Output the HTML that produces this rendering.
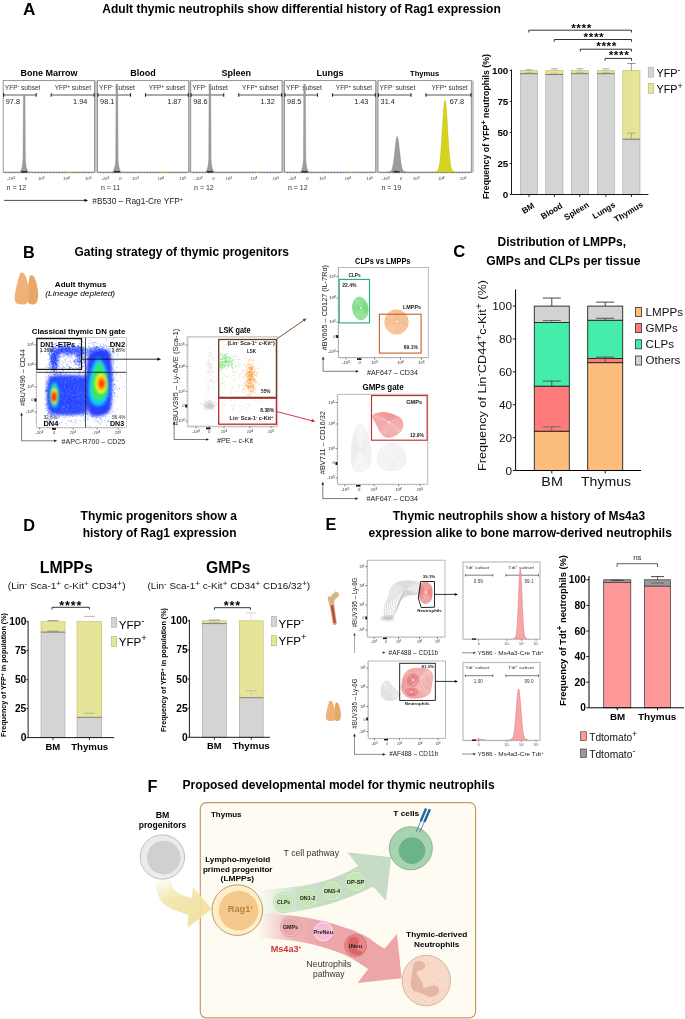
<!DOCTYPE html>
<html><head><meta charset="utf-8"><style>
html,body{margin:0;padding:0;background:#fff;}
svg{display:block;filter:blur(0.3px);font-family:"Liberation Sans",sans-serif;}
</style></head><body>
<svg width="685" height="1019" viewBox="0 0 685 1019">
<defs><clipPath id="clipDN"><rect x="36.6" y="337.6" width="89.80000000000001" height="90.0"/></clipPath><filter id="bl15" x="-50%" y="-50%" width="200%" height="200%"><feGaussianBlur stdDeviation="1.4"/></filter><filter id="bl08" x="-50%" y="-50%" width="200%" height="200%"><feGaussianBlur stdDeviation="0.8"/></filter><linearGradient id="gy" x1="0" y1="0" x2="0.35" y2="1"><stop offset="0" stop-color="#f1e3a3" stop-opacity="0.05"/><stop offset="0.45" stop-color="#f1e3a3" stop-opacity="0.85"/><stop offset="1" stop-color="#f0e2a0"/></linearGradient><linearGradient id="gg" gradientUnits="userSpaceOnUse" x1="258" y1="0" x2="330" y2="0"><stop offset="0" stop-color="#c6dcc6" stop-opacity="0"/><stop offset="0.55" stop-color="#c6dcc6" stop-opacity="0.85"/><stop offset="1" stop-color="#c6dcc6"/></linearGradient><linearGradient id="gr" gradientUnits="userSpaceOnUse" x1="258" y1="0" x2="320" y2="0"><stop offset="0" stop-color="#eca6a8" stop-opacity="0"/><stop offset="0.6" stop-color="#eca6a8" stop-opacity="0.85"/><stop offset="1" stop-color="#eca6a8"/></linearGradient></defs>
<rect width="685" height="1019" fill="#fff"/>
<text x="22.90" y="14.70" font-size="17.2" font-weight="bold" fill="#000" >A</text>
<text x="102.30" y="12.80" font-size="12" font-weight="bold" fill="#000" textLength="398.50" lengthAdjust="spacingAndGlyphs" >Adult thymic neutrophils show differential history of Rag1 expression</text>
<rect x="94.30" y="80.60" width="2.80" height="91.90" fill="#c4c4c4" stroke="none" stroke-width="1" />
<rect x="3.20" y="80.60" width="91.40" height="91.90" fill="#fff" stroke="#8a8a8a" stroke-width="0.9" />
<text x="48.90" y="75.80" font-size="9" font-weight="bold" fill="#000" text-anchor="middle" >Bone Marrow</text>
<text x="4.80" y="90.30" font-size="6.6" font-weight="normal" fill="#333" >YFP<tspan baseline-shift="super" font-size="70%">-</tspan> subset</text>
<text x="91.00" y="90.30" font-size="6.5" font-weight="normal" fill="#333" text-anchor="end" >YFP<tspan baseline-shift="super" font-size="70%">+</tspan> subset</text>
<line x1="3.20" y1="95.00" x2="36.20" y2="95.00" stroke="#444" stroke-width="0.9" />
<line x1="3.60" y1="93.30" x2="3.60" y2="96.70" stroke="#222" stroke-width="1.1" />
<line x1="36.20" y1="93.30" x2="36.20" y2="96.70" stroke="#222" stroke-width="1.1" />
<line x1="51.20" y1="95.00" x2="94.60" y2="95.00" stroke="#444" stroke-width="0.9" />
<line x1="51.20" y1="93.30" x2="51.20" y2="96.70" stroke="#222" stroke-width="1.1" />
<line x1="94.20" y1="93.30" x2="94.20" y2="96.70" stroke="#222" stroke-width="1.1" />
<text x="5.80" y="104.00" font-size="7.3" font-weight="normal" fill="#222" >97.8</text>
<text x="87.30" y="104.00" font-size="7.3" font-weight="normal" fill="#222" text-anchor="end" >1.94</text>
<line x1="3.20" y1="171.90" x2="94.60" y2="171.90" stroke="#999" stroke-width="0.6" />
<line x1="6.20" y1="172.50" x2="6.20" y2="173.70" stroke="#555" stroke-width="0.5" />
<line x1="9.14" y1="172.50" x2="9.14" y2="173.70" stroke="#555" stroke-width="0.5" />
<line x1="12.09" y1="172.50" x2="12.09" y2="173.70" stroke="#555" stroke-width="0.5" />
<line x1="15.03" y1="172.50" x2="15.03" y2="173.70" stroke="#555" stroke-width="0.5" />
<line x1="17.98" y1="172.50" x2="17.98" y2="173.70" stroke="#555" stroke-width="0.5" />
<line x1="20.92" y1="172.50" x2="20.92" y2="173.70" stroke="#555" stroke-width="0.5" />
<line x1="23.87" y1="172.50" x2="23.87" y2="173.70" stroke="#555" stroke-width="0.5" />
<line x1="26.81" y1="172.50" x2="26.81" y2="173.70" stroke="#555" stroke-width="0.5" />
<line x1="29.76" y1="172.50" x2="29.76" y2="173.70" stroke="#555" stroke-width="0.5" />
<line x1="32.70" y1="172.50" x2="32.70" y2="173.70" stroke="#555" stroke-width="0.5" />
<line x1="35.65" y1="172.50" x2="35.65" y2="173.70" stroke="#555" stroke-width="0.5" />
<line x1="38.59" y1="172.50" x2="38.59" y2="173.70" stroke="#555" stroke-width="0.5" />
<line x1="41.54" y1="172.50" x2="41.54" y2="173.70" stroke="#555" stroke-width="0.5" />
<line x1="44.48" y1="172.50" x2="44.48" y2="173.70" stroke="#555" stroke-width="0.5" />
<line x1="47.43" y1="172.50" x2="47.43" y2="173.70" stroke="#555" stroke-width="0.5" />
<line x1="50.37" y1="172.50" x2="50.37" y2="173.70" stroke="#555" stroke-width="0.5" />
<line x1="53.32" y1="172.50" x2="53.32" y2="173.70" stroke="#555" stroke-width="0.5" />
<line x1="56.26" y1="172.50" x2="56.26" y2="173.70" stroke="#555" stroke-width="0.5" />
<line x1="59.21" y1="172.50" x2="59.21" y2="173.70" stroke="#555" stroke-width="0.5" />
<line x1="62.15" y1="172.50" x2="62.15" y2="173.70" stroke="#555" stroke-width="0.5" />
<line x1="65.10" y1="172.50" x2="65.10" y2="173.70" stroke="#555" stroke-width="0.5" />
<line x1="68.04" y1="172.50" x2="68.04" y2="173.70" stroke="#555" stroke-width="0.5" />
<line x1="70.99" y1="172.50" x2="70.99" y2="173.70" stroke="#555" stroke-width="0.5" />
<line x1="73.93" y1="172.50" x2="73.93" y2="173.70" stroke="#555" stroke-width="0.5" />
<line x1="76.88" y1="172.50" x2="76.88" y2="173.70" stroke="#555" stroke-width="0.5" />
<line x1="79.82" y1="172.50" x2="79.82" y2="173.70" stroke="#555" stroke-width="0.5" />
<line x1="82.77" y1="172.50" x2="82.77" y2="173.70" stroke="#555" stroke-width="0.5" />
<line x1="85.71" y1="172.50" x2="85.71" y2="173.70" stroke="#555" stroke-width="0.5" />
<line x1="88.66" y1="172.50" x2="88.66" y2="173.70" stroke="#555" stroke-width="0.5" />
<line x1="91.60" y1="172.50" x2="91.60" y2="173.70" stroke="#555" stroke-width="0.5" />
<text x="11.00" y="180.40" font-size="4.2" font-weight="normal" fill="#444" font-style="italic" text-anchor="middle" >-10<tspan baseline-shift="48%" font-size="82%">3</tspan></text>
<text x="26.00" y="180.40" font-size="4.2" font-weight="normal" fill="#444" font-style="italic" text-anchor="middle" >0</text>
<text x="41.20" y="180.40" font-size="4.2" font-weight="normal" fill="#444" font-style="italic" text-anchor="middle" >10<tspan baseline-shift="48%" font-size="82%">3</tspan></text>
<text x="66.40" y="180.40" font-size="4.2" font-weight="normal" fill="#444" font-style="italic" text-anchor="middle" >10<tspan baseline-shift="48%" font-size="82%">4</tspan></text>
<text x="88.30" y="180.40" font-size="4.2" font-weight="normal" fill="#444" font-style="italic" text-anchor="middle" >10<tspan baseline-shift="48%" font-size="82%">5</tspan></text>
<text x="6.60" y="190.00" font-size="7" font-weight="normal" fill="#333" >n = 12</text>
<path d="M23.35,95.2 L25.05,95.2 L25.40,158.10 C25.70,166.10 26.80,170.10 28.40,172.10 L20.00,172.10 C21.60,170.10 22.70,166.10 23.00,158.10 Z" fill="#9c9c9c" stroke="#8a8a8a" stroke-width="0.35" />
<rect x="21.20" y="171.10" width="6.00" height="1.40" fill="#222" stroke="none" stroke-width="1" />
<rect x="67.20" y="171.10" width="5.00" height="1.20" fill="#e8e070" stroke="none" stroke-width="1" />
<rect x="188.40" y="80.60" width="2.80" height="91.90" fill="#c4c4c4" stroke="none" stroke-width="1" />
<rect x="97.50" y="80.60" width="91.20" height="91.90" fill="#fff" stroke="#8a8a8a" stroke-width="0.9" />
<text x="143.10" y="75.80" font-size="9" font-weight="bold" fill="#000" text-anchor="middle" >Blood</text>
<text x="99.10" y="90.30" font-size="6.6" font-weight="normal" fill="#333" >YFP<tspan baseline-shift="super" font-size="70%">-</tspan> subset</text>
<text x="185.10" y="90.30" font-size="6.5" font-weight="normal" fill="#333" text-anchor="end" >YFP<tspan baseline-shift="super" font-size="70%">+</tspan> subset</text>
<line x1="97.50" y1="95.00" x2="130.50" y2="95.00" stroke="#444" stroke-width="0.9" />
<line x1="97.90" y1="93.30" x2="97.90" y2="96.70" stroke="#222" stroke-width="1.1" />
<line x1="130.50" y1="93.30" x2="130.50" y2="96.70" stroke="#222" stroke-width="1.1" />
<line x1="145.50" y1="95.00" x2="188.70" y2="95.00" stroke="#444" stroke-width="0.9" />
<line x1="145.50" y1="93.30" x2="145.50" y2="96.70" stroke="#222" stroke-width="1.1" />
<line x1="188.30" y1="93.30" x2="188.30" y2="96.70" stroke="#222" stroke-width="1.1" />
<text x="100.10" y="104.00" font-size="7.3" font-weight="normal" fill="#222" >98.1</text>
<text x="181.40" y="104.00" font-size="7.3" font-weight="normal" fill="#222" text-anchor="end" >1.87</text>
<line x1="97.50" y1="171.90" x2="188.70" y2="171.90" stroke="#999" stroke-width="0.6" />
<line x1="100.50" y1="172.50" x2="100.50" y2="173.70" stroke="#555" stroke-width="0.5" />
<line x1="103.44" y1="172.50" x2="103.44" y2="173.70" stroke="#555" stroke-width="0.5" />
<line x1="106.38" y1="172.50" x2="106.38" y2="173.70" stroke="#555" stroke-width="0.5" />
<line x1="109.31" y1="172.50" x2="109.31" y2="173.70" stroke="#555" stroke-width="0.5" />
<line x1="112.25" y1="172.50" x2="112.25" y2="173.70" stroke="#555" stroke-width="0.5" />
<line x1="115.19" y1="172.50" x2="115.19" y2="173.70" stroke="#555" stroke-width="0.5" />
<line x1="118.13" y1="172.50" x2="118.13" y2="173.70" stroke="#555" stroke-width="0.5" />
<line x1="121.07" y1="172.50" x2="121.07" y2="173.70" stroke="#555" stroke-width="0.5" />
<line x1="124.00" y1="172.50" x2="124.00" y2="173.70" stroke="#555" stroke-width="0.5" />
<line x1="126.94" y1="172.50" x2="126.94" y2="173.70" stroke="#555" stroke-width="0.5" />
<line x1="129.88" y1="172.50" x2="129.88" y2="173.70" stroke="#555" stroke-width="0.5" />
<line x1="132.82" y1="172.50" x2="132.82" y2="173.70" stroke="#555" stroke-width="0.5" />
<line x1="135.76" y1="172.50" x2="135.76" y2="173.70" stroke="#555" stroke-width="0.5" />
<line x1="138.69" y1="172.50" x2="138.69" y2="173.70" stroke="#555" stroke-width="0.5" />
<line x1="141.63" y1="172.50" x2="141.63" y2="173.70" stroke="#555" stroke-width="0.5" />
<line x1="144.57" y1="172.50" x2="144.57" y2="173.70" stroke="#555" stroke-width="0.5" />
<line x1="147.51" y1="172.50" x2="147.51" y2="173.70" stroke="#555" stroke-width="0.5" />
<line x1="150.44" y1="172.50" x2="150.44" y2="173.70" stroke="#555" stroke-width="0.5" />
<line x1="153.38" y1="172.50" x2="153.38" y2="173.70" stroke="#555" stroke-width="0.5" />
<line x1="156.32" y1="172.50" x2="156.32" y2="173.70" stroke="#555" stroke-width="0.5" />
<line x1="159.26" y1="172.50" x2="159.26" y2="173.70" stroke="#555" stroke-width="0.5" />
<line x1="162.20" y1="172.50" x2="162.20" y2="173.70" stroke="#555" stroke-width="0.5" />
<line x1="165.13" y1="172.50" x2="165.13" y2="173.70" stroke="#555" stroke-width="0.5" />
<line x1="168.07" y1="172.50" x2="168.07" y2="173.70" stroke="#555" stroke-width="0.5" />
<line x1="171.01" y1="172.50" x2="171.01" y2="173.70" stroke="#555" stroke-width="0.5" />
<line x1="173.95" y1="172.50" x2="173.95" y2="173.70" stroke="#555" stroke-width="0.5" />
<line x1="176.89" y1="172.50" x2="176.89" y2="173.70" stroke="#555" stroke-width="0.5" />
<line x1="179.82" y1="172.50" x2="179.82" y2="173.70" stroke="#555" stroke-width="0.5" />
<line x1="182.76" y1="172.50" x2="182.76" y2="173.70" stroke="#555" stroke-width="0.5" />
<line x1="185.70" y1="172.50" x2="185.70" y2="173.70" stroke="#555" stroke-width="0.5" />
<text x="105.30" y="180.40" font-size="4.2" font-weight="normal" fill="#444" font-style="italic" text-anchor="middle" >-10<tspan baseline-shift="48%" font-size="82%">3</tspan></text>
<text x="120.30" y="180.40" font-size="4.2" font-weight="normal" fill="#444" font-style="italic" text-anchor="middle" >0</text>
<text x="135.50" y="180.40" font-size="4.2" font-weight="normal" fill="#444" font-style="italic" text-anchor="middle" >10<tspan baseline-shift="48%" font-size="82%">3</tspan></text>
<text x="160.70" y="180.40" font-size="4.2" font-weight="normal" fill="#444" font-style="italic" text-anchor="middle" >10<tspan baseline-shift="48%" font-size="82%">4</tspan></text>
<text x="182.60" y="180.40" font-size="4.2" font-weight="normal" fill="#444" font-style="italic" text-anchor="middle" >10<tspan baseline-shift="48%" font-size="82%">5</tspan></text>
<text x="100.90" y="190.00" font-size="7" font-weight="normal" fill="#333" >n = 11</text>
<path d="M116.05,84.0 L117.75,84.0 L118.10,158.10 C118.40,166.10 119.50,170.10 121.10,172.10 L112.70,172.10 C114.30,170.10 115.40,166.10 115.70,158.10 Z" fill="#9c9c9c" stroke="#8a8a8a" stroke-width="0.35" />
<rect x="113.90" y="171.10" width="6.00" height="1.40" fill="#222" stroke="none" stroke-width="1" />
<rect x="161.50" y="171.10" width="5.00" height="1.20" fill="#e8e070" stroke="none" stroke-width="1" />
<rect x="281.70" y="80.60" width="2.80" height="91.90" fill="#c4c4c4" stroke="none" stroke-width="1" />
<rect x="190.70" y="80.60" width="91.30" height="91.90" fill="#fff" stroke="#8a8a8a" stroke-width="0.9" />
<text x="236.35" y="75.80" font-size="9" font-weight="bold" fill="#000" text-anchor="middle" >Spleen</text>
<text x="192.30" y="90.30" font-size="6.6" font-weight="normal" fill="#333" >YFP<tspan baseline-shift="super" font-size="70%">-</tspan> subset</text>
<text x="278.40" y="90.30" font-size="6.5" font-weight="normal" fill="#333" text-anchor="end" >YFP<tspan baseline-shift="super" font-size="70%">+</tspan> subset</text>
<line x1="190.70" y1="95.00" x2="223.70" y2="95.00" stroke="#444" stroke-width="0.9" />
<line x1="191.10" y1="93.30" x2="191.10" y2="96.70" stroke="#222" stroke-width="1.1" />
<line x1="223.70" y1="93.30" x2="223.70" y2="96.70" stroke="#222" stroke-width="1.1" />
<line x1="238.70" y1="95.00" x2="282.00" y2="95.00" stroke="#444" stroke-width="0.9" />
<line x1="238.70" y1="93.30" x2="238.70" y2="96.70" stroke="#222" stroke-width="1.1" />
<line x1="281.60" y1="93.30" x2="281.60" y2="96.70" stroke="#222" stroke-width="1.1" />
<text x="193.30" y="104.00" font-size="7.3" font-weight="normal" fill="#222" >98.6</text>
<text x="274.70" y="104.00" font-size="7.3" font-weight="normal" fill="#222" text-anchor="end" >1.32</text>
<line x1="190.70" y1="171.90" x2="282.00" y2="171.90" stroke="#999" stroke-width="0.6" />
<line x1="193.70" y1="172.50" x2="193.70" y2="173.70" stroke="#555" stroke-width="0.5" />
<line x1="196.64" y1="172.50" x2="196.64" y2="173.70" stroke="#555" stroke-width="0.5" />
<line x1="199.58" y1="172.50" x2="199.58" y2="173.70" stroke="#555" stroke-width="0.5" />
<line x1="202.52" y1="172.50" x2="202.52" y2="173.70" stroke="#555" stroke-width="0.5" />
<line x1="205.47" y1="172.50" x2="205.47" y2="173.70" stroke="#555" stroke-width="0.5" />
<line x1="208.41" y1="172.50" x2="208.41" y2="173.70" stroke="#555" stroke-width="0.5" />
<line x1="211.35" y1="172.50" x2="211.35" y2="173.70" stroke="#555" stroke-width="0.5" />
<line x1="214.29" y1="172.50" x2="214.29" y2="173.70" stroke="#555" stroke-width="0.5" />
<line x1="217.23" y1="172.50" x2="217.23" y2="173.70" stroke="#555" stroke-width="0.5" />
<line x1="220.17" y1="172.50" x2="220.17" y2="173.70" stroke="#555" stroke-width="0.5" />
<line x1="223.11" y1="172.50" x2="223.11" y2="173.70" stroke="#555" stroke-width="0.5" />
<line x1="226.06" y1="172.50" x2="226.06" y2="173.70" stroke="#555" stroke-width="0.5" />
<line x1="229.00" y1="172.50" x2="229.00" y2="173.70" stroke="#555" stroke-width="0.5" />
<line x1="231.94" y1="172.50" x2="231.94" y2="173.70" stroke="#555" stroke-width="0.5" />
<line x1="234.88" y1="172.50" x2="234.88" y2="173.70" stroke="#555" stroke-width="0.5" />
<line x1="237.82" y1="172.50" x2="237.82" y2="173.70" stroke="#555" stroke-width="0.5" />
<line x1="240.76" y1="172.50" x2="240.76" y2="173.70" stroke="#555" stroke-width="0.5" />
<line x1="243.70" y1="172.50" x2="243.70" y2="173.70" stroke="#555" stroke-width="0.5" />
<line x1="246.64" y1="172.50" x2="246.64" y2="173.70" stroke="#555" stroke-width="0.5" />
<line x1="249.59" y1="172.50" x2="249.59" y2="173.70" stroke="#555" stroke-width="0.5" />
<line x1="252.53" y1="172.50" x2="252.53" y2="173.70" stroke="#555" stroke-width="0.5" />
<line x1="255.47" y1="172.50" x2="255.47" y2="173.70" stroke="#555" stroke-width="0.5" />
<line x1="258.41" y1="172.50" x2="258.41" y2="173.70" stroke="#555" stroke-width="0.5" />
<line x1="261.35" y1="172.50" x2="261.35" y2="173.70" stroke="#555" stroke-width="0.5" />
<line x1="264.29" y1="172.50" x2="264.29" y2="173.70" stroke="#555" stroke-width="0.5" />
<line x1="267.23" y1="172.50" x2="267.23" y2="173.70" stroke="#555" stroke-width="0.5" />
<line x1="270.18" y1="172.50" x2="270.18" y2="173.70" stroke="#555" stroke-width="0.5" />
<line x1="273.12" y1="172.50" x2="273.12" y2="173.70" stroke="#555" stroke-width="0.5" />
<line x1="276.06" y1="172.50" x2="276.06" y2="173.70" stroke="#555" stroke-width="0.5" />
<line x1="279.00" y1="172.50" x2="279.00" y2="173.70" stroke="#555" stroke-width="0.5" />
<text x="198.50" y="180.40" font-size="4.2" font-weight="normal" fill="#444" font-style="italic" text-anchor="middle" >-10<tspan baseline-shift="48%" font-size="82%">3</tspan></text>
<text x="213.50" y="180.40" font-size="4.2" font-weight="normal" fill="#444" font-style="italic" text-anchor="middle" >0</text>
<text x="228.70" y="180.40" font-size="4.2" font-weight="normal" fill="#444" font-style="italic" text-anchor="middle" >10<tspan baseline-shift="48%" font-size="82%">3</tspan></text>
<text x="253.90" y="180.40" font-size="4.2" font-weight="normal" fill="#444" font-style="italic" text-anchor="middle" >10<tspan baseline-shift="48%" font-size="82%">4</tspan></text>
<text x="275.80" y="180.40" font-size="4.2" font-weight="normal" fill="#444" font-style="italic" text-anchor="middle" >10<tspan baseline-shift="48%" font-size="82%">5</tspan></text>
<text x="194.10" y="190.00" font-size="7" font-weight="normal" fill="#333" >n = 12</text>
<path d="M209.05,84.0 L210.75,84.0 L211.10,158.10 C211.40,166.10 212.50,170.10 214.10,172.10 L205.70,172.10 C207.30,170.10 208.40,166.10 208.70,158.10 Z" fill="#9c9c9c" stroke="#8a8a8a" stroke-width="0.35" />
<rect x="206.90" y="171.10" width="6.00" height="1.40" fill="#222" stroke="none" stroke-width="1" />
<rect x="254.70" y="171.10" width="5.00" height="1.20" fill="#e8e070" stroke="none" stroke-width="1" />
<rect x="375.40" y="80.60" width="2.80" height="91.90" fill="#c4c4c4" stroke="none" stroke-width="1" />
<rect x="284.50" y="80.60" width="91.20" height="91.90" fill="#fff" stroke="#8a8a8a" stroke-width="0.9" />
<text x="330.10" y="75.80" font-size="9" font-weight="bold" fill="#000" text-anchor="middle" >Lungs</text>
<text x="286.10" y="90.30" font-size="6.6" font-weight="normal" fill="#333" >YFP<tspan baseline-shift="super" font-size="70%">-</tspan> subset</text>
<text x="372.10" y="90.30" font-size="6.5" font-weight="normal" fill="#333" text-anchor="end" >YFP<tspan baseline-shift="super" font-size="70%">+</tspan> subset</text>
<line x1="284.50" y1="95.00" x2="317.50" y2="95.00" stroke="#444" stroke-width="0.9" />
<line x1="284.90" y1="93.30" x2="284.90" y2="96.70" stroke="#222" stroke-width="1.1" />
<line x1="317.50" y1="93.30" x2="317.50" y2="96.70" stroke="#222" stroke-width="1.1" />
<line x1="332.50" y1="95.00" x2="375.70" y2="95.00" stroke="#444" stroke-width="0.9" />
<line x1="332.50" y1="93.30" x2="332.50" y2="96.70" stroke="#222" stroke-width="1.1" />
<line x1="375.30" y1="93.30" x2="375.30" y2="96.70" stroke="#222" stroke-width="1.1" />
<text x="287.10" y="104.00" font-size="7.3" font-weight="normal" fill="#222" >98.5</text>
<text x="368.40" y="104.00" font-size="7.3" font-weight="normal" fill="#222" text-anchor="end" >1.43</text>
<line x1="284.50" y1="171.90" x2="375.70" y2="171.90" stroke="#999" stroke-width="0.6" />
<line x1="287.50" y1="172.50" x2="287.50" y2="173.70" stroke="#555" stroke-width="0.5" />
<line x1="290.44" y1="172.50" x2="290.44" y2="173.70" stroke="#555" stroke-width="0.5" />
<line x1="293.38" y1="172.50" x2="293.38" y2="173.70" stroke="#555" stroke-width="0.5" />
<line x1="296.31" y1="172.50" x2="296.31" y2="173.70" stroke="#555" stroke-width="0.5" />
<line x1="299.25" y1="172.50" x2="299.25" y2="173.70" stroke="#555" stroke-width="0.5" />
<line x1="302.19" y1="172.50" x2="302.19" y2="173.70" stroke="#555" stroke-width="0.5" />
<line x1="305.13" y1="172.50" x2="305.13" y2="173.70" stroke="#555" stroke-width="0.5" />
<line x1="308.07" y1="172.50" x2="308.07" y2="173.70" stroke="#555" stroke-width="0.5" />
<line x1="311.00" y1="172.50" x2="311.00" y2="173.70" stroke="#555" stroke-width="0.5" />
<line x1="313.94" y1="172.50" x2="313.94" y2="173.70" stroke="#555" stroke-width="0.5" />
<line x1="316.88" y1="172.50" x2="316.88" y2="173.70" stroke="#555" stroke-width="0.5" />
<line x1="319.82" y1="172.50" x2="319.82" y2="173.70" stroke="#555" stroke-width="0.5" />
<line x1="322.76" y1="172.50" x2="322.76" y2="173.70" stroke="#555" stroke-width="0.5" />
<line x1="325.69" y1="172.50" x2="325.69" y2="173.70" stroke="#555" stroke-width="0.5" />
<line x1="328.63" y1="172.50" x2="328.63" y2="173.70" stroke="#555" stroke-width="0.5" />
<line x1="331.57" y1="172.50" x2="331.57" y2="173.70" stroke="#555" stroke-width="0.5" />
<line x1="334.51" y1="172.50" x2="334.51" y2="173.70" stroke="#555" stroke-width="0.5" />
<line x1="337.44" y1="172.50" x2="337.44" y2="173.70" stroke="#555" stroke-width="0.5" />
<line x1="340.38" y1="172.50" x2="340.38" y2="173.70" stroke="#555" stroke-width="0.5" />
<line x1="343.32" y1="172.50" x2="343.32" y2="173.70" stroke="#555" stroke-width="0.5" />
<line x1="346.26" y1="172.50" x2="346.26" y2="173.70" stroke="#555" stroke-width="0.5" />
<line x1="349.20" y1="172.50" x2="349.20" y2="173.70" stroke="#555" stroke-width="0.5" />
<line x1="352.13" y1="172.50" x2="352.13" y2="173.70" stroke="#555" stroke-width="0.5" />
<line x1="355.07" y1="172.50" x2="355.07" y2="173.70" stroke="#555" stroke-width="0.5" />
<line x1="358.01" y1="172.50" x2="358.01" y2="173.70" stroke="#555" stroke-width="0.5" />
<line x1="360.95" y1="172.50" x2="360.95" y2="173.70" stroke="#555" stroke-width="0.5" />
<line x1="363.89" y1="172.50" x2="363.89" y2="173.70" stroke="#555" stroke-width="0.5" />
<line x1="366.82" y1="172.50" x2="366.82" y2="173.70" stroke="#555" stroke-width="0.5" />
<line x1="369.76" y1="172.50" x2="369.76" y2="173.70" stroke="#555" stroke-width="0.5" />
<line x1="372.70" y1="172.50" x2="372.70" y2="173.70" stroke="#555" stroke-width="0.5" />
<text x="292.30" y="180.40" font-size="4.2" font-weight="normal" fill="#444" font-style="italic" text-anchor="middle" >-10<tspan baseline-shift="48%" font-size="82%">3</tspan></text>
<text x="307.30" y="180.40" font-size="4.2" font-weight="normal" fill="#444" font-style="italic" text-anchor="middle" >0</text>
<text x="322.50" y="180.40" font-size="4.2" font-weight="normal" fill="#444" font-style="italic" text-anchor="middle" >10<tspan baseline-shift="48%" font-size="82%">3</tspan></text>
<text x="347.70" y="180.40" font-size="4.2" font-weight="normal" fill="#444" font-style="italic" text-anchor="middle" >10<tspan baseline-shift="48%" font-size="82%">4</tspan></text>
<text x="369.60" y="180.40" font-size="4.2" font-weight="normal" fill="#444" font-style="italic" text-anchor="middle" >10<tspan baseline-shift="48%" font-size="82%">5</tspan></text>
<text x="287.90" y="190.00" font-size="7" font-weight="normal" fill="#333" >n = 12</text>
<path d="M303.75,84.0 L305.45,84.0 L305.80,158.10 C306.10,166.10 307.20,170.10 308.80,172.10 L300.40,172.10 C302.00,170.10 303.10,166.10 303.40,158.10 Z" fill="#9c9c9c" stroke="#8a8a8a" stroke-width="0.35" />
<rect x="301.60" y="171.10" width="6.00" height="1.40" fill="#222" stroke="none" stroke-width="1" />
<rect x="348.50" y="171.10" width="5.00" height="1.20" fill="#e8e070" stroke="none" stroke-width="1" />
<rect x="471.00" y="80.60" width="2.80" height="91.90" fill="#c4c4c4" stroke="none" stroke-width="1" />
<rect x="378.00" y="80.60" width="93.30" height="91.90" fill="#fff" stroke="#8a8a8a" stroke-width="0.9" />
<text x="424.65" y="75.80" font-size="7.6" font-weight="bold" fill="#000" text-anchor="middle" >Thymus</text>
<text x="379.60" y="90.30" font-size="6.6" font-weight="normal" fill="#333" >YFP<tspan baseline-shift="super" font-size="70%">-</tspan> subset</text>
<text x="467.70" y="90.30" font-size="6.5" font-weight="normal" fill="#333" text-anchor="end" >YFP<tspan baseline-shift="super" font-size="70%">+</tspan> subset</text>
<line x1="378.00" y1="95.00" x2="411.00" y2="95.00" stroke="#444" stroke-width="0.9" />
<line x1="378.40" y1="93.30" x2="378.40" y2="96.70" stroke="#222" stroke-width="1.1" />
<line x1="411.00" y1="93.30" x2="411.00" y2="96.70" stroke="#222" stroke-width="1.1" />
<line x1="426.00" y1="95.00" x2="471.30" y2="95.00" stroke="#444" stroke-width="0.9" />
<line x1="426.00" y1="93.30" x2="426.00" y2="96.70" stroke="#222" stroke-width="1.1" />
<line x1="470.90" y1="93.30" x2="470.90" y2="96.70" stroke="#222" stroke-width="1.1" />
<text x="380.60" y="104.00" font-size="7.3" font-weight="normal" fill="#222" >31.4</text>
<text x="464.00" y="104.00" font-size="7.3" font-weight="normal" fill="#222" text-anchor="end" >67.8</text>
<line x1="378.00" y1="171.90" x2="471.30" y2="171.90" stroke="#999" stroke-width="0.6" />
<line x1="381.00" y1="172.50" x2="381.00" y2="173.70" stroke="#555" stroke-width="0.5" />
<line x1="384.01" y1="172.50" x2="384.01" y2="173.70" stroke="#555" stroke-width="0.5" />
<line x1="387.02" y1="172.50" x2="387.02" y2="173.70" stroke="#555" stroke-width="0.5" />
<line x1="390.03" y1="172.50" x2="390.03" y2="173.70" stroke="#555" stroke-width="0.5" />
<line x1="393.04" y1="172.50" x2="393.04" y2="173.70" stroke="#555" stroke-width="0.5" />
<line x1="396.05" y1="172.50" x2="396.05" y2="173.70" stroke="#555" stroke-width="0.5" />
<line x1="399.06" y1="172.50" x2="399.06" y2="173.70" stroke="#555" stroke-width="0.5" />
<line x1="402.07" y1="172.50" x2="402.07" y2="173.70" stroke="#555" stroke-width="0.5" />
<line x1="405.08" y1="172.50" x2="405.08" y2="173.70" stroke="#555" stroke-width="0.5" />
<line x1="408.09" y1="172.50" x2="408.09" y2="173.70" stroke="#555" stroke-width="0.5" />
<line x1="411.10" y1="172.50" x2="411.10" y2="173.70" stroke="#555" stroke-width="0.5" />
<line x1="414.11" y1="172.50" x2="414.11" y2="173.70" stroke="#555" stroke-width="0.5" />
<line x1="417.12" y1="172.50" x2="417.12" y2="173.70" stroke="#555" stroke-width="0.5" />
<line x1="420.13" y1="172.50" x2="420.13" y2="173.70" stroke="#555" stroke-width="0.5" />
<line x1="423.14" y1="172.50" x2="423.14" y2="173.70" stroke="#555" stroke-width="0.5" />
<line x1="426.16" y1="172.50" x2="426.16" y2="173.70" stroke="#555" stroke-width="0.5" />
<line x1="429.17" y1="172.50" x2="429.17" y2="173.70" stroke="#555" stroke-width="0.5" />
<line x1="432.18" y1="172.50" x2="432.18" y2="173.70" stroke="#555" stroke-width="0.5" />
<line x1="435.19" y1="172.50" x2="435.19" y2="173.70" stroke="#555" stroke-width="0.5" />
<line x1="438.20" y1="172.50" x2="438.20" y2="173.70" stroke="#555" stroke-width="0.5" />
<line x1="441.21" y1="172.50" x2="441.21" y2="173.70" stroke="#555" stroke-width="0.5" />
<line x1="444.22" y1="172.50" x2="444.22" y2="173.70" stroke="#555" stroke-width="0.5" />
<line x1="447.23" y1="172.50" x2="447.23" y2="173.70" stroke="#555" stroke-width="0.5" />
<line x1="450.24" y1="172.50" x2="450.24" y2="173.70" stroke="#555" stroke-width="0.5" />
<line x1="453.25" y1="172.50" x2="453.25" y2="173.70" stroke="#555" stroke-width="0.5" />
<line x1="456.26" y1="172.50" x2="456.26" y2="173.70" stroke="#555" stroke-width="0.5" />
<line x1="459.27" y1="172.50" x2="459.27" y2="173.70" stroke="#555" stroke-width="0.5" />
<line x1="462.28" y1="172.50" x2="462.28" y2="173.70" stroke="#555" stroke-width="0.5" />
<line x1="465.29" y1="172.50" x2="465.29" y2="173.70" stroke="#555" stroke-width="0.5" />
<line x1="468.30" y1="172.50" x2="468.30" y2="173.70" stroke="#555" stroke-width="0.5" />
<text x="385.80" y="180.40" font-size="4.2" font-weight="normal" fill="#444" font-style="italic" text-anchor="middle" >-10<tspan baseline-shift="48%" font-size="82%">3</tspan></text>
<text x="400.80" y="180.40" font-size="4.2" font-weight="normal" fill="#444" font-style="italic" text-anchor="middle" >0</text>
<text x="416.00" y="180.40" font-size="4.2" font-weight="normal" fill="#444" font-style="italic" text-anchor="middle" >10<tspan baseline-shift="48%" font-size="82%">3</tspan></text>
<text x="441.20" y="180.40" font-size="4.2" font-weight="normal" fill="#444" font-style="italic" text-anchor="middle" >10<tspan baseline-shift="48%" font-size="82%">4</tspan></text>
<text x="463.10" y="180.40" font-size="4.2" font-weight="normal" fill="#444" font-style="italic" text-anchor="middle" >10<tspan baseline-shift="48%" font-size="82%">5</tspan></text>
<text x="381.40" y="190.00" font-size="7" font-weight="normal" fill="#333" >n = 19</text>
<path d="M388.00,171.99 L388.46,171.97 L388.92,171.95 L389.38,171.89 L389.84,171.79 L390.30,171.61 L390.76,171.30 L391.22,170.79 L391.68,170.01 L392.14,168.85 L392.60,167.21 L393.06,164.99 L393.52,162.16 L393.98,158.71 L394.44,154.77 L394.90,150.53 L395.36,146.29 L395.82,142.43 L396.28,139.32 L396.74,137.30 L397.20,136.60 L397.66,137.30 L398.12,139.32 L398.58,142.43 L399.04,146.29 L399.50,150.53 L399.96,154.77 L400.42,158.71 L400.88,162.16 L401.34,164.99 L401.80,167.21 L402.26,168.85 L402.72,170.01 L403.18,170.79 L403.64,171.30 L404.10,171.61 L404.56,171.79 L405.02,171.89 L405.48,171.95 L405.94,171.97 L406.40,171.99 Z" fill="#9c9c9c" stroke="#808080" stroke-width="0.4" />
<rect x="393.50" y="171.10" width="6.00" height="1.40" fill="#222" stroke="none" stroke-width="1" />
<path d="M434.60,171.98 L435.12,171.95 L435.64,171.89 L436.16,171.78 L436.68,171.57 L437.20,171.20 L437.72,170.57 L438.24,169.55 L438.76,167.96 L439.28,165.60 L439.80,162.26 L440.32,157.75 L440.84,151.98 L441.36,144.98 L441.88,136.95 L442.40,128.33 L442.92,119.72 L443.44,111.86 L443.96,105.54 L444.48,101.43 L445.00,100.00 L445.52,101.43 L446.04,105.54 L446.56,111.86 L447.08,119.72 L447.60,128.33 L448.12,136.95 L448.64,144.98 L449.16,151.98 L449.68,157.75 L450.20,162.26 L450.72,165.60 L451.24,167.96 L451.76,169.55 L452.28,170.57 L452.80,171.20 L453.32,171.57 L453.84,171.78 L454.36,171.89 L454.88,171.95 L455.40,171.98 Z" fill="#d6d21e" stroke="#b8b400" stroke-width="0.4" />
<line x1="4.00" y1="200.40" x2="85.00" y2="200.40" stroke="#000" stroke-width="0.7" />
<path d="M88.00,200.40 L84.50,201.97 L84.50,198.83 Z" fill="#000" stroke="none" stroke-width="1" />
<text x="92.30" y="203.60" font-size="8.3" font-weight="normal" fill="#222" >#B530 – Rag1-Cre YFP<tspan baseline-shift="super" font-size="70%">+</tspan></text>
<text x="489.20" y="126.50" font-size="9" font-weight="bold" fill="#000" text-anchor="middle" textLength="145.00" lengthAdjust="spacingAndGlyphs" transform="rotate(-90 489.20 126.50)" >Frequency of YFP<tspan baseline-shift="48%" font-size="82%">+</tspan> neutrophils (%)</text>
<text x="508.30" y="73.80" font-size="9.8" font-weight="bold" fill="#000" text-anchor="end" >100</text>
<line x1="509.80" y1="70.50" x2="511.50" y2="70.50" stroke="#000" stroke-width="0.8" />
<text x="508.30" y="104.80" font-size="9.8" font-weight="bold" fill="#000" text-anchor="end" >75</text>
<line x1="509.80" y1="101.50" x2="511.50" y2="101.50" stroke="#000" stroke-width="0.8" />
<text x="508.30" y="135.80" font-size="9.8" font-weight="bold" fill="#000" text-anchor="end" >50</text>
<line x1="509.80" y1="132.50" x2="511.50" y2="132.50" stroke="#000" stroke-width="0.8" />
<text x="508.30" y="166.80" font-size="9.8" font-weight="bold" fill="#000" text-anchor="end" >25</text>
<line x1="509.80" y1="163.50" x2="511.50" y2="163.50" stroke="#000" stroke-width="0.8" />
<text x="508.30" y="197.80" font-size="9.8" font-weight="bold" fill="#000" text-anchor="end" >0</text>
<line x1="509.80" y1="194.50" x2="511.50" y2="194.50" stroke="#000" stroke-width="0.8" />
<rect x="520.40" y="70.50" width="17.20" height="3.22" fill="#e6e496" stroke="#b4b060" stroke-width="0.5" />
<rect x="520.40" y="73.72" width="17.20" height="120.78" fill="#d4d4d4" stroke="#9a9a9a" stroke-width="0.5" />
<line x1="520.40" y1="73.72" x2="537.60" y2="73.72" stroke="#555" stroke-width="0.6" />
<line x1="529.00" y1="194.50" x2="529.00" y2="197.00" stroke="#000" stroke-width="0.8" />
<rect x="545.80" y="70.50" width="17.20" height="3.97" fill="#e6e496" stroke="#b4b060" stroke-width="0.5" />
<rect x="545.80" y="74.47" width="17.20" height="120.03" fill="#d4d4d4" stroke="#9a9a9a" stroke-width="0.5" />
<line x1="545.80" y1="74.47" x2="563.00" y2="74.47" stroke="#555" stroke-width="0.6" />
<line x1="554.40" y1="194.50" x2="554.40" y2="197.00" stroke="#000" stroke-width="0.8" />
<rect x="571.20" y="70.50" width="17.20" height="3.22" fill="#e6e496" stroke="#b4b060" stroke-width="0.5" />
<rect x="571.20" y="73.72" width="17.20" height="120.78" fill="#d4d4d4" stroke="#9a9a9a" stroke-width="0.5" />
<line x1="571.20" y1="73.72" x2="588.40" y2="73.72" stroke="#555" stroke-width="0.6" />
<line x1="579.80" y1="194.50" x2="579.80" y2="197.00" stroke="#000" stroke-width="0.8" />
<rect x="597.30" y="70.50" width="17.20" height="3.22" fill="#e6e496" stroke="#b4b060" stroke-width="0.5" />
<rect x="597.30" y="73.72" width="17.20" height="120.78" fill="#d4d4d4" stroke="#9a9a9a" stroke-width="0.5" />
<line x1="597.30" y1="73.72" x2="614.50" y2="73.72" stroke="#555" stroke-width="0.6" />
<line x1="605.90" y1="194.50" x2="605.90" y2="197.00" stroke="#000" stroke-width="0.8" />
<rect x="622.80" y="70.50" width="17.20" height="68.70" fill="#e6e496" stroke="#b4b060" stroke-width="0.5" />
<rect x="622.80" y="139.20" width="17.20" height="55.30" fill="#d4d4d4" stroke="#9a9a9a" stroke-width="0.5" />
<line x1="622.80" y1="139.20" x2="640.00" y2="139.20" stroke="#555" stroke-width="0.6" />
<line x1="631.40" y1="194.50" x2="631.40" y2="197.00" stroke="#000" stroke-width="0.8" />
<line x1="529.00" y1="70.50" x2="529.00" y2="69.76" stroke="#777" stroke-width="0.5" />
<line x1="525.50" y1="69.76" x2="532.50" y2="69.76" stroke="#777" stroke-width="0.6" />
<line x1="525.00" y1="72.36" x2="533.00" y2="72.36" stroke="#999" stroke-width="0.5" />
<line x1="554.40" y1="70.50" x2="554.40" y2="68.76" stroke="#777" stroke-width="0.5" />
<line x1="550.90" y1="68.76" x2="557.90" y2="68.76" stroke="#777" stroke-width="0.6" />
<line x1="550.40" y1="73.23" x2="558.40" y2="73.23" stroke="#999" stroke-width="0.5" />
<line x1="579.80" y1="70.50" x2="579.80" y2="68.76" stroke="#777" stroke-width="0.5" />
<line x1="576.30" y1="68.76" x2="583.30" y2="68.76" stroke="#777" stroke-width="0.6" />
<line x1="575.80" y1="72.36" x2="583.80" y2="72.36" stroke="#999" stroke-width="0.5" />
<line x1="605.90" y1="70.50" x2="605.90" y2="68.76" stroke="#777" stroke-width="0.5" />
<line x1="602.40" y1="68.76" x2="609.40" y2="68.76" stroke="#777" stroke-width="0.6" />
<line x1="601.90" y1="72.36" x2="609.90" y2="72.36" stroke="#999" stroke-width="0.5" />
<line x1="631.40" y1="70.50" x2="631.40" y2="63.50" stroke="#777" stroke-width="0.7" />
<line x1="627.20" y1="63.50" x2="635.60" y2="63.50" stroke="#777" stroke-width="0.8" />
<line x1="631.40" y1="139.20" x2="631.40" y2="133.12" stroke="#999" stroke-width="0.7" />
<line x1="627.20" y1="133.12" x2="635.60" y2="133.12" stroke="#999" stroke-width="0.8" />
<line x1="511.50" y1="69.50" x2="511.50" y2="194.50" stroke="#000" stroke-width="0.9" />
<line x1="511.50" y1="194.50" x2="648.40" y2="194.50" stroke="#000" stroke-width="0.9" />
<rect x="648.20" y="67.20" width="5.30" height="10.00" fill="#d4d4d4" stroke="#999" stroke-width="0.5" />
<rect x="648.20" y="83.30" width="5.30" height="10.00" fill="#e6e496" stroke="#aaa050" stroke-width="0.5" />
<text x="656.50" y="77.20" font-size="10.8" font-weight="normal" fill="#000" >YFP<tspan baseline-shift="48%" font-size="82%">-</tspan></text>
<text x="656.50" y="93.00" font-size="10.8" font-weight="normal" fill="#000" >YFP<tspan baseline-shift="48%" font-size="82%">+</tspan></text>
<path d="M528.8,32.5 L528.8,30.2 L631.5,30.2 L631.5,32.5" fill="none" stroke="#000" stroke-width="0.8" />
<text x="581.50" y="32.10" font-size="11.8" font-weight="bold" fill="#000" text-anchor="middle" letter-spacing="0.55">****</text>
<path d="M554.2,41.8 L554.2,39.5 L631.5,39.5 L631.5,41.8" fill="none" stroke="#000" stroke-width="0.8" />
<text x="593.90" y="40.60" font-size="11.8" font-weight="bold" fill="#000" text-anchor="middle" letter-spacing="0.55">****</text>
<path d="M580.3,51.5 L580.3,49.2 L631.5,49.2 L631.5,51.5" fill="none" stroke="#000" stroke-width="0.8" />
<text x="606.60" y="50.10" font-size="11.8" font-weight="bold" fill="#000" text-anchor="middle" letter-spacing="0.55">****</text>
<path d="M605.1,60.7 L605.1,58.4 L631.5,58.4 L631.5,60.7" fill="none" stroke="#000" stroke-width="0.8" />
<text x="619.00" y="59.30" font-size="11.8" font-weight="bold" fill="#000" text-anchor="middle" letter-spacing="0.55">****</text>
<text x="0" y="0" font-size="8.3" font-weight="bold" text-anchor="middle" transform="translate(529.5,210.6) rotate(-31)">BM</text>
<text x="0" y="0" font-size="8.3" font-weight="bold" text-anchor="middle" transform="translate(553.1,213.4) rotate(-31)">Blood</text>
<text x="0" y="0" font-size="8.3" font-weight="bold" text-anchor="middle" transform="translate(577.9,213.4) rotate(-31)">Spleen</text>
<text x="0" y="0" font-size="8.3" font-weight="bold" text-anchor="middle" transform="translate(605.2,212.79999999999998) rotate(-31)">Lungs</text>
<text x="0" y="0" font-size="8.3" font-weight="bold" text-anchor="middle" transform="translate(630.0,214.29999999999998) rotate(-31)">Thymus</text>
<text x="23.00" y="258.10" font-size="16.3" font-weight="bold" fill="#000" >B</text>
<text x="74.50" y="255.60" font-size="12" font-weight="bold" fill="#000" textLength="214.50" lengthAdjust="spacingAndGlyphs" >Gating strategy of thymic progenitors</text>
<path d="M32.30,275.30 C35.00,276.00 37.00,284.00 38.00,291.00 C38.60,298.50 37.40,304.20 34.00,304.40 C30.00,304.40 27.00,304.20 26.80,297.00 C27.60,289.00 28.60,282.00 29.80,275.50 Z" fill="#e9a765" stroke="none" stroke-width="1" opacity="1.0"/>
<path d="M23.00,272.80 C25.80,273.80 27.80,282.00 28.90,290.00 C30.00,297.50 28.60,304.20 24.50,304.40 C17.00,304.40 14.80,304.20 14.60,297.00 C15.80,289.00 17.30,282.00 20.20,272.80 Z" fill="#eeb276" stroke="none" stroke-width="1" opacity="1.0"/>
<text x="54.80" y="286.50" font-size="7.7" font-weight="bold" fill="#000" textLength="51.60" lengthAdjust="spacingAndGlyphs" >Adult thymus</text>
<text x="45.30" y="296.20" font-size="7.7" font-weight="normal" fill="#000" font-style="italic" textLength="69.80" lengthAdjust="spacingAndGlyphs" >(Lineage depleted)</text>
<text x="31.80" y="334.20" font-size="7.9" font-weight="bold" fill="#000" textLength="93.50" lengthAdjust="spacingAndGlyphs" >Classical thymic DN gate</text>
<rect x="36.60" y="337.60" width="89.80" height="90.00" fill="#fff" stroke="#bdbdbd" stroke-width="0.8" />
<g clip-path="url(#clipDN)">
<g filter="url(#bl15)" opacity="0.92">
<path d="M49,377 C58,373.5 75,375.5 87,376 L87,413 C75,416 60,416 50,413 C46,405 46,386 49,377 Z" fill="#1f3cff" stroke="none" stroke-width="1" />
<path d="M88,356 C92,350 106,349 110,353 C113,362 113,395 111,408 C109,415 100,417 92,416 C88,414 86.5,405 86.5,395 C86.5,380 86,365 88,356 Z" fill="#1a30ff" stroke="none" stroke-width="1" />
</g>
<g filter="url(#bl15)" opacity="0.55">
<path d="M52,368 C50,358 53,349 60,347.5 C68,346 78,347 83,349 C86,351 84,356 82,357 C76,354 66,352.5 60,354 C57,356 57,362 57,369 Z" fill="#2a44ff" stroke="none" stroke-width="1" />
<ellipse cx="97" cy="352" rx="12" ry="3.5" fill="#2a44ff"/>
</g>
<path d="M64.7 401.1h0.17M65.1 391.2h0.17M55.9 392.4h0.17M82.5 400.1h0.17M81.5 398.0h0.17M73.1 397.2h0.17M46.3 405.3h0.17M74.6 401.0h0.17M46.0 374.1h0.17M56.4 389.4h0.17M72.0 394.4h0.17M74.8 387.3h0.17M72.0 399.7h0.17M59.4 415.6h0.17M75.2 409.4h0.17M59.9 386.1h0.17M63.5 393.7h0.17M76.2 398.0h0.17M62.2 383.5h0.17M61.2 409.7h0.17M57.5 397.9h0.17M73.5 377.1h0.17M68.6 410.7h0.17M66.6 385.2h0.17M74.5 394.3h0.17M49.0 404.9h0.17M76.7 406.4h0.17M86.7 399.3h0.17M69.6 379.4h0.17M76.0 387.7h0.17M62.1 379.8h0.17M55.4 388.6h0.17M84.8 370.6h0.17M49.0 397.9h0.17M86.8 401.9h0.17M72.6 386.2h0.17M53.4 406.7h0.17M82.3 396.9h0.17M71.2 400.2h0.17M88.7 402.4h0.17M74.7 401.6h0.17M47.6 410.4h0.17M80.4 401.4h0.17M78.9 373.3h0.17M65.6 407.2h0.17M51.0 414.3h0.17M75.2 393.2h0.17M72.2 402.8h0.17M69.6 408.7h0.17M59.4 390.0h0.17M81.5 395.3h0.17M56.6 406.4h0.17M87.1 389.7h0.17M50.1 393.4h0.17M66.1 391.4h0.17M86.3 382.7h0.17M84.4 379.8h0.17M57.8 402.6h0.17M82.7 405.3h0.17M72.5 396.7h0.17M70.0 401.9h0.17M65.7 398.3h0.17M75.4 395.0h0.17M77.9 401.8h0.17M94.1 398.9h0.17M62.4 390.5h0.17M67.8 406.1h0.17M63.6 399.6h0.17M91.9 364.2h0.17M53.4 397.9h0.17M73.2 397.9h0.17M62.4 402.9h0.17M71.7 388.7h0.17M99.6 399.3h0.17M60.8 393.8h0.17M65.1 394.2h0.17M81.1 381.0h0.17M67.1 406.4h0.17M79.1 412.9h0.17M45.9 390.8h0.17M63.6 402.5h0.17M82.2 362.8h0.17M82.2 377.6h0.17M76.9 377.1h0.17M70.3 409.3h0.17M66.1 397.3h0.17M78.4 396.7h0.17M66.8 413.4h0.17M81.6 391.5h0.17M103.7 381.2h0.17M79.9 391.8h0.17M69.7 403.5h0.17M70.9 402.7h0.17M48.1 376.9h0.17M76.0 383.4h0.17M54.7 377.4h0.17M84.5 404.0h0.17M87.1 383.7h0.17M68.0 381.3h0.17M78.0 414.1h0.17M56.4 413.7h0.17M80.8 392.9h0.17M66.7 387.8h0.17M73.2 399.9h0.17M87.5 382.8h0.17M82.8 412.8h0.17M86.9 392.8h0.17M58.3 407.2h0.17M69.5 396.5h0.17M86.5 391.8h0.17M72.1 387.7h0.17M67.9 405.0h0.17M69.0 410.9h0.17M67.2 407.5h0.17M87.4 414.3h0.17M59.3 405.6h0.17M52.0 394.8h0.17M65.5 394.7h0.17M60.3 397.8h0.17M91.3 395.5h0.17M74.9 407.0h0.17M65.4 379.9h0.17M60.8 407.9h0.17M46.6 387.8h0.17M81.1 404.5h0.17M68.1 404.7h0.17M70.2 380.9h0.17M47.7 387.3h0.17M80.0 388.2h0.17M56.3 385.7h0.17M48.1 393.6h0.17M52.7 399.4h0.17M59.7 371.7h0.17M77.4 391.7h0.17M71.8 389.5h0.17M78.1 404.0h0.17M76.7 398.9h0.17M85.3 402.9h0.17M73.9 370.0h0.17M79.7 410.7h0.17M64.1 389.4h0.17M93.2 373.9h0.17M55.9 403.3h0.17M92.5 393.6h0.17M75.3 405.8h0.17M56.2 393.9h0.17M71.8 404.9h0.17M67.6 392.7h0.17M54.8 390.7h0.17M79.6 396.2h0.17M56.9 384.9h0.17M102.7 408.7h0.17M76.3 363.9h0.17M76.1 400.8h0.17M89.9 400.1h0.17M67.1 401.3h0.17M72.2 386.6h0.17M85.2 416.7h0.17M49.8 387.0h0.17M71.8 397.2h0.17M62.8 383.3h0.17M95.6 407.4h0.17M52.5 378.9h0.17M90.1 406.9h0.17M91.7 404.7h0.17M56.7 398.1h0.17M67.2 401.3h0.17M58.5 393.5h0.17M74.0 399.5h0.17M76.3 397.5h0.17M63.8 404.5h0.17M68.6 385.1h0.17M59.9 395.0h0.17M66.6 396.9h0.17M68.0 397.1h0.17M66.3 379.9h0.17M73.5 407.6h0.17M73.7 392.7h0.17M73.8 383.4h0.17M55.9 403.9h0.17M53.9 363.5h0.17M54.5 413.9h0.17M63.0 378.6h0.17M58.1 401.3h0.17M74.5 397.1h0.17M87.3 403.5h0.17M67.7 402.2h0.17M89.5 406.7h0.17M81.3 382.0h0.17M66.1 403.8h0.17M64.1 407.8h0.17M75.8 405.9h0.17M84.1 392.4h0.17M63.5 405.5h0.17M80.7 395.1h0.17M52.8 397.3h0.17M72.7 408.6h0.17M78.2 395.3h0.17M79.1 401.5h0.17M70.7 395.7h0.17M64.8 403.2h0.17M54.3 387.5h0.17M68.1 377.4h0.17M62.3 370.9h0.17M59.1 401.8h0.17M75.4 394.3h0.17M65.0 378.0h0.17M91.8 401.2h0.17M82.2 384.4h0.17M65.6 373.2h0.17M78.1 406.2h0.17M76.2 373.9h0.17M59.8 378.2h0.17M68.4 398.0h0.17M76.2 403.4h0.17M87.5 409.0h0.17M50.9 388.9h0.17M54.2 382.1h0.17M66.9 395.1h0.17M74.4 376.0h0.17M51.9 394.7h0.17M65.4 391.3h0.17M67.2 385.9h0.17M77.1 399.3h0.17M66.9 386.9h0.17M65.7 362.3h0.17M55.2 395.4h0.17M48.4 397.4h0.17M69.9 378.5h0.17M64.7 391.2h0.17M74.0 402.3h0.17M67.5 384.8h0.17M66.1 394.2h0.17M77.5 398.5h0.17M58.6 378.7h0.17M63.1 386.1h0.17M53.5 393.6h0.17M61.6 396.3h0.17M74.8 390.0h0.17M98.2 391.1h0.17M82.3 396.5h0.17M82.5 366.5h0.17M58.2 398.0h0.17M75.8 423.0h0.17M72.2 410.4h0.17M78.0 406.4h0.17M74.6 393.1h0.17M74.6 382.1h0.17M83.4 382.8h0.17M71.2 420.4h0.17M65.1 395.2h0.17M83.1 395.3h0.17M57.5 398.1h0.17M75.6 403.5h0.17M58.0 416.0h0.17M89.7 395.2h0.17M71.5 389.9h0.17M86.4 386.5h0.17M76.8 389.2h0.17M59.0 403.6h0.17M85.3 394.9h0.17M59.2 404.7h0.17M67.4 398.7h0.17M87.8 408.6h0.17M61.2 422.4h0.17M68.0 404.4h0.17M59.6 394.5h0.17M45.3 416.4h0.17M85.8 380.4h0.17M48.4 375.5h0.17M83.3 389.5h0.17M67.2 391.2h0.17M66.4 381.9h0.17M68.3 377.7h0.17M67.1 398.7h0.17M74.1 392.2h0.17M56.3 396.9h0.17M61.7 413.8h0.17M78.0 393.6h0.17M61.9 386.6h0.17M55.8 390.8h0.17M71.8 401.2h0.17M75.4 420.2h0.17M58.8 395.2h0.17M104.3 372.6h0.17M61.2 397.0h0.17M70.0 399.9h0.17M64.9 399.4h0.17M68.7 404.3h0.17M68.0 382.6h0.17M54.4 402.5h0.17M59.6 402.6h0.17M77.7 398.7h0.17M74.6 393.7h0.17M49.7 394.6h0.17M73.9 388.6h0.17M66.7 404.0h0.17M56.6 402.7h0.17M92.2 388.3h0.17M69.9 393.2h0.17M88.0 398.8h0.17M79.7 386.7h0.17M67.8 394.9h0.17M79.7 374.0h0.17M77.7 393.4h0.17M73.8 399.4h0.17M48.5 392.5h0.17M87.4 388.1h0.17M54.7 378.7h0.17M52.1 399.0h0.17M90.0 400.2h0.17M71.2 421.8h0.17M61.2 386.9h0.17M74.9 401.6h0.17M54.8 381.0h0.17M71.8 398.0h0.17M51.0 392.6h0.17M60.9 400.5h0.17M66.5 394.0h0.17M63.4 407.6h0.17M86.1 390.6h0.17M79.0 385.9h0.17M68.9 404.0h0.17M87.7 390.4h0.17M67.0 397.4h0.17M48.5 395.2h0.17M59.2 399.5h0.17M53.3 371.3h0.17M68.5 398.1h0.17M60.9 405.7h0.17M64.4 387.7h0.17M74.2 376.2h0.17M59.2 394.8h0.17M79.0 393.0h0.17M72.0 387.1h0.17M71.9 415.0h0.17M59.1 423.4h0.17M59.6 395.2h0.17M70.3 407.3h0.17M51.9 369.8h0.17M75.9 404.5h0.17M70.7 398.0h0.17M80.1 399.4h0.17M89.6 380.1h0.17M63.1 353.7h0.17M78.6 390.5h0.17M80.0 420.8h0.17M67.9 391.9h0.17M61.5 384.9h0.17M59.8 402.7h0.17M68.5 395.8h0.17M65.7 406.0h0.17M74.4 393.3h0.17M76.6 393.2h0.17M53.0 412.5h0.17M74.0 383.5h0.17M82.0 399.1h0.17M47.7 414.3h0.17M72.3 405.7h0.17M70.6 393.2h0.17M47.9 406.7h0.17M68.4 391.6h0.17M72.6 395.9h0.17M76.8 390.5h0.17M67.5 369.3h0.17M62.5 403.1h0.17M85.4 390.6h0.17M66.4 414.0h0.17M63.8 403.8h0.17M89.8 395.5h0.17M83.9 386.5h0.17M70.7 394.1h0.17M69.5 408.6h0.17M99.1 387.0h0.17M60.5 401.0h0.17M54.3 401.0h0.17M75.4 391.7h0.17M74.9 376.4h0.17M77.9 376.5h0.17M58.9 388.3h0.17M62.8 405.3h0.17M69.1 390.2h0.17M75.1 414.0h0.17M68.1 399.4h0.17M84.1 398.2h0.17M96.7 371.2h0.17M67.5 400.0h0.17M80.6 403.0h0.17M64.5 382.4h0.17M69.3 407.4h0.17M53.8 382.7h0.17M67.7 371.8h0.17M64.6 389.8h0.17M73.9 386.6h0.17M56.5 390.3h0.17M67.4 387.0h0.17M68.2 404.0h0.17M83.4 415.5h0.17M57.8 390.0h0.17M58.6 394.6h0.17M74.8 378.7h0.17M74.0 394.7h0.17M83.5 372.6h0.17M78.5 397.5h0.17M74.2 400.3h0.17M85.0 392.3h0.17M79.4 390.1h0.17M77.5 385.2h0.17M66.6 415.8h0.17M73.8 393.1h0.17M53.1 385.5h0.17M70.5 406.3h0.17M73.5 401.3h0.17M67.5 411.2h0.17M62.9 388.4h0.17M79.5 395.8h0.17M64.4 388.1h0.17M64.7 402.5h0.17M72.6 380.5h0.17M73.5 397.1h0.17M55.0 404.3h0.17M64.4 391.0h0.17M78.3 410.8h0.17M59.0 400.3h0.17M56.6 422.8h0.17M61.6 409.3h0.17M59.6 404.7h0.17M96.8 364.5h0.17M62.4 401.0h0.17M66.8 387.0h0.17M96.0 396.0h0.17M46.6 405.2h0.17M45.6 408.8h0.17M60.5 396.7h0.17M84.4 396.4h0.17M49.9 374.6h0.17M83.4 403.9h0.17M57.4 405.3h0.17M74.5 402.8h0.17M79.7 403.8h0.17M79.5 365.5h0.17M70.2 400.9h0.17M101.2 383.6h0.17M63.7 395.4h0.17M79.5 389.7h0.17M82.9 385.5h0.17M71.5 388.7h0.17M70.1 386.7h0.17M47.2 408.1h0.17M71.9 388.3h0.17M70.6 406.9h0.17M55.3 393.7h0.17M75.0 401.3h0.17M63.6 369.7h0.17M84.2 398.9h0.17M68.2 391.7h0.17M71.4 389.9h0.17M54.7 386.1h0.17M60.2 387.7h0.17M52.9 402.6h0.17M51.0 402.9h0.17M54.8 399.2h0.17M85.9 397.4h0.17M58.5 395.6h0.17M69.9 374.2h0.17M60.1 397.0h0.17M61.9 396.0h0.17M77.5 404.2h0.17M79.8 402.1h0.17M64.3 394.8h0.17M64.5 391.2h0.17M65.7 374.3h0.17M63.7 394.7h0.17M55.3 394.7h0.17M74.7 393.0h0.17M95.0 363.7h0.17M65.3 373.1h0.17M74.7 391.4h0.17M75.2 368.1h0.17M79.1 399.5h0.17M68.3 387.9h0.17M76.3 389.2h0.17M70.9 388.9h0.17M70.6 404.1h0.17M56.6 394.6h0.17M76.0 396.7h0.17M84.2 418.9h0.17M56.2 371.9h0.17M79.1 413.4h0.17M80.0 404.8h0.17M60.0 386.4h0.17M79.5 384.1h0.17M100.4 418.1h0.17M59.1 386.3h0.17M71.0 386.0h0.17M85.0 394.1h0.17M53.9 410.7h0.17M60.4 397.7h0.17M67.8 391.2h0.17M72.2 386.7h0.17M51.5 385.9h0.17M67.7 395.7h0.17M75.2 396.4h0.17M57.7 386.5h0.17M74.3 401.4h0.17M66.4 392.9h0.17M80.2 395.2h0.17M77.6 402.0h0.17M70.8 410.7h0.17M60.6 390.7h0.17M57.5 385.4h0.17M88.2 416.1h0.17M68.3 401.8h0.17M83.3 404.7h0.17M83.7 379.8h0.17M59.7 400.4h0.17M86.7 396.2h0.17M56.8 390.7h0.17M59.4 384.7h0.17M87.5 387.5h0.17M68.3 420.9h0.17M83.4 399.0h0.17M60.0 399.9h0.17M89.1 402.5h0.17M84.4 396.2h0.17M74.7 392.6h0.17M73.5 410.6h0.17M49.4 394.2h0.17M71.1 388.1h0.17M64.0 404.4h0.17M94.0 402.6h0.17M72.2 376.4h0.17M93.1 395.9h0.17M67.6 381.6h0.17M67.3 381.8h0.17M68.9 400.6h0.17M68.4 398.4h0.17M56.9 412.2h0.17M59.5 373.2h0.17M65.6 385.8h0.17M54.9 390.7h0.17M71.8 380.8h0.17M66.2 412.1h0.17M76.9 393.2h0.17M69.7 393.6h0.17M67.4 403.8h0.17M66.8 366.1h0.17M67.7 384.3h0.17M76.5 387.7h0.17M69.9 421.1h0.17M54.4 381.5h0.17M49.7 366.3h0.17M59.7 372.6h0.17M48.7 402.4h0.17M57.9 390.6h0.17M72.3 411.3h0.17M93.2 407.4h0.17M69.9 397.2h0.17M91.4 412.1h0.17M64.0 400.5h0.17M71.7 395.6h0.17M61.5 379.1h0.17M61.1 376.5h0.17M83.9 401.4h0.17M52.3 411.7h0.17M79.6 372.1h0.17M91.9 404.7h0.17M94.8 380.2h0.17M74.9 400.1h0.17M70.6 397.1h0.17M81.7 377.1h0.17M51.9 378.3h0.17M60.8 387.7h0.17M72.8 398.2h0.17M68.4 386.9h0.17M62.3 406.4h0.17M77.9 396.2h0.17M63.8 413.6h0.17M60.3 402.8h0.17M83.0 391.8h0.17M78.7 381.6h0.17M81.2 397.4h0.17M47.4 403.0h0.17M56.4 410.4h0.17M59.2 393.0h0.17M71.7 391.0h0.17M71.4 388.4h0.17M76.7 395.1h0.17M70.7 362.0h0.17M83.1 395.4h0.17M74.1 407.8h0.17M53.9 413.6h0.17M65.9 423.7h0.17M66.1 403.2h0.17M63.2 381.6h0.17M82.3 405.9h0.17M88.0 405.3h0.17M60.5 375.1h0.17M59.5 386.9h0.17M57.4 402.0h0.17M72.3 391.8h0.17M70.2 393.3h0.17M70.8 404.0h0.17M80.5 386.8h0.17M48.4 412.1h0.17M69.5 408.3h0.17M46.6 391.0h0.17M68.4 377.7h0.17M61.3 403.7h0.17M82.0 414.1h0.17M56.8 378.2h0.17M74.8 406.3h0.17M70.5 379.4h0.17M78.2 404.5h0.17M75.2 389.2h0.17M72.0 404.5h0.17M60.7 372.9h0.17M72.3 400.8h0.17M68.2 405.7h0.17M60.4 394.0h0.17M64.0 401.9h0.17M88.7 392.0h0.17M94.7 413.3h0.17M78.3 402.0h0.17M91.0 392.8h0.17M66.5 382.2h0.17M74.1 411.1h0.17M74.9 400.1h0.17M65.4 397.0h0.17M49.5 407.6h0.17M62.7 381.7h0.17M58.2 385.1h0.17M79.1 407.7h0.17M50.3 406.1h0.17M79.5 388.0h0.17M48.7 386.1h0.17M59.8 399.1h0.17M63.4 370.7h0.17M71.0 376.6h0.17M79.8 380.5h0.17M59.0 384.7h0.17M60.9 410.6h0.17M79.1 402.2h0.17M72.2 376.4h0.17M61.2 388.4h0.17M55.3 401.1h0.17M58.4 386.5h0.17M54.4 370.3h0.17M75.7 411.0h0.17M70.3 383.3h0.17M83.8 398.6h0.17M80.1 412.7h0.17M82.6 389.7h0.17M81.7 404.3h0.17M48.0 390.1h0.17M49.5 393.7h0.17M75.5 382.2h0.17M72.9 412.7h0.17M50.8 407.7h0.17M95.0 419.1h0.17M65.3 398.2h0.17M66.0 407.0h0.17M81.5 396.0h0.17M50.3 403.9h0.17M61.9 402.5h0.17M71.4 414.5h0.17M82.8 389.6h0.17M72.5 416.2h0.17M61.0 400.2h0.17M83.5 410.1h0.17M74.7 379.2h0.17M51.6 398.0h0.17M56.8 408.7h0.17M78.0 374.9h0.17M57.4 397.0h0.17M61.6 393.1h0.17M74.1 385.3h0.17M74.1 387.4h0.17M60.9 401.4h0.17M60.5 398.4h0.17M88.8 395.3h0.17M66.1 403.8h0.17M63.2 408.0h0.17M51.3 402.4h0.17M61.3 385.4h0.17M91.0 384.8h0.17M90.8 402.9h0.17M86.9 383.3h0.17M83.6 412.5h0.17M66.5 393.5h0.17M99.9 397.1h0.17M62.5 387.4h0.17M73.8 399.0h0.17M70.3 415.7h0.17M63.7 400.7h0.17M87.0 383.0h0.17M81.5 417.0h0.17M50.4 381.8h0.17M54.5 372.8h0.17M73.9 372.7h0.17M74.5 412.4h0.17M47.0 391.2h0.17M58.4 391.8h0.17M68.7 401.5h0.17M63.5 395.2h0.17M60.9 396.4h0.17M52.8 395.8h0.17M92.9 396.0h0.17M51.6 398.1h0.17M55.4 375.2h0.17M58.4 403.8h0.17M73.0 393.8h0.17M56.0 382.1h0.17M85.5 397.9h0.17M55.6 369.7h0.17M53.1 394.1h0.17M70.7 393.1h0.17M64.4 378.5h0.17M54.3 415.3h0.17M58.2 405.1h0.17M46.0 391.7h0.17M71.4 407.4h0.17M53.4 402.1h0.17M73.0 386.1h0.17M74.2 384.2h0.17M57.7 394.8h0.17M55.0 377.4h0.17M62.5 404.2h0.17M62.7 410.2h0.17M52.9 379.3h0.17M88.2 399.8h0.17M80.3 385.1h0.17M78.5 398.1h0.17M76.4 395.3h0.17M83.7 387.2h0.17M55.5 377.3h0.17M83.1 386.1h0.17M54.4 383.7h0.17M62.2 379.7h0.17M64.2 387.5h0.17M60.8 383.5h0.17M68.5 389.5h0.17M69.5 398.0h0.17M72.4 368.7h0.17M61.0 385.4h0.17M78.1 376.1h0.17M58.7 391.5h0.17M63.6 406.9h0.17M62.2 406.6h0.17M48.9 373.3h0.17M83.9 400.2h0.17M74.3 396.5h0.17M74.3 380.4h0.17M80.3 388.6h0.17M80.8 396.1h0.17M82.7 393.4h0.17M62.9 397.9h0.17M62.5 388.5h0.17M69.3 396.7h0.17M87.7 395.5h0.17M92.4 416.6h0.17M90.3 407.7h0.17M69.7 396.6h0.17M66.1 386.2h0.17M67.1 387.3h0.17M89.3 401.4h0.17M62.2 372.0h0.17M67.3 390.0h0.17M53.9 381.4h0.17M67.6 393.2h0.17M86.8 396.6h0.17M70.2 390.5h0.17M60.1 413.0h0.17M81.0 415.6h0.17M63.5 395.4h0.17M56.5 406.6h0.17M49.9 401.8h0.17M82.2 411.9h0.17M55.8 408.1h0.17M58.7 385.9h0.17M50.8 408.9h0.17M89.4 387.9h0.17M58.1 390.9h0.17M100.6 407.1h0.17M60.9 373.5h0.17M59.3 409.2h0.17M92.3 391.8h0.17M59.0 388.9h0.17M53.9 407.8h0.17M45.8 379.8h0.17M71.7 385.8h0.17M78.2 395.1h0.17M52.7 402.5h0.17M78.9 372.0h0.17M91.7 401.0h0.17M77.9 372.7h0.17M58.6 390.8h0.17M82.0 377.5h0.17M56.5 370.6h0.17M64.9 399.2h0.17M46.1 387.9h0.17M74.6 414.0h0.17M76.6 391.4h0.17M52.7 383.8h0.17M59.4 396.8h0.17M67.4 415.0h0.17M71.7 382.1h0.17M88.1 406.4h0.17M69.3 386.3h0.17M79.9 385.4h0.17M50.8 397.3h0.17M71.2 402.3h0.17M76.5 411.9h0.17M57.1 406.7h0.17M55.2 403.3h0.17M70.3 397.9h0.17M80.6 394.8h0.17M82.5 405.5h0.17M69.8 388.2h0.17M58.2 388.7h0.17M65.4 394.7h0.17M106.8 402.7h0.17M78.0 384.7h0.17M58.8 391.2h0.17M70.5 382.6h0.17M89.0 388.2h0.17M82.0 367.0h0.17M67.9 398.3h0.17M70.5 402.2h0.17M71.6 396.9h0.17M72.0 392.7h0.17M57.3 388.0h0.17M92.0 415.8h0.17M67.2 410.5h0.17M47.4 371.8h0.17M61.7 384.5h0.17M60.7 397.3h0.17M107.3 387.1h0.17M68.6 398.3h0.17M67.6 406.2h0.17M91.1 380.1h0.17M70.1 391.8h0.17M72.6 376.6h0.17M45.1 367.2h0.17M74.8 397.3h0.17M69.0 366.6h0.17M63.1 385.9h0.17M49.6 384.0h0.17M77.1 401.5h0.17M67.7 401.2h0.17M60.2 395.9h0.17M68.5 401.7h0.17M67.1 393.3h0.17M66.2 387.3h0.17M97.0 401.2h0.17M73.6 422.5h0.17M86.2 376.3h0.17M77.0 405.1h0.17M92.5 410.8h0.17M78.0 380.9h0.17M56.7 398.2h0.17M74.6 382.7h0.17M63.0 390.2h0.17M68.8 399.0h0.17M64.3 380.2h0.17M84.2 414.2h0.17M66.6 407.3h0.17M73.8 402.9h0.17M74.3 385.8h0.17M75.5 407.1h0.17M56.3 418.6h0.17M95.2 416.9h0.17M93.9 403.9h0.17M63.6 387.8h0.17M57.4 396.4h0.17M67.6 403.0h0.17M97.6 394.7h0.17M76.8 400.7h0.17M71.6 392.5h0.17M66.4 385.1h0.17M70.3 394.7h0.17M72.2 384.7h0.17M68.5 395.6h0.17M75.9 382.2h0.17M73.5 406.8h0.17M75.8 390.6h0.17M61.6 392.2h0.17M77.5 413.6h0.17M65.9 387.3h0.17M72.9 397.5h0.17M56.2 386.2h0.17M66.7 403.1h0.17M52.5 382.8h0.17M74.5 380.3h0.17M69.4 399.2h0.17M66.6 382.8h0.17M67.2 391.0h0.17M72.4 384.9h0.17M82.2 374.9h0.17M65.7 395.1h0.17M58.8 389.7h0.17M56.7 390.2h0.17M57.7 417.8h0.17M52.0 402.3h0.17M49.4 408.7h0.17M60.1 397.4h0.17M48.3 401.8h0.17M59.7 410.1h0.17M58.1 375.0h0.17M50.6 414.1h0.17M47.9 410.6h0.17M63.4 406.1h0.17M59.6 393.0h0.17M47.9 395.8h0.17M53.0 396.4h0.17M57.5 395.3h0.17M55.0 402.1h0.17M54.0 419.1h0.17M56.2 398.0h0.17M53.0 389.5h0.17M60.7 398.8h0.17M48.6 390.3h0.17M53.3 391.7h0.17M59.4 383.1h0.17M56.5 398.7h0.17M48.1 397.6h0.17M53.5 403.0h0.17M51.7 400.6h0.17M45.7 384.0h0.17M57.9 409.5h0.17M53.9 389.8h0.17M59.4 371.9h0.17M50.0 405.1h0.17M57.3 384.6h0.17M54.8 386.2h0.17M54.3 407.8h0.17M57.7 372.0h0.17M57.9 375.6h0.17M59.7 401.8h0.17M65.3 389.7h0.17M54.0 409.6h0.17M50.8 388.5h0.17M52.1 396.1h0.17M48.6 402.8h0.17M56.7 397.9h0.17M62.5 393.1h0.17M60.5 390.4h0.17M57.8 373.8h0.17M55.0 394.9h0.17M51.5 389.7h0.17M52.3 388.4h0.17M51.3 390.7h0.17M48.7 395.4h0.17M57.9 394.0h0.17M51.5 413.3h0.17M58.9 408.1h0.17M59.8 393.1h0.17M53.4 410.4h0.17M51.2 395.6h0.17M55.9 401.5h0.17M52.6 408.8h0.17M53.1 405.7h0.17M59.4 404.9h0.17M57.7 383.1h0.17M47.4 389.6h0.17M56.4 415.0h0.17M47.9 400.7h0.17M49.7 388.2h0.17M52.6 405.3h0.17M55.1 411.2h0.17M49.1 407.7h0.17M58.7 397.8h0.17M56.4 390.2h0.17M48.6 392.1h0.17M51.6 416.8h0.17M55.0 400.7h0.17M57.7 387.7h0.17M58.6 401.5h0.17M46.4 404.2h0.17M56.8 402.4h0.17M61.9 392.0h0.17M56.6 406.0h0.17M49.5 411.4h0.17M46.7 381.4h0.17M56.6 383.9h0.17M53.4 377.3h0.17M54.3 383.4h0.17M55.7 378.6h0.17M56.2 393.8h0.17M54.3 396.2h0.17M54.7 381.1h0.17M49.3 391.5h0.17M56.1 373.2h0.17M50.2 389.7h0.17M48.7 400.9h0.17M53.3 387.2h0.17M49.1 406.7h0.17M50.7 404.0h0.17M56.2 374.3h0.17M48.6 397.0h0.17M55.7 406.4h0.17M58.0 409.4h0.17M52.1 394.5h0.17M57.9 391.9h0.17M59.3 377.9h0.17M57.3 394.9h0.17M55.6 397.3h0.17M48.6 391.4h0.17M61.6 387.1h0.17M48.0 395.4h0.17M52.0 386.1h0.17M49.8 409.6h0.17M46.8 420.5h0.17M51.3 383.9h0.17M57.9 403.8h0.17M48.8 406.0h0.17M59.6 393.9h0.17M47.5 403.2h0.17M58.6 396.7h0.17M56.1 406.2h0.17M63.3 394.0h0.17M51.6 396.5h0.17M60.0 385.7h0.17M60.5 364.0h0.17M58.0 388.9h0.17M56.3 405.3h0.17M48.1 396.0h0.17M55.2 404.0h0.17M49.3 385.1h0.17M53.0 394.3h0.17M46.5 408.2h0.17M51.3 414.2h0.17M58.3 397.3h0.17M57.6 383.7h0.17M52.4 390.1h0.17M47.7 397.2h0.17M53.3 414.2h0.17M49.4 391.4h0.17M56.1 401.8h0.17M54.1 391.3h0.17M56.5 401.3h0.17M47.1 382.8h0.17M54.7 397.7h0.17M54.6 386.5h0.17M53.0 386.0h0.17M55.9 405.3h0.17M62.8 412.2h0.17M50.0 391.5h0.17M49.3 400.7h0.17M63.9 405.5h0.17M47.5 403.2h0.17M54.0 400.6h0.17M62.9 387.1h0.17M49.8 420.6h0.17M55.7 387.7h0.17M54.2 408.9h0.17M53.3 388.7h0.17M50.3 419.8h0.17M45.2 399.1h0.17M54.1 404.4h0.17M52.0 403.0h0.17M58.1 395.2h0.17M51.7 394.8h0.17M49.2 394.5h0.17M52.5 399.5h0.17M60.7 412.7h0.17M51.8 404.2h0.17M55.5 406.1h0.17M54.1 400.2h0.17M51.7 387.6h0.17M58.4 412.6h0.17M57.3 402.2h0.17M55.3 391.6h0.17M45.1 405.0h0.17M55.0 390.3h0.17M49.2 412.3h0.17M50.4 396.7h0.17M51.5 398.9h0.17M53.0 388.0h0.17M59.4 387.6h0.17M51.5 403.7h0.17M51.3 391.8h0.17M55.8 392.6h0.17M47.8 395.8h0.17M52.9 417.5h0.17M48.5 408.6h0.17M50.1 392.7h0.17M52.4 400.2h0.17M58.3 418.0h0.17M50.8 413.0h0.17M59.0 406.8h0.17M50.2 407.8h0.17M53.5 401.2h0.17M52.7 405.0h0.17M59.6 410.6h0.17M53.0 408.9h0.17M61.3 385.8h0.17M61.4 381.0h0.17M56.7 404.1h0.17M61.4 400.3h0.17M51.6 387.4h0.17M47.7 406.2h0.17M52.8 388.4h0.17M56.7 387.8h0.17M51.8 391.5h0.17M62.3 414.6h0.17M53.2 378.1h0.17M55.4 397.9h0.17M55.7 403.8h0.17M52.4 408.1h0.17M58.2 399.5h0.17M52.0 391.2h0.17M57.5 383.8h0.17M53.2 388.0h0.17M47.0 404.2h0.17M53.9 397.4h0.17M58.4 379.1h0.17M53.7 400.5h0.17M58.2 384.0h0.17M57.6 399.6h0.17M60.8 410.7h0.17M56.7 422.8h0.17M54.0 391.9h0.17M52.3 385.7h0.17M53.9 374.5h0.17M53.6 402.1h0.17M59.0 392.8h0.17M60.9 389.2h0.17M53.3 374.5h0.17M50.2 387.5h0.17M61.3 403.2h0.17M48.6 403.3h0.17M56.4 394.3h0.17M54.1 393.4h0.17M51.4 376.2h0.17M53.6 412.1h0.17M61.0 393.7h0.17M50.4 394.5h0.17M58.4 401.1h0.17M51.2 401.2h0.17M53.0 403.0h0.17M52.0 379.8h0.17M54.3 405.9h0.17M48.6 395.7h0.17M58.3 392.6h0.17M50.8 420.8h0.17M58.0 409.0h0.17M49.4 416.1h0.17M45.9 390.9h0.17M57.6 412.5h0.17M49.5 389.2h0.17M55.0 374.5h0.17M57.1 403.5h0.17M51.8 403.3h0.17M57.8 400.6h0.17M56.5 414.6h0.17M51.7 398.9h0.17M51.5 409.0h0.17M52.0 402.5h0.17M54.7 397.8h0.17M62.3 396.0h0.17M60.9 406.6h0.17M60.4 395.1h0.17M58.5 405.8h0.17M51.0 400.1h0.17M53.4 396.6h0.17M60.3 388.6h0.17M45.9 376.8h0.17M51.8 389.5h0.17M54.1 403.6h0.17M62.5 400.6h0.17M56.2 388.5h0.17M56.8 412.7h0.17M60.5 374.4h0.17M58.3 415.3h0.17M58.0 379.7h0.17M52.5 403.8h0.17M56.0 387.6h0.17M49.7 408.2h0.17M47.6 413.6h0.17M54.1 400.5h0.17M47.6 390.1h0.17M57.3 380.0h0.17M64.0 380.8h0.17M48.1 397.5h0.17M56.3 405.5h0.17M52.2 394.6h0.17M52.9 390.4h0.17M55.2 398.8h0.17M51.0 399.9h0.17M53.9 396.1h0.17M59.3 377.1h0.17M55.2 384.7h0.17M52.5 414.3h0.17M48.8 395.8h0.17M51.2 407.9h0.17M49.3 377.6h0.17M56.5 392.9h0.17M52.5 409.5h0.17M49.7 392.7h0.17M54.7 401.8h0.17M51.5 408.9h0.17M64.8 392.3h0.17M63.0 372.7h0.17M60.8 393.0h0.17M54.7 393.1h0.17M50.9 382.3h0.17M52.1 411.9h0.17M59.5 393.0h0.17M51.5 388.9h0.17M48.2 417.8h0.17M57.2 398.4h0.17M51.6 385.2h0.17M60.3 406.0h0.17M49.4 408.4h0.17M48.7 404.4h0.17M49.4 392.2h0.17M56.4 402.0h0.17M58.9 387.4h0.17M61.6 412.5h0.17M54.0 402.4h0.17M50.3 395.2h0.17M47.7 398.0h0.17M55.0 412.5h0.17M58.5 406.4h0.17M52.3 394.4h0.17M52.4 399.6h0.17M46.5 391.1h0.17M54.1 391.1h0.17M62.0 395.9h0.17M61.5 410.5h0.17M51.6 401.6h0.17M60.2 393.2h0.17M54.4 390.6h0.17M54.3 392.9h0.17M54.4 408.5h0.17M60.7 398.5h0.17M55.0 406.9h0.17M52.6 384.8h0.17M59.3 386.2h0.17M58.5 385.9h0.17M62.8 385.0h0.17M58.1 414.3h0.17M49.4 414.1h0.17M50.0 376.7h0.17M57.5 405.1h0.17M53.0 367.9h0.17M53.7 393.5h0.17M52.2 393.7h0.17M45.4 390.5h0.17M62.6 414.8h0.17M52.3 388.8h0.17M55.9 409.2h0.17M57.5 383.5h0.17M54.8 398.6h0.17M60.9 410.8h0.17M56.5 411.0h0.17M52.1 414.7h0.17M52.0 401.6h0.17M58.4 386.5h0.17M50.6 376.7h0.17M54.8 396.4h0.17M52.4 402.7h0.17M54.4 393.9h0.17M57.8 417.2h0.17M51.9 386.2h0.17M51.1 398.1h0.17M56.8 387.1h0.17M58.8 385.2h0.17M58.0 401.9h0.17M56.2 421.9h0.17M52.7 395.1h0.17M56.3 406.9h0.17M47.6 400.2h0.17M50.4 404.3h0.17M60.6 397.6h0.17M53.5 399.1h0.17M56.7 398.9h0.17M52.1 388.6h0.17M53.1 411.0h0.17M53.5 412.5h0.17M55.3 396.8h0.17M46.0 389.3h0.17M60.0 382.1h0.17M49.2 384.4h0.17M51.4 404.4h0.17M56.9 373.6h0.17M61.0 390.2h0.17M51.2 416.2h0.17M53.6 382.7h0.17M50.9 388.6h0.17M49.2 393.2h0.17M58.2 401.0h0.17M49.2 398.3h0.17M54.2 405.8h0.17M52.4 402.3h0.17M64.1 398.1h0.17M48.8 400.8h0.17M50.1 392.7h0.17M54.9 400.9h0.17M52.6 406.8h0.17M53.1 382.0h0.17M58.2 392.8h0.17M59.8 389.5h0.17M56.7 400.6h0.17M48.6 413.2h0.17M59.2 402.7h0.17M57.2 391.3h0.17M53.9 399.6h0.17M56.0 405.1h0.17M53.0 388.9h0.17M51.3 401.7h0.17M46.0 382.6h0.17M52.0 390.6h0.17M52.7 366.3h0.17M52.4 394.1h0.17M57.7 374.2h0.17M52.5 402.5h0.17M56.3 410.8h0.17M59.1 384.9h0.17M57.1 393.1h0.17M50.1 414.7h0.17M51.0 387.2h0.17M52.0 387.2h0.17M58.8 401.4h0.17M60.7 401.7h0.17M51.0 409.1h0.17M50.9 391.7h0.17M53.2 397.5h0.17M59.7 390.0h0.17M55.7 396.7h0.17M47.9 384.4h0.17M52.9 401.7h0.17M55.5 402.5h0.17M54.2 391.8h0.17M56.1 385.4h0.17M47.5 393.2h0.17M47.1 391.1h0.17M50.4 390.6h0.17M53.8 387.7h0.17M52.0 377.2h0.17M54.7 386.8h0.17M55.9 364.3h0.17M50.1 399.8h0.17M54.5 398.2h0.17M46.8 399.7h0.17M54.7 385.7h0.17M57.6 396.4h0.17M54.1 391.8h0.17M56.6 398.1h0.17M59.5 402.2h0.17M51.0 394.4h0.17M58.4 392.8h0.17M55.8 403.0h0.17M53.1 370.0h0.17M54.6 399.5h0.17M54.7 388.2h0.17M59.8 395.4h0.17M51.0 388.7h0.17M55.7 384.3h0.17M49.2 420.2h0.17M60.3 409.2h0.17M60.6 403.9h0.17M45.9 410.9h0.17M60.0 402.7h0.17M60.6 391.3h0.17M54.6 406.0h0.17M53.6 409.8h0.17M54.4 405.0h0.17M54.4 379.8h0.17M55.4 412.2h0.17M59.5 416.9h0.17M56.7 390.1h0.17M54.1 374.7h0.17M53.1 407.5h0.17M58.0 412.5h0.17M49.5 389.4h0.17M56.6 421.1h0.17M48.4 413.1h0.17M56.1 391.2h0.17M64.6 367.6h0.17M53.7 399.6h0.17M64.3 417.9h0.17M65.0 398.6h0.17M58.8 412.9h0.17M56.5 401.2h0.17M53.1 392.2h0.17M48.0 419.7h0.17M51.8 372.7h0.17M55.3 396.6h0.17M54.9 418.2h0.17M53.5 393.9h0.17M50.4 396.7h0.17M51.9 399.4h0.17M69.2 401.6h0.17M49.8 419.5h0.17M58.2 406.5h0.17M57.5 406.6h0.17M57.3 413.5h0.17M58.9 412.7h0.17M94.8 385.0h0.17M93.0 400.8h0.17M105.9 377.3h0.17M109.2 366.5h0.17M98.2 395.5h0.17M98.7 391.4h0.17M108.8 390.4h0.17M89.9 396.8h0.17M98.2 386.9h0.17M94.3 362.1h0.17M88.7 379.1h0.17M90.1 340.1h0.17M108.5 365.8h0.17M93.0 393.8h0.17M79.0 407.2h0.17M92.6 395.9h0.17M95.0 390.1h0.17M99.9 385.0h0.17M83.9 360.7h0.17M98.7 408.3h0.17M94.5 393.8h0.17M100.3 393.0h0.17M107.2 360.2h0.17M101.3 382.1h0.17M96.4 370.9h0.17M92.5 367.9h0.17M89.9 426.6h0.17M113.1 385.2h0.17M105.1 368.8h0.17M76.0 354.8h0.17M100.2 408.8h0.17M98.7 368.4h0.17M97.0 368.5h0.17M87.4 381.2h0.17M95.7 371.5h0.17M91.7 369.6h0.17M101.0 408.1h0.17M97.3 422.0h0.17M85.6 389.5h0.17M89.4 382.3h0.17M99.8 394.3h0.17M108.4 375.8h0.17M88.7 381.9h0.17M101.4 373.4h0.17M106.4 412.9h0.17M87.2 391.0h0.17M107.4 353.2h0.17M100.7 381.3h0.17M87.2 406.8h0.17M100.8 377.1h0.17M102.7 395.6h0.17M105.4 394.6h0.17M102.4 365.5h0.17M95.5 387.1h0.17M76.1 420.3h0.17M95.9 367.5h0.17M83.9 389.1h0.17M99.3 375.3h0.17M95.5 370.3h0.17M92.8 383.4h0.17M93.7 396.2h0.17M97.8 387.2h0.17M102.4 406.1h0.17M104.0 388.8h0.17M97.6 371.6h0.17M96.2 396.3h0.17M100.9 378.6h0.17M88.0 359.6h0.17M101.7 402.0h0.17M102.1 362.2h0.17M97.2 388.7h0.17M91.4 390.7h0.17M97.3 371.2h0.17M88.7 398.4h0.17M102.0 370.3h0.17M90.6 399.7h0.17M103.9 380.0h0.17M112.2 380.2h0.17M90.3 403.1h0.17M97.4 390.7h0.17M99.3 368.4h0.17M89.2 381.8h0.17M110.6 368.4h0.17M110.2 388.6h0.17M89.8 389.4h0.17M103.7 370.1h0.17M81.4 390.9h0.17M89.8 392.3h0.17M83.2 382.7h0.17M92.3 360.5h0.17M97.0 387.8h0.17M94.4 365.5h0.17M100.8 356.1h0.17M103.4 393.1h0.17M112.9 399.6h0.17M101.9 389.4h0.17M99.2 363.1h0.17M111.1 393.7h0.17M96.6 366.1h0.17M111.3 393.8h0.17M89.2 396.1h0.17M114.7 384.6h0.17M102.3 378.1h0.17M93.8 402.7h0.17M124.4 386.9h0.17M98.0 398.1h0.17M96.5 397.0h0.17M105.8 368.2h0.17M90.1 383.8h0.17M105.9 389.6h0.17M109.2 362.3h0.17M103.1 374.7h0.17M99.8 390.3h0.17M91.0 381.2h0.17M89.4 389.4h0.17M92.0 376.9h0.17M100.8 374.2h0.17M108.5 374.5h0.17M106.0 389.7h0.17M90.5 381.4h0.17M92.1 379.0h0.17M96.8 415.0h0.17M95.5 410.9h0.17M102.7 363.5h0.17M79.9 396.2h0.17M82.6 396.8h0.17M107.5 391.4h0.17M97.3 380.9h0.17M101.1 380.0h0.17M94.6 378.9h0.17M108.6 374.8h0.17M102.1 366.0h0.17M93.1 362.4h0.17M97.4 396.2h0.17M101.5 376.9h0.17M104.0 379.3h0.17M102.1 389.5h0.17M103.5 344.2h0.17M88.3 397.7h0.17M98.1 421.9h0.17M97.1 375.9h0.17M111.3 394.1h0.17M114.6 393.4h0.17M97.3 396.9h0.17M92.5 377.7h0.17M94.4 381.3h0.17M105.4 377.1h0.17M101.6 376.8h0.17M106.3 339.7h0.17M97.3 387.8h0.17M90.1 401.7h0.17M100.8 406.1h0.17M106.9 395.5h0.17M97.8 367.1h0.17M97.2 377.4h0.17M101.1 377.4h0.17M124.1 358.7h0.17M108.6 377.3h0.17M97.0 400.2h0.17M99.0 365.1h0.17M102.4 381.8h0.17M82.1 388.3h0.17M90.3 372.8h0.17M103.0 389.9h0.17M96.6 420.6h0.17M102.4 374.9h0.17M100.9 383.0h0.17M80.9 359.1h0.17M87.6 418.9h0.17M97.5 380.5h0.17M94.4 401.1h0.17M99.2 413.0h0.17M105.5 412.0h0.17M98.0 391.2h0.17M95.4 382.2h0.17M84.8 375.5h0.17M91.2 374.3h0.17M109.0 389.3h0.17M109.0 399.1h0.17M106.5 401.5h0.17M94.0 398.2h0.17M96.4 376.3h0.17M108.8 420.5h0.17M91.0 413.5h0.17M105.8 371.1h0.17M101.2 391.1h0.17M102.1 379.2h0.17M88.5 385.5h0.17M106.1 397.9h0.17M104.4 403.1h0.17M90.9 384.3h0.17M101.8 401.4h0.17M100.3 393.5h0.17M100.1 419.4h0.17M81.1 384.6h0.17M119.3 388.9h0.17M84.0 387.2h0.17M87.3 373.9h0.17M100.8 413.1h0.17M102.8 395.9h0.17M107.3 388.3h0.17M92.0 383.4h0.17M101.8 380.5h0.17M93.5 379.1h0.17M86.7 368.2h0.17M98.3 379.1h0.17M99.3 408.0h0.17M101.5 384.5h0.17M89.4 367.4h0.17M102.1 370.7h0.17M102.5 367.4h0.17M100.1 383.8h0.17M107.2 378.6h0.17M96.0 389.0h0.17M99.4 412.6h0.17M96.9 376.2h0.17M96.4 392.8h0.17M100.9 396.3h0.17M87.7 425.5h0.17M114.1 384.5h0.17M89.1 387.5h0.17M102.4 348.5h0.17M99.1 360.8h0.17M102.7 407.6h0.17M107.5 360.4h0.17M110.3 399.8h0.17M96.0 393.2h0.17M111.4 379.6h0.17M98.9 375.9h0.17M108.5 349.8h0.17M110.6 369.2h0.17M106.6 358.4h0.17M91.3 375.2h0.17M105.8 358.5h0.17M103.9 374.6h0.17M109.2 379.9h0.17M103.0 382.2h0.17M113.7 379.1h0.17M98.8 417.5h0.17M99.6 396.2h0.17M93.0 388.3h0.17M80.4 386.7h0.17M93.7 360.4h0.17M87.4 403.7h0.17M102.5 360.2h0.17M113.8 373.6h0.17M96.0 389.0h0.17M89.7 358.5h0.17M92.9 404.3h0.17M106.8 359.2h0.17M108.8 385.6h0.17M103.1 385.8h0.17M102.4 368.6h0.17M91.6 373.5h0.17M96.0 395.1h0.17M89.1 411.1h0.17M93.8 375.4h0.17M104.8 392.1h0.17M96.2 367.5h0.17M90.8 358.9h0.17M108.4 402.7h0.17M114.3 393.2h0.17M101.7 397.4h0.17M106.8 380.8h0.17M101.9 420.2h0.17M85.1 362.0h0.17M91.1 397.3h0.17M108.7 379.5h0.17M104.5 384.2h0.17M101.5 376.2h0.17M98.8 384.9h0.17M108.3 421.5h0.17M84.1 393.7h0.17M99.0 400.8h0.17M107.7 397.8h0.17M105.6 369.5h0.17M85.0 412.3h0.17M108.9 369.4h0.17M109.6 395.9h0.17M78.9 399.7h0.17M90.9 404.1h0.17M93.4 372.8h0.17M86.4 381.5h0.17M107.3 374.0h0.17M83.8 420.1h0.17M114.1 396.3h0.17M94.6 365.2h0.17M85.6 394.1h0.17M109.6 367.6h0.17M99.0 380.5h0.17M96.9 393.2h0.17M116.1 374.6h0.17M106.0 402.8h0.17M96.7 382.6h0.17M88.0 402.7h0.17M94.7 374.3h0.17M99.6 370.9h0.17M90.5 380.1h0.17M111.2 381.6h0.17M103.3 361.0h0.17M83.0 414.8h0.17M95.7 359.8h0.17M98.1 395.0h0.17M84.8 370.5h0.17M101.1 369.9h0.17M105.5 400.8h0.17M102.6 378.0h0.17M98.6 374.6h0.17M97.9 390.2h0.17M96.5 401.0h0.17M120.3 376.0h0.17M101.8 398.5h0.17M104.3 381.1h0.17M95.1 401.5h0.17M104.1 393.3h0.17M92.4 395.4h0.17M105.5 382.0h0.17M104.3 420.7h0.17M83.6 395.0h0.17M89.4 362.6h0.17M97.1 394.0h0.17M99.4 365.9h0.17M87.2 375.9h0.17M99.1 371.4h0.17M86.6 413.8h0.17M92.1 382.4h0.17M94.5 375.4h0.17M99.3 380.1h0.17M104.1 365.5h0.17M86.8 417.1h0.17M98.4 397.6h0.17M108.7 394.1h0.17M99.3 359.4h0.17M85.8 401.1h0.17M104.6 394.4h0.17M85.3 349.9h0.17M90.3 365.5h0.17M100.3 368.2h0.17M112.0 374.7h0.17M94.4 399.2h0.17M101.7 370.2h0.17M105.8 416.7h0.17M88.9 380.9h0.17M90.1 353.0h0.17M104.2 396.5h0.17M107.0 392.1h0.17M82.4 384.6h0.17M93.5 365.6h0.17M89.9 397.6h0.17M96.6 417.4h0.17M102.9 353.5h0.17M106.4 405.6h0.17M99.3 365.0h0.17M113.6 363.3h0.17M98.3 353.5h0.17M88.6 356.9h0.17M108.0 404.5h0.17M95.6 362.6h0.17M98.5 391.3h0.17M86.4 365.8h0.17M98.2 396.6h0.17M99.6 392.4h0.17M88.7 343.8h0.17M101.6 369.8h0.17M98.0 378.7h0.17M103.0 372.2h0.17M111.0 385.5h0.17M103.4 395.4h0.17M107.6 391.7h0.17M84.5 374.6h0.17M114.4 392.8h0.17M103.7 392.8h0.17M93.7 373.7h0.17M93.6 404.2h0.17M102.0 414.6h0.17M103.1 416.4h0.17M102.8 365.3h0.17M113.5 390.6h0.17M108.9 388.6h0.17M96.3 387.8h0.17M89.7 365.1h0.17M91.6 376.3h0.17M87.7 383.3h0.17M101.5 418.8h0.17M114.3 384.2h0.17M106.4 381.3h0.17M102.3 384.4h0.17M94.5 386.3h0.17M86.7 392.3h0.17M96.6 366.9h0.17M96.0 394.3h0.17M93.3 392.9h0.17M103.8 411.1h0.17M89.9 383.1h0.17M103.3 410.1h0.17M101.2 397.6h0.17M86.7 375.2h0.17M112.9 380.2h0.17M117.1 372.8h0.17M96.7 358.3h0.17M104.3 389.4h0.17M115.9 387.8h0.17M96.9 361.4h0.17M98.3 400.9h0.17M105.2 405.6h0.17M106.3 384.2h0.17M104.1 387.9h0.17M87.8 413.7h0.17M102.1 367.4h0.17M102.2 389.8h0.17M107.4 409.3h0.17M73.5 394.3h0.17M111.9 369.1h0.17M83.4 389.7h0.17M101.8 390.9h0.17M89.7 377.1h0.17M100.6 397.5h0.17M117.4 389.9h0.17M93.9 345.3h0.17M108.0 382.8h0.17M98.1 368.4h0.17M105.2 354.8h0.17M99.9 387.0h0.17M101.5 407.0h0.17M98.2 386.6h0.17M106.2 358.9h0.17M96.5 386.1h0.17M107.1 371.5h0.17M105.8 391.5h0.17M86.5 360.0h0.17M86.9 387.4h0.17M100.7 397.2h0.17M105.9 375.7h0.17M108.0 398.8h0.17M103.0 393.1h0.17M88.1 391.1h0.17M90.3 364.9h0.17M96.0 387.4h0.17M98.5 379.4h0.17M90.6 388.2h0.17M92.7 361.2h0.17M99.8 409.6h0.17M95.6 367.1h0.17M110.7 413.9h0.17M96.5 381.4h0.17M100.1 401.8h0.17M102.8 354.2h0.17M89.7 364.1h0.17M102.7 386.8h0.17M114.1 380.4h0.17M101.6 386.3h0.17M100.2 424.2h0.17M101.4 409.9h0.17M110.0 374.7h0.17M104.8 378.5h0.17M99.9 387.7h0.17M99.2 377.0h0.17M112.2 380.5h0.17M105.0 413.4h0.17M104.3 402.4h0.17M110.8 403.4h0.17M113.6 360.8h0.17M115.6 385.5h0.17M84.2 374.1h0.17M87.2 384.6h0.17M86.4 367.9h0.17M101.5 387.7h0.17M92.2 381.0h0.17M98.2 386.3h0.17M98.9 381.2h0.17M106.5 357.8h0.17M94.8 387.3h0.17M95.6 375.6h0.17M95.3 388.5h0.17M109.6 381.9h0.17M96.7 391.0h0.17M96.9 352.2h0.17M101.3 378.6h0.17M94.1 395.7h0.17M99.4 375.4h0.17M80.5 355.8h0.17M99.1 383.0h0.17M102.7 388.8h0.17M94.9 363.5h0.17M89.7 382.6h0.17M89.2 397.8h0.17M87.7 354.6h0.17M97.4 354.8h0.17M112.8 368.1h0.17M98.6 380.9h0.17M92.0 355.0h0.17M83.2 399.7h0.17M107.7 421.8h0.17M86.6 394.5h0.17M98.9 399.4h0.17M94.6 397.3h0.17M106.6 395.3h0.17M111.3 382.0h0.17M112.1 373.1h0.17M113.2 338.3h0.17M99.1 371.4h0.17M99.0 402.5h0.17M105.1 386.6h0.17M113.5 359.9h0.17M92.1 410.7h0.17M101.8 349.7h0.17M101.9 364.9h0.17M111.6 404.4h0.17M94.4 407.0h0.17M91.9 400.6h0.17M103.9 382.8h0.17M86.9 380.2h0.17M79.5 375.4h0.17M83.3 405.7h0.17M90.8 343.7h0.17M104.0 391.3h0.17M94.7 421.0h0.17M105.6 386.1h0.17M103.1 401.3h0.17M94.0 361.0h0.17M98.6 356.6h0.17M99.1 398.1h0.17M111.8 389.5h0.17M100.7 397.7h0.17M110.9 379.6h0.17M88.6 371.5h0.17M88.3 369.9h0.17M98.0 390.8h0.17M100.3 386.2h0.17M96.0 392.2h0.17M106.5 397.9h0.17M111.7 380.1h0.17M96.9 413.8h0.17M100.7 392.0h0.17M96.1 401.5h0.17M95.6 367.9h0.17M98.5 377.5h0.17M106.1 378.6h0.17M100.0 381.3h0.17M101.9 374.3h0.17M108.4 360.8h0.17M95.7 373.0h0.17M104.5 385.7h0.17M103.1 379.4h0.17M92.9 366.0h0.17M96.2 375.9h0.17M101.4 391.0h0.17M107.3 383.2h0.17M92.6 367.0h0.17M99.5 391.1h0.17M115.6 388.1h0.17M113.9 416.8h0.17M90.1 405.6h0.17M108.7 407.9h0.17M98.9 401.2h0.17M94.9 383.8h0.17M99.2 415.3h0.17M97.2 401.2h0.17M99.6 372.9h0.17M101.1 396.2h0.17M92.9 395.8h0.17M92.9 370.1h0.17M100.9 381.0h0.17M90.6 357.3h0.17M99.2 389.1h0.17M95.1 388.2h0.17M86.0 391.7h0.17M102.5 389.7h0.17M93.8 386.3h0.17M100.1 403.2h0.17M101.3 389.3h0.17M92.8 399.7h0.17M109.0 376.6h0.17M104.4 390.2h0.17M98.6 363.1h0.17M113.9 353.3h0.17M101.6 378.6h0.17M108.7 377.8h0.17M99.3 395.4h0.17M102.9 376.2h0.17M104.8 391.7h0.17M107.4 376.3h0.17M98.6 378.4h0.17M91.9 389.3h0.17M102.5 409.1h0.17M96.2 391.6h0.17M108.7 383.1h0.17M99.5 387.3h0.17M93.1 368.2h0.17M108.5 387.9h0.17M98.4 363.9h0.17M100.0 404.9h0.17M89.2 369.9h0.17M108.4 409.2h0.17M112.2 375.6h0.17M104.1 372.3h0.17M103.4 378.8h0.17M100.7 407.7h0.17M101.9 380.9h0.17M99.5 389.5h0.17M94.7 388.5h0.17M104.1 411.4h0.17M81.6 364.9h0.17M88.5 399.8h0.17M119.6 388.3h0.17M100.0 404.2h0.17M78.4 382.0h0.17M72.7 387.6h0.17M94.7 376.8h0.17M101.9 375.1h0.17M108.4 385.0h0.17M95.2 400.6h0.17M92.0 406.1h0.17M107.1 387.4h0.17M107.4 412.2h0.17M110.6 385.0h0.17M98.5 403.7h0.17M86.6 374.8h0.17M103.1 394.6h0.17M114.7 414.7h0.17M101.7 392.4h0.17M87.9 381.9h0.17M101.2 381.2h0.17M99.5 395.2h0.17M91.0 375.4h0.17M84.0 404.3h0.17M90.1 356.3h0.17M105.5 381.4h0.17M107.1 378.8h0.17M116.9 397.0h0.17M100.3 386.9h0.17M97.3 398.6h0.17M115.8 377.9h0.17M89.9 395.0h0.17M108.0 359.9h0.17M93.2 368.3h0.17M103.7 393.5h0.17M92.8 366.1h0.17M104.7 350.5h0.17M104.4 382.4h0.17M115.1 401.7h0.17M94.1 380.4h0.17M96.7 372.8h0.17M99.7 401.2h0.17M86.4 381.2h0.17M111.5 397.4h0.17M92.2 371.5h0.17M91.8 358.1h0.17M108.6 386.2h0.17M93.2 361.0h0.17M95.8 376.4h0.17M113.4 377.3h0.17M100.0 402.9h0.17M104.6 382.0h0.17M80.7 408.5h0.17M104.0 377.7h0.17M98.3 369.0h0.17M91.5 360.2h0.17M103.2 393.7h0.17M100.5 398.0h0.17M103.5 387.0h0.17M91.6 394.9h0.17M108.9 395.5h0.17M109.4 377.1h0.17M90.8 405.9h0.17M94.1 389.1h0.17M97.4 385.4h0.17M96.7 376.0h0.17M84.1 416.8h0.17M100.7 352.9h0.17M91.4 366.2h0.17M92.8 342.5h0.17M103.8 412.3h0.17M96.9 397.4h0.17M104.0 364.2h0.17M109.2 356.9h0.17M94.2 379.0h0.17M109.5 387.0h0.17M98.0 371.6h0.17M99.8 385.7h0.17M105.1 408.2h0.17M105.1 385.3h0.17M97.7 411.7h0.17M100.7 384.7h0.17M114.0 411.1h0.17M103.7 383.2h0.17M93.7 402.8h0.17M95.2 401.0h0.17M92.5 386.7h0.17M102.3 387.4h0.17M100.9 391.3h0.17M89.7 366.5h0.17M97.8 415.0h0.17M98.0 369.6h0.17M93.5 385.6h0.17M108.8 375.6h0.17M103.7 388.1h0.17M96.0 369.3h0.17M97.7 373.0h0.17M103.5 355.7h0.17M108.4 397.6h0.17M103.8 409.9h0.17M104.0 356.6h0.17M99.4 392.5h0.17M93.3 366.2h0.17M102.6 393.5h0.17M95.5 381.0h0.17M94.8 375.6h0.17M98.5 402.8h0.17M85.6 379.4h0.17M112.4 390.3h0.17M100.3 398.9h0.17M90.7 364.9h0.17M85.2 360.8h0.17M101.1 399.1h0.17M95.5 373.7h0.17M102.3 395.2h0.17M101.1 353.4h0.17M94.5 343.0h0.17M101.0 370.9h0.17M93.6 409.9h0.17M109.9 393.0h0.17M101.3 387.9h0.17M94.2 384.2h0.17M114.8 370.5h0.17M93.5 387.7h0.17M106.4 398.8h0.17M91.0 382.8h0.17M96.8 364.6h0.17M99.6 377.0h0.17M106.6 392.2h0.17M92.5 386.3h0.17M96.1 374.5h0.17M95.0 402.6h0.17M95.6 356.7h0.17M92.6 398.4h0.17M116.8 367.6h0.17M96.1 379.6h0.17M87.4 391.6h0.17M98.6 389.6h0.17M117.5 380.6h0.17M105.6 398.8h0.17M93.7 375.2h0.17M111.9 396.8h0.17M100.2 366.9h0.17M106.3 393.7h0.17M117.2 409.4h0.17M105.6 389.4h0.17M99.5 375.9h0.17M101.6 389.0h0.17M104.4 403.0h0.17M101.6 376.0h0.17M105.7 410.7h0.17M92.1 391.9h0.17M103.5 393.9h0.17M103.2 383.5h0.17M98.2 412.9h0.17M113.3 361.8h0.17M78.0 392.2h0.17M93.4 376.5h0.17M85.8 390.8h0.17M98.6 376.1h0.17M106.4 425.2h0.17M111.2 404.4h0.17M95.6 395.9h0.17M98.7 404.1h0.17M103.8 384.4h0.17M103.6 373.1h0.17M105.5 409.9h0.17M96.0 394.2h0.17M85.2 400.5h0.17M106.3 368.1h0.17M113.4 386.9h0.17M84.7 362.4h0.17M106.2 380.5h0.17M108.1 359.4h0.17M98.2 401.1h0.17M93.4 396.2h0.17M96.0 390.7h0.17M101.7 421.9h0.17M88.8 397.9h0.17M109.8 366.4h0.17M99.7 423.1h0.17M97.0 356.8h0.17M101.5 373.0h0.17M94.4 371.2h0.17M101.4 377.3h0.17M91.5 381.3h0.17M102.4 370.9h0.17M108.2 357.6h0.17M102.4 378.6h0.17M112.0 374.4h0.17M93.5 362.8h0.17M115.4 395.2h0.17M90.0 379.5h0.17M91.1 410.2h0.17M102.5 351.4h0.17M100.7 400.1h0.17M99.0 392.8h0.17M98.1 388.5h0.17M100.8 373.3h0.17M101.9 387.7h0.17M98.7 373.7h0.17M90.6 389.1h0.17M105.8 345.1h0.17M94.6 407.4h0.17M106.6 373.2h0.17M110.2 368.7h0.17M92.5 417.0h0.17M95.4 381.4h0.17M85.4 368.3h0.17M89.3 382.7h0.17M83.8 402.6h0.17M96.1 375.0h0.17M93.8 397.3h0.17M111.7 378.3h0.17M112.3 411.6h0.17M110.1 389.9h0.17M86.7 396.1h0.17M95.6 388.2h0.17M83.4 380.3h0.17M100.9 369.5h0.17M101.4 412.7h0.17M100.9 373.7h0.17M118.7 349.4h0.17M91.4 391.8h0.17M94.1 347.1h0.17M101.2 398.8h0.17M92.4 409.3h0.17M103.1 404.7h0.17M86.4 385.0h0.17M112.2 418.4h0.17M109.9 385.0h0.17M100.5 374.6h0.17M108.1 373.5h0.17M100.0 350.8h0.17M86.5 414.5h0.17M99.5 388.6h0.17M80.8 384.5h0.17M116.2 360.2h0.17M79.3 382.3h0.17M94.6 381.5h0.17M88.6 362.5h0.17M88.8 395.6h0.17M98.6 398.6h0.17M90.1 394.8h0.17M95.3 386.5h0.17M106.7 385.6h0.17M96.1 357.4h0.17M99.5 398.0h0.17M93.7 383.9h0.17M84.3 362.8h0.17M102.4 406.5h0.17M96.4 357.2h0.17M95.8 359.0h0.17M96.7 417.1h0.17M101.5 382.5h0.17M107.6 378.7h0.17M101.8 388.3h0.17M102.7 360.5h0.17M104.9 399.7h0.17M80.0 339.8h0.17M91.5 409.9h0.17M99.2 396.3h0.17M103.6 399.8h0.17M93.7 375.2h0.17M102.1 395.2h0.17M103.8 390.7h0.17M95.0 403.5h0.17M102.9 402.8h0.17M77.8 401.9h0.17M78.6 388.5h0.17M93.4 387.0h0.17M95.0 379.8h0.17M100.6 390.8h0.17M92.3 342.7h0.17M92.5 394.1h0.17M91.9 392.2h0.17M95.9 369.2h0.17M108.8 412.8h0.17M98.1 384.2h0.17M107.0 362.7h0.17M91.7 404.0h0.17M106.6 376.7h0.17M92.5 390.9h0.17M87.2 376.6h0.17M97.1 343.7h0.17M104.0 397.8h0.17M108.0 360.8h0.17M88.2 371.3h0.17M88.0 419.5h0.17M90.8 379.7h0.17M100.7 392.7h0.17M111.2 366.7h0.17M106.4 387.5h0.17M89.1 387.5h0.17M87.2 412.3h0.17M92.9 402.0h0.17M110.0 374.6h0.17M91.4 387.2h0.17M57.6 352.3h0.17M68.6 348.0h0.17M60.9 351.9h0.17M54.0 354.4h0.17M60.0 349.5h0.17M58.7 354.2h0.17M74.4 353.4h0.17M72.8 350.2h0.17M82.2 351.7h0.17M70.9 351.5h0.17M73.6 350.7h0.17M65.5 345.9h0.17M85.4 346.6h0.17M47.7 348.2h0.17M84.3 353.2h0.17M61.6 350.7h0.17M66.8 344.9h0.17M64.0 350.8h0.17M77.5 346.9h0.17M46.8 345.9h0.17M70.0 350.2h0.17M68.3 350.4h0.17M63.7 346.5h0.17M71.1 351.0h0.17M72.2 353.2h0.17M55.9 343.9h0.17M51.0 355.6h0.17M58.8 351.0h0.17M66.9 351.9h0.17M95.9 348.7h0.17M65.5 348.4h0.17M69.2 351.4h0.17M58.3 353.4h0.17M77.3 351.2h0.17M66.0 349.4h0.17M52.2 351.7h0.17M58.2 348.7h0.17M76.0 347.6h0.17M62.3 352.2h0.17M83.7 348.2h0.17M76.9 348.3h0.17M70.5 351.3h0.17M56.8 352.7h0.17M83.2 350.1h0.17M69.4 347.0h0.17M83.1 350.2h0.17M55.5 352.0h0.17M53.8 348.2h0.17M47.8 353.6h0.17M86.9 348.3h0.17M61.1 348.5h0.17M61.9 351.4h0.17M80.1 347.4h0.17M71.0 345.3h0.17M80.7 349.8h0.17M60.7 354.0h0.17M66.0 353.6h0.17M76.7 354.3h0.17M59.8 350.1h0.17M70.3 349.5h0.17M80.7 348.1h0.17M76.0 353.5h0.17M49.4 347.5h0.17M58.9 348.6h0.17M70.5 349.5h0.17M67.7 348.8h0.17M66.3 351.3h0.17M73.7 348.0h0.17M66.0 348.0h0.17M65.4 346.3h0.17M75.6 351.7h0.17M65.9 348.2h0.17M62.9 348.3h0.17M53.1 354.2h0.17M96.6 346.8h0.17M56.5 351.5h0.17M72.5 345.9h0.17M49.7 351.4h0.17M49.1 353.7h0.17M62.5 350.2h0.17M67.0 348.5h0.17M65.7 349.2h0.17M78.2 349.8h0.17M66.7 348.6h0.17M61.3 348.1h0.17M67.1 354.8h0.17M77.0 350.6h0.17M82.0 352.6h0.17M68.9 349.6h0.17M57.1 350.6h0.17M64.2 345.9h0.17M55.4 355.0h0.17M68.9 351.3h0.17M68.8 348.8h0.17M71.2 352.8h0.17M64.2 351.3h0.17M76.2 348.7h0.17M68.5 348.1h0.17M72.4 349.0h0.17M77.3 348.0h0.17M82.2 349.2h0.17M59.4 347.7h0.17M73.0 347.8h0.17M83.2 353.3h0.17M71.7 346.3h0.17M66.8 348.1h0.17M50.7 351.1h0.17M86.8 348.6h0.17M74.3 353.3h0.17M58.4 349.1h0.17M69.4 351.2h0.17M56.7 350.6h0.17M66.0 352.5h0.17M52.6 348.5h0.17M62.5 349.2h0.17M73.5 348.4h0.17M91.6 348.2h0.17M74.6 352.7h0.17M75.7 349.5h0.17M59.5 349.3h0.17M73.0 350.3h0.17M72.2 351.5h0.17M59.0 347.6h0.17M80.0 348.7h0.17M52.7 354.8h0.17M59.5 347.6h0.17M75.7 347.1h0.17M59.2 352.7h0.17M59.6 356.5h0.17M67.9 357.0h0.17M68.2 350.1h0.17M61.2 349.4h0.17M62.5 349.9h0.17M73.9 346.7h0.17M58.7 344.6h0.17M80.5 349.8h0.17M66.9 349.8h0.17M76.0 350.8h0.17M74.7 349.6h0.17M65.9 349.9h0.17M50.2 352.8h0.17M52.8 347.4h0.17M73.0 350.1h0.17M74.3 354.4h0.17M83.8 353.6h0.17M65.0 355.3h0.17M59.1 349.8h0.17M76.0 349.4h0.17M65.9 349.1h0.17M79.3 343.6h0.17M78.5 352.8h0.17M66.3 351.5h0.17M58.3 352.9h0.17M94.5 347.6h0.17M79.6 349.9h0.17M64.0 348.7h0.17M65.3 346.7h0.17M54.8 354.3h0.17M66.8 351.4h0.17M69.8 351.2h0.17M53.3 347.5h0.17M72.7 352.6h0.17M56.7 348.5h0.17M57.4 351.7h0.17M70.1 350.1h0.17M61.2 350.9h0.17M67.3 348.1h0.17M70.0 348.3h0.17M75.6 351.6h0.17M60.8 351.5h0.17M67.6 348.2h0.17M58.8 345.7h0.17M56.8 350.9h0.17M77.9 348.4h0.17M68.4 350.9h0.17M74.0 351.2h0.17M78.0 352.0h0.17M60.1 351.0h0.17M45.9 349.5h0.17M67.2 351.5h0.17M64.3 352.2h0.17M78.9 347.8h0.17M62.1 350.7h0.17M71.4 350.4h0.17M74.5 346.9h0.17M74.0 353.0h0.17M77.0 351.1h0.17M64.9 351.0h0.17M66.3 345.9h0.17M61.6 349.9h0.17M62.4 347.6h0.17M64.9 349.0h0.17M67.6 349.9h0.17M68.5 352.6h0.17M68.2 351.1h0.17M56.0 342.3h0.17M63.4 351.8h0.17M63.9 348.4h0.17M55.8 352.3h0.17M62.3 350.6h0.17M77.2 351.4h0.17M87.2 349.7h0.17M75.6 351.8h0.17M61.1 350.1h0.17M61.9 347.3h0.17M69.7 348.0h0.17M82.1 348.1h0.17M62.1 350.2h0.17M62.3 350.1h0.17M61.5 346.3h0.17M45.3 346.6h0.17M80.7 351.2h0.17M68.4 348.8h0.17M65.7 350.8h0.17M54.5 347.9h0.17M59.0 353.3h0.17M57.5 353.0h0.17M62.8 357.1h0.17M66.3 350.1h0.17M79.2 352.3h0.17M75.5 347.2h0.17M77.2 354.4h0.17M66.1 348.7h0.17M57.2 352.6h0.17M69.6 350.0h0.17M55.9 354.2h0.17M74.9 349.9h0.17M80.3 347.5h0.17M74.9 347.4h0.17M79.7 349.3h0.17M78.0 348.9h0.17M70.6 353.0h0.17M58.9 350.3h0.17M59.5 352.2h0.17M61.6 349.0h0.17M65.2 353.0h0.17M57.6 349.9h0.17M64.0 348.6h0.17M59.9 349.6h0.17M68.8 346.0h0.17M69.1 346.9h0.17M67.1 355.9h0.17M58.3 349.8h0.17M64.7 352.6h0.17M62.7 345.4h0.17M52.5 350.5h0.17M69.3 352.8h0.17M62.2 351.7h0.17M57.4 353.4h0.17M66.4 348.2h0.17M68.6 354.5h0.17M59.4 346.8h0.17M57.9 347.0h0.17M66.5 350.9h0.17M65.5 350.5h0.17M77.7 349.2h0.17M55.7 344.1h0.17M69.2 348.2h0.17M64.8 351.1h0.17M71.2 345.9h0.17M58.4 350.2h0.17M65.7 353.0h0.17M62.5 344.6h0.17M77.5 345.7h0.17M58.3 351.0h0.17M57.5 356.5h0.17M69.1 351.4h0.17M63.1 355.8h0.17M71.9 348.1h0.17M78.3 345.6h0.17M61.7 350.8h0.17M68.2 347.5h0.17M81.2 353.8h0.17M58.6 351.0h0.17M61.3 348.9h0.17M75.9 350.3h0.17M66.0 350.3h0.17M56.4 353.2h0.17M60.2 353.4h0.17M62.9 348.8h0.17M80.4 350.5h0.17M61.2 348.6h0.17M72.4 354.9h0.17M72.5 349.0h0.17M56.9 348.3h0.17M65.9 350.6h0.17M61.1 353.3h0.17M58.4 348.1h0.17M71.5 351.3h0.17M63.5 352.5h0.17M54.3 354.2h0.17M86.7 355.1h0.17M68.1 355.1h0.17M67.5 353.5h0.17M65.2 350.5h0.17M71.7 345.5h0.17M65.1 354.5h0.17M40.7 351.0h0.17M75.3 350.9h0.17M68.8 353.6h0.17M70.0 345.1h0.17M58.5 349.2h0.17M68.3 348.8h0.17M66.1 354.3h0.17M40.6 353.0h0.17M75.4 351.6h0.17M67.1 350.2h0.17M70.3 350.6h0.17M60.5 352.0h0.17M59.6 349.9h0.17M63.8 347.0h0.17M72.4 349.8h0.17M56.5 349.8h0.17M54.6 353.7h0.17M71.6 355.2h0.17M61.9 351.8h0.17M58.3 347.8h0.17M66.2 351.1h0.17M75.3 349.3h0.17M76.9 352.5h0.17M59.1 349.5h0.17M58.8 354.4h0.17M62.1 352.3h0.17M75.2 349.3h0.17M62.6 350.9h0.17M60.0 346.7h0.17M58.3 350.9h0.17M68.7 354.6h0.17M50.6 351.3h0.17M56.7 353.0h0.17M73.2 350.3h0.17M80.2 349.0h0.17M62.3 347.3h0.17M61.1 350.3h0.17M73.0 353.3h0.17M64.6 348.1h0.17M64.0 348.9h0.17M62.8 349.0h0.17M59.2 349.9h0.17M62.4 349.6h0.17M54.6 350.4h0.17M72.1 351.7h0.17M62.1 347.1h0.17M55.4 347.0h0.17M61.3 349.2h0.17M51.1 351.7h0.17M53.2 348.2h0.17M60.6 352.1h0.17M83.4 349.1h0.17M64.6 349.0h0.17M65.2 349.6h0.17M89.0 347.2h0.17M66.0 348.0h0.17M70.2 348.7h0.17M72.1 347.2h0.17M85.8 350.5h0.17M51.2 351.8h0.17M62.8 347.0h0.17M70.9 348.7h0.17M73.6 348.6h0.17M75.0 350.4h0.17M70.2 350.4h0.17M63.8 349.1h0.17M71.0 351.8h0.17M63.4 355.8h0.17M82.1 347.1h0.17M76.7 349.8h0.17M69.1 348.0h0.17M81.7 347.9h0.17M66.3 348.1h0.17M84.2 353.2h0.17M55.3 348.8h0.17M70.2 348.9h0.17M63.9 347.2h0.17M69.2 347.2h0.17M74.4 356.1h0.17M64.1 354.2h0.17M70.3 348.3h0.17M63.9 347.5h0.17M68.0 351.8h0.17M75.3 349.3h0.17M56.4 349.8h0.17M81.9 350.7h0.17M66.4 344.7h0.17M63.2 351.4h0.17M58.6 353.5h0.17M62.0 347.8h0.17M61.9 349.8h0.17M75.9 348.6h0.17M51.2 349.8h0.17M71.6 353.9h0.17M57.0 353.8h0.17M73.0 351.2h0.17M60.2 347.8h0.17M58.5 352.4h0.17M68.9 352.7h0.17M83.1 350.1h0.17M66.6 354.9h0.17M55.4 348.9h0.17M63.7 349.0h0.17M68.3 347.9h0.17M77.3 346.5h0.17M59.8 345.7h0.17M54.6 351.5h0.17M72.6 349.5h0.17M74.5 351.6h0.17M61.9 349.9h0.17M70.3 355.1h0.17M63.1 351.0h0.17M71.8 353.1h0.17M70.8 352.7h0.17M57.6 349.3h0.17M49.9 349.9h0.17M87.6 350.6h0.17M67.8 350.7h0.17M68.3 346.6h0.17M60.9 349.6h0.17M68.5 347.8h0.17M66.1 348.1h0.17M55.3 348.3h0.17M59.9 352.1h0.17M78.9 351.5h0.17M65.1 348.6h0.17M53.1 348.7h0.17M80.8 352.9h0.17M69.0 349.4h0.17M67.0 351.1h0.17M66.9 351.1h0.17M60.2 350.1h0.17M63.9 352.8h0.17M56.0 353.3h0.17M66.2 348.7h0.17M67.2 350.3h0.17M64.9 351.1h0.17M61.9 345.7h0.17M73.2 350.0h0.17M81.7 351.0h0.17M49.3 353.2h0.17M60.9 351.4h0.17M86.6 352.8h0.17M57.3 349.8h0.17M52.8 351.7h0.17M72.0 347.4h0.17M71.0 352.4h0.17M74.1 348.3h0.17M60.9 347.2h0.17M55.6 350.8h0.17M67.4 353.3h0.17M69.4 349.2h0.17M54.4 353.9h0.17M53.9 358.9h0.17M51.2 352.4h0.17M54.9 352.9h0.17M54.8 363.0h0.17M52.6 348.8h0.17M54.4 367.9h0.17M51.6 351.1h0.17M56.0 360.0h0.17M52.1 366.8h0.17M52.9 361.9h0.17M52.6 354.3h0.17M54.0 353.6h0.17M49.5 355.6h0.17M56.3 366.0h0.17M58.4 365.3h0.17M57.1 360.6h0.17M52.5 362.0h0.17M51.4 363.7h0.17M52.5 360.7h0.17M51.6 358.2h0.17M55.7 357.7h0.17M52.0 360.8h0.17M55.5 357.9h0.17M50.9 349.2h0.17M50.5 365.8h0.17M53.3 362.1h0.17M55.9 360.9h0.17M54.6 355.9h0.17M49.9 363.0h0.17M53.3 362.7h0.17M51.1 358.2h0.17M58.0 353.8h0.17M53.7 367.3h0.17M53.0 359.9h0.17M48.7 364.0h0.17M52.5 367.2h0.17M53.3 356.7h0.17M54.5 357.6h0.17M52.3 368.8h0.17M55.7 359.8h0.17M55.3 364.3h0.17M54.8 359.4h0.17M53.7 361.6h0.17M54.8 361.3h0.17M52.3 358.6h0.17M54.5 352.9h0.17M53.5 363.8h0.17M53.9 357.3h0.17M53.4 356.1h0.17M55.7 356.7h0.17M49.7 351.5h0.17M54.2 360.4h0.17M52.4 350.9h0.17M53.2 353.8h0.17M52.0 359.1h0.17M51.8 361.0h0.17M51.8 356.2h0.17M53.0 368.2h0.17M57.1 365.0h0.17M51.8 359.1h0.17M55.6 364.1h0.17M49.8 358.7h0.17M51.8 363.8h0.17M54.9 355.8h0.17M58.3 357.4h0.17M59.0 358.0h0.17M53.3 370.9h0.17M52.3 356.2h0.17M56.8 358.9h0.17M54.6 351.3h0.17M57.5 365.2h0.17M54.3 363.5h0.17M52.4 356.2h0.17M50.0 361.4h0.17M56.3 364.4h0.17M55.6 363.5h0.17M51.4 351.0h0.17M54.9 360.1h0.17M55.7 357.4h0.17M51.5 361.9h0.17M52.2 348.9h0.17M52.1 353.7h0.17M51.0 355.7h0.17M55.6 373.7h0.17M57.4 356.5h0.17M56.1 358.7h0.17M54.4 354.9h0.17M53.3 348.7h0.17M57.5 354.4h0.17M54.8 355.5h0.17M54.1 351.8h0.17M52.7 364.8h0.17M54.8 347.1h0.17M55.4 351.0h0.17M54.1 362.3h0.17M52.1 357.1h0.17M52.9 361.6h0.17M55.6 367.5h0.17M54.2 371.4h0.17M51.4 370.1h0.17M52.9 363.9h0.17M53.2 359.6h0.17M51.4 361.5h0.17M58.1 360.0h0.17M53.5 359.1h0.17M55.1 357.8h0.17M53.5 360.4h0.17M56.4 365.0h0.17M51.1 355.2h0.17M53.5 364.3h0.17M55.7 357.8h0.17M58.3 358.1h0.17M56.7 367.9h0.17M57.1 360.3h0.17M54.8 349.7h0.17M49.5 355.3h0.17M55.1 365.7h0.17M53.3 365.5h0.17M54.8 368.5h0.17M49.9 354.0h0.17M51.3 352.7h0.17M57.2 353.4h0.17M51.6 356.6h0.17M55.5 356.3h0.17M55.2 362.5h0.17M52.1 344.5h0.17M51.4 351.4h0.17M57.2 354.7h0.17M51.1 361.4h0.17M53.6 353.3h0.17M56.0 364.8h0.17M54.1 354.4h0.17M51.5 346.4h0.17M54.4 361.5h0.17M51.4 359.3h0.17M60.9 352.1h0.17M49.7 362.9h0.17M52.5 356.0h0.17M54.9 358.3h0.17M55.7 362.3h0.17M56.1 359.8h0.17M48.6 367.5h0.17M49.7 365.5h0.17M54.1 350.5h0.17M53.7 364.5h0.17M51.2 359.3h0.17M51.8 352.9h0.17M52.1 367.0h0.17M55.0 358.9h0.17M53.3 359.9h0.17M54.1 360.2h0.17M49.6 364.8h0.17M51.6 343.0h0.17M55.1 351.6h0.17M53.2 358.5h0.17M52.2 362.4h0.17M52.9 357.4h0.17M51.3 357.3h0.17M51.2 359.3h0.17M56.5 365.3h0.17M54.5 350.7h0.17M55.8 364.8h0.17M58.2 345.2h0.17M53.5 357.0h0.17M56.0 352.4h0.17M52.6 373.4h0.17M55.7 346.7h0.17M53.5 367.5h0.17M52.1 362.8h0.17M53.7 350.0h0.17M52.1 366.1h0.17M56.2 355.3h0.17M56.0 354.7h0.17M54.1 358.9h0.17M50.7 361.1h0.17M52.6 342.1h0.17M51.6 353.8h0.17M51.6 353.0h0.17M51.9 343.9h0.17M55.5 359.5h0.17M54.1 357.4h0.17M53.6 357.4h0.17M51.0 349.6h0.17M53.7 365.4h0.17M54.0 369.0h0.17M50.4 357.4h0.17M52.1 366.7h0.17M57.3 355.8h0.17M55.2 357.5h0.17M51.2 358.4h0.17M51.1 368.7h0.17M54.8 366.4h0.17M54.3 344.0h0.17M55.3 359.6h0.17M48.1 359.7h0.17M55.8 369.7h0.17M51.2 363.9h0.17M54.3 358.0h0.17M52.9 362.3h0.17M54.8 363.1h0.17M52.6 350.8h0.17M56.5 367.1h0.17M52.2 358.8h0.17M55.3 348.1h0.17M54.6 374.1h0.17M54.1 354.6h0.17M58.1 359.1h0.17M54.0 356.4h0.17M53.9 347.9h0.17M50.6 349.8h0.17M55.5 358.4h0.17M56.1 346.3h0.17M52.1 368.1h0.17M51.7 347.4h0.17M51.8 356.9h0.17M53.5 367.1h0.17M56.5 368.7h0.17M54.8 355.9h0.17M52.4 349.8h0.17M56.4 366.8h0.17M53.7 353.5h0.17M55.0 362.1h0.17M53.8 351.8h0.17M54.0 355.5h0.17M55.2 362.7h0.17M54.5 356.4h0.17M56.9 363.8h0.17M56.4 364.2h0.17M55.0 361.5h0.17M51.1 347.7h0.17M51.4 362.8h0.17M55.6 360.2h0.17M53.7 370.4h0.17M52.6 347.9h0.17M50.0 357.0h0.17M55.1 363.6h0.17M53.0 364.1h0.17M53.4 354.5h0.17M52.6 363.7h0.17M55.7 352.0h0.17M51.3 359.8h0.17M58.3 351.7h0.17M50.7 361.6h0.17M54.6 355.2h0.17M53.4 362.0h0.17M49.6 358.9h0.17M54.9 364.8h0.17M56.1 358.6h0.17M50.2 367.4h0.17M55.2 355.0h0.17M55.8 365.5h0.17M53.2 344.3h0.17M52.4 354.3h0.17M51.6 358.5h0.17M51.1 361.4h0.17M57.8 351.6h0.17M55.8 355.7h0.17M54.7 358.2h0.17M56.4 354.6h0.17M55.2 354.2h0.17M54.0 358.9h0.17M56.0 349.2h0.17M50.5 367.7h0.17M54.4 369.6h0.17M51.2 360.3h0.17M54.9 370.0h0.17M53.4 356.2h0.17M55.1 358.4h0.17M51.8 363.8h0.17M49.2 352.7h0.17M56.6 355.9h0.17M52.8 361.3h0.17M56.0 362.3h0.17M51.3 355.5h0.17M55.9 358.3h0.17M52.1 364.4h0.17M56.1 372.6h0.17M51.1 354.6h0.17M51.9 361.2h0.17M52.4 366.0h0.17M47.5 365.0h0.17M52.1 357.3h0.17M54.8 360.3h0.17M51.2 368.4h0.17M54.8 355.9h0.17M54.0 352.1h0.17M50.7 357.1h0.17M54.3 359.6h0.17M51.8 350.4h0.17M49.7 369.0h0.17M54.3 354.0h0.17M56.2 362.4h0.17M52.6 355.2h0.17M56.1 361.0h0.17M57.2 361.3h0.17M52.2 355.3h0.17M51.9 360.6h0.17M54.1 362.8h0.17M54.5 352.5h0.17M53.0 353.1h0.17M54.6 350.8h0.17M52.2 353.7h0.17M52.1 357.4h0.17M56.9 357.4h0.17M50.3 357.1h0.17M55.2 362.5h0.17M54.0 371.4h0.17M56.0 359.6h0.17M56.2 350.7h0.17M53.1 353.6h0.17M53.9 369.1h0.17M52.4 368.9h0.17M51.2 367.9h0.17M49.7 353.7h0.17M55.7 358.4h0.17M53.8 358.9h0.17M53.9 357.9h0.17M51.3 357.2h0.17M53.7 353.4h0.17M54.5 370.0h0.17M49.8 355.6h0.17M52.9 359.1h0.17M53.7 354.5h0.17M53.4 359.0h0.17M53.3 368.6h0.17M53.8 349.8h0.17M50.0 362.7h0.17M52.7 355.1h0.17M50.5 357.1h0.17M53.3 354.7h0.17M52.7 364.5h0.17M55.3 362.4h0.17M53.1 350.5h0.17M55.2 368.3h0.17M56.3 366.3h0.17M54.1 361.3h0.17M53.5 366.8h0.17M52.9 372.4h0.17M55.2 357.0h0.17M53.5 349.0h0.17M51.9 357.1h0.17M59.0 353.9h0.17M55.6 359.5h0.17M52.8 362.9h0.17M49.0 364.9h0.17M57.8 360.8h0.17M53.4 360.0h0.17M55.0 355.9h0.17M53.8 362.1h0.17M52.7 361.4h0.17M54.2 363.5h0.17M51.3 355.7h0.17M52.5 366.5h0.17M54.1 348.7h0.17M50.6 371.1h0.17M54.3 350.9h0.17M51.5 359.9h0.17M56.7 369.1h0.17M52.7 357.1h0.17M57.8 352.9h0.17M57.0 361.1h0.17M53.7 367.0h0.17M54.6 353.8h0.17M50.1 359.1h0.17M54.6 367.5h0.17M47.7 367.4h0.17M54.9 368.5h0.17M55.3 360.3h0.17M54.5 361.5h0.17M52.1 358.3h0.17M53.8 356.2h0.17M50.2 350.0h0.17M54.6 362.3h0.17M53.7 351.7h0.17M55.4 356.6h0.17M48.9 368.8h0.17M50.2 373.1h0.17M54.7 356.3h0.17M48.2 354.6h0.17M56.8 367.5h0.17M80.6 347.1h0.17M79.1 355.4h0.17M81.1 356.3h0.17M80.8 347.6h0.17M78.4 365.3h0.17M76.5 362.3h0.17M85.6 360.8h0.17M76.6 364.2h0.17M75.5 358.9h0.17M79.0 364.1h0.17M82.9 358.1h0.17M84.4 362.7h0.17M78.8 351.3h0.17M86.0 354.7h0.17M81.0 356.3h0.17M78.9 347.7h0.17M79.6 356.3h0.17M82.4 354.0h0.17M76.2 350.8h0.17M79.9 358.4h0.17M81.8 354.8h0.17M81.3 357.8h0.17M84.1 356.7h0.17M80.4 360.3h0.17M83.0 351.7h0.17M78.9 355.4h0.17M74.8 364.5h0.17M82.6 357.1h0.17M88.2 364.3h0.17M84.9 366.1h0.17M82.2 348.8h0.17M83.7 359.4h0.17M77.1 357.3h0.17M81.8 362.7h0.17M80.4 354.0h0.17M81.9 352.6h0.17M79.8 361.4h0.17M76.5 359.2h0.17M75.2 351.6h0.17M77.0 356.5h0.17M81.7 356.7h0.17M82.2 357.6h0.17M79.5 359.8h0.17M79.4 357.8h0.17M82.5 353.7h0.17M82.8 350.6h0.17M79.5 347.0h0.17M78.7 366.2h0.17M80.9 364.3h0.17M76.4 351.2h0.17M81.1 361.8h0.17M82.0 347.3h0.17M81.2 356.6h0.17M80.3 359.8h0.17M79.3 347.2h0.17M77.4 348.6h0.17M76.8 356.2h0.17M83.2 352.9h0.17M78.1 350.4h0.17M75.8 357.4h0.17M78.8 355.6h0.17M77.7 359.8h0.17M77.1 360.2h0.17M78.4 361.6h0.17M77.8 359.6h0.17M81.1 356.5h0.17M84.0 358.0h0.17M77.8 361.0h0.17M78.0 353.9h0.17M80.0 358.1h0.17M84.1 346.9h0.17M79.4 363.5h0.17M79.6 358.9h0.17M83.7 349.9h0.17M80.1 361.6h0.17M78.6 346.9h0.17M77.6 358.1h0.17M80.5 367.7h0.17M83.2 348.0h0.17M82.5 362.3h0.17M83.9 356.1h0.17M78.6 357.9h0.17M83.8 360.6h0.17M84.1 361.6h0.17M78.6 351.1h0.17M84.5 348.2h0.17M79.1 355.2h0.17M77.8 353.7h0.17M80.0 370.8h0.17M79.8 354.0h0.17M80.3 362.4h0.17M78.0 354.6h0.17M75.7 361.1h0.17M81.7 365.7h0.17M77.1 369.6h0.17M82.1 355.4h0.17M79.0 355.2h0.17M77.0 361.5h0.17M78.5 352.8h0.17M81.3 357.7h0.17M78.6 355.6h0.17M78.8 364.8h0.17M82.4 352.8h0.17M79.9 365.0h0.17M79.3 367.3h0.17M81.1 360.9h0.17M74.9 361.9h0.17M80.8 360.4h0.17M81.2 360.1h0.17M78.8 362.2h0.17M80.2 350.9h0.17M77.5 357.9h0.17M80.8 344.2h0.17M75.0 363.1h0.17M80.0 373.6h0.17M76.3 355.6h0.17M78.5 360.2h0.17M83.4 366.4h0.17M77.5 364.2h0.17M77.0 358.8h0.17M80.4 360.6h0.17M78.0 364.8h0.17M79.8 356.9h0.17M79.4 350.8h0.17M81.8 359.0h0.17M81.1 367.8h0.17M77.9 355.3h0.17M80.0 362.0h0.17M79.6 362.4h0.17M81.1 346.8h0.17M78.3 345.2h0.17M79.3 354.6h0.17M81.4 358.0h0.17M79.8 364.3h0.17M81.5 349.8h0.17M78.3 358.9h0.17M84.2 355.8h0.17M79.6 358.5h0.17M81.9 356.5h0.17M80.7 354.5h0.17M78.7 352.4h0.17M81.6 353.8h0.17M81.3 359.4h0.17M82.4 341.4h0.17M77.6 349.9h0.17M79.6 361.7h0.17M86.2 366.0h0.17M83.3 359.2h0.17M79.1 360.1h0.17M74.7 362.4h0.17M80.0 360.6h0.17M77.5 350.6h0.17M78.4 356.7h0.17M80.9 354.9h0.17M80.9 361.0h0.17M77.2 356.4h0.17M76.2 353.8h0.17M82.2 352.8h0.17M84.6 359.9h0.17M82.2 357.6h0.17M82.1 363.4h0.17M80.3 353.9h0.17M78.7 368.3h0.17M79.6 354.3h0.17M78.3 347.2h0.17M78.8 358.9h0.17M78.8 352.6h0.17M81.0 359.7h0.17M78.9 358.8h0.17M77.6 362.0h0.17M77.6 355.0h0.17M80.3 354.6h0.17M77.2 369.2h0.17M83.7 346.8h0.17M80.3 349.6h0.17M80.8 349.4h0.17M81.4 360.1h0.17M84.2 364.0h0.17M78.9 362.5h0.17M78.9 356.3h0.17M78.8 346.7h0.17M81.5 345.1h0.17M79.4 360.1h0.17M80.3 347.8h0.17M78.4 361.0h0.17M82.7 366.3h0.17M75.6 359.7h0.17M78.8 361.5h0.17M75.9 356.2h0.17M81.7 353.2h0.17M79.1 351.3h0.17M82.7 349.2h0.17M77.8 355.1h0.17M79.2 369.3h0.17M80.7 352.1h0.17M81.4 359.0h0.17M80.7 356.6h0.17M81.1 350.2h0.17M77.1 354.5h0.17M77.3 361.1h0.17M113.2 356.2h0.17M101.5 353.2h0.17M92.6 347.6h0.17M102.3 347.0h0.17M100.4 351.5h0.17M103.9 352.2h0.17M98.8 350.0h0.17M84.5 350.8h0.17M103.4 355.6h0.17M108.8 348.6h0.17M90.7 354.4h0.17M94.5 360.8h0.17M100.5 346.8h0.17M93.7 357.4h0.17M83.7 352.5h0.17M87.2 357.5h0.17M94.5 348.5h0.17M84.6 349.6h0.17M78.0 350.4h0.17M115.0 352.3h0.17M95.9 348.0h0.17M100.7 350.4h0.17M91.4 356.7h0.17M101.4 349.0h0.17M109.6 351.8h0.17M101.9 352.5h0.17M107.2 354.1h0.17M95.3 354.4h0.17M94.9 352.5h0.17M110.8 348.4h0.17M89.9 350.6h0.17M94.1 356.4h0.17M85.6 359.8h0.17M110.4 350.5h0.17M99.5 350.8h0.17M103.3 354.3h0.17M103.9 354.6h0.17M113.1 351.4h0.17M103.5 351.4h0.17M98.3 352.7h0.17M97.6 353.2h0.17M91.3 351.5h0.17M93.3 348.0h0.17M92.5 350.3h0.17M96.8 346.7h0.17M96.0 348.1h0.17M91.6 352.6h0.17M106.7 353.0h0.17M94.2 350.5h0.17M108.5 346.5h0.17M106.9 346.9h0.17M93.0 352.2h0.17M96.3 357.7h0.17M101.9 351.8h0.17M105.5 352.1h0.17M91.7 355.8h0.17M109.7 356.4h0.17M88.8 358.5h0.17M94.7 354.6h0.17M107.3 360.1h0.17M85.3 348.5h0.17M107.2 353.7h0.17M95.6 342.0h0.17M101.5 351.4h0.17M77.5 361.1h0.17M78.4 350.1h0.17M98.0 352.8h0.17M103.9 351.1h0.17M91.0 350.8h0.17M81.5 348.2h0.17M113.5 349.7h0.17M97.4 358.5h0.17M106.2 352.4h0.17M103.8 351.1h0.17M90.9 355.4h0.17M99.1 357.5h0.17M95.9 350.7h0.17M100.7 351.4h0.17M95.6 348.9h0.17M100.0 353.1h0.17M112.3 351.9h0.17M84.2 353.6h0.17M115.9 350.5h0.17M91.7 351.4h0.17M75.6 350.9h0.17M96.5 346.8h0.17M102.5 349.0h0.17M83.5 349.5h0.17M103.0 358.6h0.17M107.8 352.7h0.17M94.0 351.1h0.17M105.6 350.2h0.17M101.3 355.3h0.17M90.9 350.0h0.17M101.5 352.0h0.17M97.0 350.2h0.17M97.5 358.4h0.17M108.7 346.5h0.17M98.4 352.3h0.17M98.3 347.3h0.17M97.0 352.5h0.17M92.7 353.1h0.17M78.9 346.8h0.17M98.8 353.3h0.17M96.7 350.4h0.17M99.5 355.7h0.17M105.1 351.7h0.17M94.3 355.6h0.17M102.2 355.0h0.17M95.8 349.1h0.17M99.5 349.9h0.17M107.0 354.9h0.17M80.9 354.3h0.17M108.5 355.6h0.17M94.3 349.1h0.17M105.6 355.5h0.17M98.5 348.0h0.17M86.0 352.9h0.17M91.5 349.7h0.17M101.5 355.6h0.17M81.8 349.7h0.17M108.2 351.9h0.17M95.3 354.2h0.17M89.1 347.8h0.17M98.2 357.4h0.17M106.0 352.0h0.17M105.9 350.6h0.17M88.7 346.3h0.17M100.1 355.1h0.17M100.9 351.9h0.17M94.9 355.7h0.17M97.6 347.1h0.17M108.8 349.8h0.17M101.1 352.0h0.17M106.3 352.8h0.17M107.6 352.7h0.17M94.4 350.3h0.17M103.1 349.2h0.17M105.3 351.2h0.17M90.7 349.0h0.17M96.9 358.1h0.17M104.1 352.1h0.17M90.9 358.5h0.17M95.8 352.0h0.17M94.7 356.6h0.17M99.4 350.4h0.17M99.5 348.6h0.17M89.7 351.4h0.17M75.4 356.0h0.17M113.6 348.2h0.17M96.9 346.6h0.17M99.4 352.7h0.17M103.8 347.4h0.17M93.3 349.8h0.17M96.1 359.8h0.17M96.4 351.9h0.17M94.0 354.7h0.17M118.1 356.0h0.17M110.0 348.3h0.17M106.3 352.1h0.17M107.8 355.6h0.17M103.1 346.2h0.17M99.1 350.3h0.17M101.5 352.1h0.17M106.2 346.5h0.17M92.2 351.7h0.17M100.5 350.6h0.17M97.8 352.2h0.17M106.2 351.6h0.17M99.9 345.8h0.17M77.4 347.0h0.17M100.8 344.1h0.17M101.2 351.7h0.17M98.0 349.5h0.17M94.7 354.9h0.17M100.8 351.9h0.17M94.2 352.7h0.17M107.4 351.9h0.17M95.1 348.0h0.17M98.8 348.8h0.17M86.7 355.0h0.17M93.1 345.0h0.17M92.3 358.3h0.17M97.2 347.4h0.17M89.3 354.5h0.17M101.2 352.7h0.17M96.5 353.7h0.17M110.1 353.7h0.17M96.7 347.2h0.17M101.5 357.4h0.17M103.1 347.7h0.17M99.5 356.5h0.17M93.0 353.7h0.17M107.5 357.6h0.17M85.5 346.0h0.17M100.9 354.4h0.17M95.2 351.9h0.17M94.8 356.1h0.17M80.6 352.9h0.17M87.9 349.7h0.17M85.9 348.9h0.17M97.8 352.1h0.17M112.1 351.2h0.17M100.7 353.2h0.17M100.0 357.0h0.17M99.1 352.5h0.17M97.1 352.0h0.17M97.6 355.4h0.17M98.2 352.2h0.17M97.6 354.6h0.17M94.3 355.2h0.17M93.5 354.4h0.17M113.1 352.8h0.17M97.3 347.9h0.17M103.8 352.0h0.17M105.2 349.7h0.17M102.1 358.2h0.17M101.2 350.9h0.17M87.7 352.0h0.17M103.2 354.1h0.17M89.2 348.5h0.17M90.3 348.5h0.17M95.8 352.9h0.17M113.2 352.7h0.17M109.5 346.3h0.17M110.2 354.8h0.17M101.5 354.8h0.17M102.9 358.6h0.17M104.4 346.0h0.17M84.2 357.6h0.17M97.3 356.6h0.17M95.3 349.7h0.17M95.3 353.1h0.17M99.5 349.9h0.17M102.2 354.1h0.17M90.8 348.2h0.17M82.5 350.9h0.17M98.1 349.6h0.17M93.2 351.5h0.17M98.2 354.0h0.17M104.6 353.5h0.17M106.8 348.7h0.17M102.8 353.3h0.17M89.8 349.7h0.17M101.5 352.3h0.17M88.1 350.1h0.17M110.1 354.9h0.17M98.6 356.7h0.17M90.8 351.4h0.17M105.6 350.8h0.17M89.2 354.0h0.17M110.7 343.2h0.17M99.2 347.7h0.17M95.6 347.1h0.17M118.6 349.6h0.17M98.4 349.6h0.17M90.2 350.4h0.17M99.6 358.1h0.17M100.3 357.4h0.17M89.6 352.2h0.17M94.5 346.6h0.17M99.9 349.4h0.17M93.4 348.4h0.17M106.1 350.6h0.17M96.9 352.6h0.17M88.3 352.8h0.17M96.6 353.5h0.17M95.0 352.1h0.17M102.1 355.3h0.17M92.6 355.4h0.17M90.2 351.3h0.17M99.0 352.5h0.17M78.3 348.6h0.17M96.5 355.2h0.17M92.4 357.2h0.17M83.7 352.3h0.17M102.3 352.1h0.17M100.1 355.2h0.17M91.6 354.0h0.17M106.4 351.2h0.17M79.7 347.9h0.17M91.2 348.3h0.17M101.4 349.2h0.17M117.6 354.0h0.17M87.7 351.0h0.17M110.1 354.4h0.17M89.9 355.6h0.17M94.2 359.7h0.17M93.6 354.1h0.17M102.5 350.5h0.17M96.8 356.0h0.17M101.9 351.8h0.17M101.5 358.0h0.17M105.4 353.6h0.17M100.6 346.6h0.17M99.1 350.3h0.17M103.8 349.9h0.17M101.5 348.4h0.17M105.1 349.5h0.17M97.8 354.0h0.17M67.9 352.9h0.17M59.9 367.7h0.17M69.8 367.5h0.17M59.6 360.6h0.17M67.2 353.9h0.17M62.3 368.6h0.17M73.4 361.2h0.17M70.6 367.5h0.17M78.9 362.7h0.17M57.2 367.7h0.17M60.0 356.3h0.17M59.3 361.2h0.17M70.0 360.3h0.17M67.3 354.5h0.17M73.2 361.7h0.17M63.4 367.0h0.17M78.5 368.6h0.17M79.6 353.2h0.17M65.3 360.1h0.17M62.2 365.4h0.17M77.7 354.5h0.17M68.1 369.4h0.17M77.3 360.1h0.17M58.5 360.2h0.17M68.4 366.1h0.17M60.5 357.0h0.17M79.6 352.2h0.17M70.7 353.7h0.17M74.0 359.6h0.17M78.2 356.0h0.17M77.1 356.1h0.17M57.1 353.6h0.17M57.8 359.0h0.17M79.3 358.4h0.17M73.2 352.6h0.17M68.4 361.7h0.17M58.4 362.4h0.17M66.7 357.9h0.17M75.9 364.4h0.17M58.9 353.9h0.17M57.3 356.7h0.17M71.3 369.4h0.17M79.3 367.6h0.17M59.0 366.3h0.17M74.3 360.5h0.17M79.9 362.8h0.17M58.8 355.9h0.17M59.1 363.0h0.17M71.0 367.4h0.17M56.2 352.2h0.17M79.3 356.7h0.17M62.3 367.6h0.17M58.7 366.3h0.17M77.5 362.1h0.17M70.6 352.1h0.17M70.6 363.0h0.17M74.5 361.3h0.17M58.7 356.0h0.17M71.7 353.4h0.17M58.6 356.5h0.17M75.1 361.8h0.17M64.6 369.3h0.17M69.9 356.3h0.17M69.6 367.4h0.17M64.8 359.8h0.17M69.9 369.8h0.17M71.3 355.3h0.17M70.0 357.8h0.17M67.4 364.8h0.17M56.5 361.1h0.17M63.5 362.8h0.17M75.7 360.4h0.17M71.1 357.2h0.17M62.1 361.2h0.17M68.8 356.0h0.17M74.4 361.0h0.17M64.5 356.6h0.17M76.1 368.2h0.17M78.5 356.5h0.17M57.7 363.4h0.17M56.6 367.4h0.17M72.3 358.1h0.17M66.6 364.3h0.17M59.8 358.6h0.17M74.9 364.3h0.17M70.0 353.9h0.17M61.2 356.6h0.17M56.8 363.5h0.17M69.7 368.6h0.17M69.3 368.5h0.17" fill="none" stroke="#2040ff" stroke-width="0.55" stroke-linecap="round" opacity="0.8"/>
<path d="M72.2 394.6h0.14M67.3 392.7h0.14M84.4 393.6h0.14M60.1 388.7h0.14M65.1 398.4h0.14M73.2 393.1h0.14M84.1 403.4h0.14M62.3 377.1h0.14M78.2 397.5h0.14M77.0 394.0h0.14M60.9 392.3h0.14M81.7 397.7h0.14M61.1 380.5h0.14M83.5 395.6h0.14M64.3 401.4h0.14M84.0 407.1h0.14M76.8 405.1h0.14M62.3 392.7h0.14M81.1 388.3h0.14M63.7 407.2h0.14M78.3 376.3h0.14M61.7 396.1h0.14M84.8 398.2h0.14M82.8 379.8h0.14M75.0 382.5h0.14M68.6 381.4h0.14M72.1 377.7h0.14M77.1 399.3h0.14M83.5 403.7h0.14M62.0 407.3h0.14M74.1 409.7h0.14M72.8 378.9h0.14M78.3 382.2h0.14M85.6 395.4h0.14M83.5 393.7h0.14M68.5 399.8h0.14M78.5 392.6h0.14M67.2 391.1h0.14M78.6 384.2h0.14M64.1 393.4h0.14M77.1 378.4h0.14M67.1 411.0h0.14M66.9 403.8h0.14M67.9 379.1h0.14M72.6 407.3h0.14M80.2 377.7h0.14M78.3 398.4h0.14M72.5 399.9h0.14M73.6 382.6h0.14M78.1 380.6h0.14M68.1 406.7h0.14M74.8 394.4h0.14M78.5 393.7h0.14M70.0 395.9h0.14M60.6 388.7h0.14M61.0 411.8h0.14M83.6 399.5h0.14M64.1 406.8h0.14M67.4 405.0h0.14M76.9 397.8h0.14M79.3 385.6h0.14M81.7 395.5h0.14M79.7 406.2h0.14M66.6 390.8h0.14M69.4 378.8h0.14M82.8 400.7h0.14M72.7 395.6h0.14M82.9 378.5h0.14M69.3 400.7h0.14M73.9 393.9h0.14M66.7 384.0h0.14M77.4 388.3h0.14M84.4 408.5h0.14M85.2 386.0h0.14M73.4 379.8h0.14M69.3 378.7h0.14M73.0 410.5h0.14M79.8 389.1h0.14M67.2 409.5h0.14M61.4 406.4h0.14M82.3 378.5h0.14M84.7 399.3h0.14M70.1 391.3h0.14M75.8 395.0h0.14M82.6 408.2h0.14M68.5 376.3h0.14M80.2 399.3h0.14M77.0 378.7h0.14M62.0 408.4h0.14M69.5 393.0h0.14M85.3 383.0h0.14M76.5 378.2h0.14M74.6 402.6h0.14M64.1 403.4h0.14M85.2 405.7h0.14M80.6 410.1h0.14M78.6 395.7h0.14M81.4 405.0h0.14M76.4 400.1h0.14M64.6 388.2h0.14M68.5 406.9h0.14M80.3 386.5h0.14M85.8 378.1h0.14M61.6 387.8h0.14M62.0 410.2h0.14M69.3 390.0h0.14M82.2 395.2h0.14M76.4 391.8h0.14M72.0 410.5h0.14M67.2 394.9h0.14M72.4 381.1h0.14M63.8 394.2h0.14M80.8 391.6h0.14M61.5 409.7h0.14M63.6 407.8h0.14M61.2 399.4h0.14M63.8 385.4h0.14M71.0 403.2h0.14M71.3 391.1h0.14M70.5 394.7h0.14M67.3 410.3h0.14M65.0 380.8h0.14M74.3 388.6h0.14M78.8 377.4h0.14M77.6 389.1h0.14M84.1 386.8h0.14M71.3 387.4h0.14M73.9 386.1h0.14M77.4 390.8h0.14M78.4 386.5h0.14M71.9 396.1h0.14M78.7 399.5h0.14M71.2 379.1h0.14M62.9 381.3h0.14M64.8 382.6h0.14M77.2 388.3h0.14M83.6 384.4h0.14M66.4 382.6h0.14M63.8 400.6h0.14M75.0 385.0h0.14M81.1 400.3h0.14M71.1 397.9h0.14M77.1 391.9h0.14M62.4 389.1h0.14M84.6 389.4h0.14M76.6 379.2h0.14M80.1 407.1h0.14M69.7 389.4h0.14M73.3 385.1h0.14M65.5 380.6h0.14M77.9 394.3h0.14M84.9 410.6h0.14M82.7 410.0h0.14M81.8 376.9h0.14M63.4 411.1h0.14M82.7 398.2h0.14M76.1 391.7h0.14M71.0 381.2h0.14M74.3 385.9h0.14M63.2 407.3h0.14M74.9 407.5h0.14M67.6 396.8h0.14M67.2 405.9h0.14M65.4 399.3h0.14M74.4 387.7h0.14M62.1 393.5h0.14M73.6 405.5h0.14M65.3 382.7h0.14M67.9 404.9h0.14M66.0 398.8h0.14M60.8 379.0h0.14M78.4 393.9h0.14M62.9 393.0h0.14M84.5 390.1h0.14M74.5 391.1h0.14M73.1 377.6h0.14M83.0 396.9h0.14M69.0 386.2h0.14M64.9 409.6h0.14M81.9 389.6h0.14M75.7 395.9h0.14M65.2 377.2h0.14M79.1 381.9h0.14M74.7 376.6h0.14M60.6 381.9h0.14M77.0 398.1h0.14M85.8 399.8h0.14M73.6 376.5h0.14M84.9 393.6h0.14M82.3 377.5h0.14M81.7 393.1h0.14M65.6 390.6h0.14M62.0 396.9h0.14M65.7 401.3h0.14M64.5 400.8h0.14M76.1 401.6h0.14M84.7 386.6h0.14M77.8 390.3h0.14M83.2 405.7h0.14M79.9 397.6h0.14M66.8 408.7h0.14M85.2 410.2h0.14M68.8 405.6h0.14M77.7 406.2h0.14M80.9 392.4h0.14M70.3 404.6h0.14M77.0 395.4h0.14M82.7 377.1h0.14M60.3 392.7h0.14M62.5 406.3h0.14M62.3 407.8h0.14M65.9 380.8h0.14M79.6 400.4h0.14M70.7 397.5h0.14M74.4 410.1h0.14M73.2 395.4h0.14M72.0 390.8h0.14M77.9 380.0h0.14M78.0 409.4h0.14M79.8 395.5h0.14M69.2 379.5h0.14M62.4 395.4h0.14M82.9 407.2h0.14M64.8 403.0h0.14M81.0 393.3h0.14M82.3 382.7h0.14M68.7 394.5h0.14M78.9 392.2h0.14M67.9 407.2h0.14M70.2 391.1h0.14M65.8 393.4h0.14M78.4 389.0h0.14M77.2 393.8h0.14M60.3 410.6h0.14M67.5 395.6h0.14M84.9 383.4h0.14M61.7 383.4h0.14M64.0 406.6h0.14M73.4 377.5h0.14M67.1 394.4h0.14M64.5 387.0h0.14M83.5 392.0h0.14M66.1 397.5h0.14M62.9 394.7h0.14M76.8 379.2h0.14M74.3 387.1h0.14M79.4 398.2h0.14M83.6 397.9h0.14M64.8 382.7h0.14M78.3 405.2h0.14M61.6 391.0h0.14M67.4 392.8h0.14M82.7 396.1h0.14M79.3 403.5h0.14M67.2 398.3h0.14M69.8 393.1h0.14M73.8 400.0h0.14M64.4 406.2h0.14M64.2 387.3h0.14M82.1 411.5h0.14" fill="none" stroke="#ffffff" stroke-width="0.45" stroke-linecap="round" opacity="0.35"/>
<g filter="url(#bl15)">
<ellipse cx="54.5" cy="395" rx="4.6" ry="13" fill="#10c8ff"/>
<ellipse cx="54.3" cy="395.5" rx="3.3" ry="10" fill="#30ee80"/>
</g><g filter="url(#bl08)">
<ellipse cx="54.2" cy="396" rx="3.3" ry="8" fill="#f4f020"/>
<ellipse cx="54.1" cy="396.8" rx="2.6" ry="5.2" fill="#ff2a10"/>
</g><g filter="url(#bl15)">
<path d="M99,358 C104,360 109,372 109,388 C109,400 104,406 98,406 C91,406 88,398 88.5,388 C89,374 94,357 99,358 Z" fill="#10c8ff" stroke="none" stroke-width="1" />
<path d="M100,362 C104,366 107.5,376 107.5,388 C107.5,397 103,401 98.5,401 C93,401 90.5,395 91,387 C91.5,376 96,361 100,362 Z" fill="#33e66a" stroke="none" stroke-width="1" />
</g><g filter="url(#bl08)">
<ellipse cx="101" cy="383.5" rx="6.2" ry="10.5" fill="#eef020"/>
<ellipse cx="101.5" cy="383.5" rx="4.3" ry="6.8" fill="#ff9a10"/>
<ellipse cx="101.7" cy="383.4" rx="2.7" ry="4" fill="#ff3a10"/>
</g>
</g>
<line x1="85.50" y1="337.60" x2="85.50" y2="427.60" stroke="#222" stroke-width="0.8" />
<line x1="36.60" y1="372.30" x2="126.40" y2="372.30" stroke="#222" stroke-width="0.9" />
<rect x="36.90" y="338.60" width="44.60" height="30.80" fill="none" stroke="#111" stroke-width="1.2" />
<text x="40.20" y="346.70" font-size="7.3" font-weight="bold" fill="#000" textLength="35.00" lengthAdjust="spacingAndGlyphs" >DN1 -ETPs</text>
<text x="39.70" y="352.00" font-size="4.6" font-weight="bold" fill="#333" textLength="13.70" lengthAdjust="spacingAndGlyphs" >1.16%</text>
<text x="125.30" y="346.70" font-size="7.3" font-weight="bold" fill="#000" text-anchor="end" textLength="15.60" lengthAdjust="spacingAndGlyphs" >DN2</text>
<text x="125.30" y="352.00" font-size="4.6" font-weight="normal" fill="#333" text-anchor="end" textLength="13.60" lengthAdjust="spacingAndGlyphs" >9.88%</text>
<text x="43.40" y="419.00" font-size="4.6" font-weight="normal" fill="#333" textLength="13.60" lengthAdjust="spacingAndGlyphs" >32.6%</text>
<text x="125.30" y="419.00" font-size="4.6" font-weight="normal" fill="#333" text-anchor="end" textLength="13.10" lengthAdjust="spacingAndGlyphs" >56.4%</text>
<text x="43.40" y="426.40" font-size="7.3" font-weight="bold" fill="#000" textLength="15.00" lengthAdjust="spacingAndGlyphs" >DN4</text>
<text x="124.10" y="426.40" font-size="7.3" font-weight="bold" fill="#000" text-anchor="end" textLength="14.10" lengthAdjust="spacingAndGlyphs" >DN3</text>
<line x1="81.50" y1="359.20" x2="158.50" y2="359.20" stroke="#000" stroke-width="0.8" />
<path d="M161.00,359.20 L157.40,360.82 L157.40,357.58 Z" fill="#000" stroke="none" stroke-width="1" />
<line x1="38.00" y1="427.60" x2="38.00" y2="428.80" stroke="#666" stroke-width="0.4" />
<line x1="41.00" y1="427.60" x2="41.00" y2="428.80" stroke="#666" stroke-width="0.4" />
<line x1="44.00" y1="427.60" x2="44.00" y2="428.80" stroke="#666" stroke-width="0.4" />
<line x1="47.00" y1="427.60" x2="47.00" y2="428.80" stroke="#666" stroke-width="0.4" />
<line x1="50.00" y1="427.60" x2="50.00" y2="428.80" stroke="#666" stroke-width="0.4" />
<line x1="53.00" y1="427.60" x2="53.00" y2="428.80" stroke="#666" stroke-width="0.4" />
<line x1="56.00" y1="427.60" x2="56.00" y2="428.80" stroke="#666" stroke-width="0.4" />
<line x1="59.00" y1="427.60" x2="59.00" y2="428.80" stroke="#666" stroke-width="0.4" />
<line x1="62.00" y1="427.60" x2="62.00" y2="428.80" stroke="#666" stroke-width="0.4" />
<line x1="65.00" y1="427.60" x2="65.00" y2="428.80" stroke="#666" stroke-width="0.4" />
<line x1="68.00" y1="427.60" x2="68.00" y2="428.80" stroke="#666" stroke-width="0.4" />
<line x1="71.00" y1="427.60" x2="71.00" y2="428.80" stroke="#666" stroke-width="0.4" />
<line x1="74.00" y1="427.60" x2="74.00" y2="428.80" stroke="#666" stroke-width="0.4" />
<line x1="77.00" y1="427.60" x2="77.00" y2="428.80" stroke="#666" stroke-width="0.4" />
<line x1="80.00" y1="427.60" x2="80.00" y2="428.80" stroke="#666" stroke-width="0.4" />
<line x1="83.00" y1="427.60" x2="83.00" y2="428.80" stroke="#666" stroke-width="0.4" />
<line x1="86.00" y1="427.60" x2="86.00" y2="428.80" stroke="#666" stroke-width="0.4" />
<line x1="89.00" y1="427.60" x2="89.00" y2="428.80" stroke="#666" stroke-width="0.4" />
<line x1="92.00" y1="427.60" x2="92.00" y2="428.80" stroke="#666" stroke-width="0.4" />
<line x1="95.00" y1="427.60" x2="95.00" y2="428.80" stroke="#666" stroke-width="0.4" />
<line x1="98.00" y1="427.60" x2="98.00" y2="428.80" stroke="#666" stroke-width="0.4" />
<line x1="101.00" y1="427.60" x2="101.00" y2="428.80" stroke="#666" stroke-width="0.4" />
<line x1="104.00" y1="427.60" x2="104.00" y2="428.80" stroke="#666" stroke-width="0.4" />
<line x1="107.00" y1="427.60" x2="107.00" y2="428.80" stroke="#666" stroke-width="0.4" />
<line x1="110.00" y1="427.60" x2="110.00" y2="428.80" stroke="#666" stroke-width="0.4" />
<line x1="113.00" y1="427.60" x2="113.00" y2="428.80" stroke="#666" stroke-width="0.4" />
<line x1="116.00" y1="427.60" x2="116.00" y2="428.80" stroke="#666" stroke-width="0.4" />
<line x1="119.00" y1="427.60" x2="119.00" y2="428.80" stroke="#666" stroke-width="0.4" />
<line x1="122.00" y1="427.60" x2="122.00" y2="428.80" stroke="#666" stroke-width="0.4" />
<line x1="39.50" y1="427.60" x2="39.50" y2="429.80" stroke="#333" stroke-width="0.5" />
<text x="39.50" y="433.90" font-size="4.0" font-weight="normal" fill="#333" font-style="italic" text-anchor="middle" >-10<tspan baseline-shift="48%" font-size="82%">3</tspan></text>
<line x1="54.00" y1="427.60" x2="54.00" y2="429.80" stroke="#333" stroke-width="0.5" />
<text x="54.00" y="433.90" font-size="4.0" font-weight="normal" fill="#333" font-style="italic" text-anchor="middle" >0</text>
<line x1="73.00" y1="427.60" x2="73.00" y2="429.80" stroke="#333" stroke-width="0.5" />
<text x="73.00" y="433.90" font-size="4.0" font-weight="normal" fill="#333" font-style="italic" text-anchor="middle" >10<tspan baseline-shift="48%" font-size="82%">3</tspan></text>
<line x1="97.00" y1="427.60" x2="97.00" y2="429.80" stroke="#333" stroke-width="0.5" />
<text x="97.00" y="433.90" font-size="4.0" font-weight="normal" fill="#333" font-style="italic" text-anchor="middle" >10<tspan baseline-shift="48%" font-size="82%">4</tspan></text>
<line x1="118.00" y1="427.60" x2="118.00" y2="429.80" stroke="#333" stroke-width="0.5" />
<text x="118.00" y="433.90" font-size="4.0" font-weight="normal" fill="#333" font-style="italic" text-anchor="middle" >10<tspan baseline-shift="48%" font-size="82%">5</tspan></text>
<line x1="35.40" y1="339.00" x2="36.60" y2="339.00" stroke="#666" stroke-width="0.4" />
<line x1="35.40" y1="342.00" x2="36.60" y2="342.00" stroke="#666" stroke-width="0.4" />
<line x1="35.40" y1="345.00" x2="36.60" y2="345.00" stroke="#666" stroke-width="0.4" />
<line x1="35.40" y1="348.00" x2="36.60" y2="348.00" stroke="#666" stroke-width="0.4" />
<line x1="35.40" y1="351.00" x2="36.60" y2="351.00" stroke="#666" stroke-width="0.4" />
<line x1="35.40" y1="354.00" x2="36.60" y2="354.00" stroke="#666" stroke-width="0.4" />
<line x1="35.40" y1="357.00" x2="36.60" y2="357.00" stroke="#666" stroke-width="0.4" />
<line x1="35.40" y1="360.00" x2="36.60" y2="360.00" stroke="#666" stroke-width="0.4" />
<line x1="35.40" y1="363.00" x2="36.60" y2="363.00" stroke="#666" stroke-width="0.4" />
<line x1="35.40" y1="366.00" x2="36.60" y2="366.00" stroke="#666" stroke-width="0.4" />
<line x1="35.40" y1="369.00" x2="36.60" y2="369.00" stroke="#666" stroke-width="0.4" />
<line x1="35.40" y1="372.00" x2="36.60" y2="372.00" stroke="#666" stroke-width="0.4" />
<line x1="35.40" y1="375.00" x2="36.60" y2="375.00" stroke="#666" stroke-width="0.4" />
<line x1="35.40" y1="378.00" x2="36.60" y2="378.00" stroke="#666" stroke-width="0.4" />
<line x1="35.40" y1="381.00" x2="36.60" y2="381.00" stroke="#666" stroke-width="0.4" />
<line x1="35.40" y1="384.00" x2="36.60" y2="384.00" stroke="#666" stroke-width="0.4" />
<line x1="35.40" y1="387.00" x2="36.60" y2="387.00" stroke="#666" stroke-width="0.4" />
<line x1="35.40" y1="390.00" x2="36.60" y2="390.00" stroke="#666" stroke-width="0.4" />
<line x1="35.40" y1="393.00" x2="36.60" y2="393.00" stroke="#666" stroke-width="0.4" />
<line x1="35.40" y1="396.00" x2="36.60" y2="396.00" stroke="#666" stroke-width="0.4" />
<line x1="35.40" y1="399.00" x2="36.60" y2="399.00" stroke="#666" stroke-width="0.4" />
<line x1="35.40" y1="402.00" x2="36.60" y2="402.00" stroke="#666" stroke-width="0.4" />
<line x1="35.40" y1="405.00" x2="36.60" y2="405.00" stroke="#666" stroke-width="0.4" />
<line x1="35.40" y1="408.00" x2="36.60" y2="408.00" stroke="#666" stroke-width="0.4" />
<line x1="35.40" y1="411.00" x2="36.60" y2="411.00" stroke="#666" stroke-width="0.4" />
<line x1="35.40" y1="414.00" x2="36.60" y2="414.00" stroke="#666" stroke-width="0.4" />
<line x1="35.40" y1="417.00" x2="36.60" y2="417.00" stroke="#666" stroke-width="0.4" />
<line x1="35.40" y1="420.00" x2="36.60" y2="420.00" stroke="#666" stroke-width="0.4" />
<line x1="35.40" y1="423.00" x2="36.60" y2="423.00" stroke="#666" stroke-width="0.4" />
<line x1="34.40" y1="345.00" x2="36.60" y2="345.00" stroke="#333" stroke-width="0.5" />
<text x="33.60" y="346.30" font-size="4.0" font-weight="normal" fill="#333" font-style="italic" text-anchor="end" >10<tspan baseline-shift="48%" font-size="82%">5</tspan></text>
<line x1="34.40" y1="364.50" x2="36.60" y2="364.50" stroke="#333" stroke-width="0.5" />
<text x="33.60" y="365.80" font-size="4.0" font-weight="normal" fill="#333" font-style="italic" text-anchor="end" >10<tspan baseline-shift="48%" font-size="82%">4</tspan></text>
<line x1="34.40" y1="387.00" x2="36.60" y2="387.00" stroke="#333" stroke-width="0.5" />
<text x="33.60" y="388.30" font-size="4.0" font-weight="normal" fill="#333" font-style="italic" text-anchor="end" >10<tspan baseline-shift="48%" font-size="82%">3</tspan></text>
<line x1="34.40" y1="400.00" x2="36.60" y2="400.00" stroke="#333" stroke-width="0.5" />
<text x="33.60" y="401.30" font-size="4.0" font-weight="normal" fill="#333" font-style="italic" text-anchor="end" >0</text>
<line x1="34.40" y1="412.00" x2="36.60" y2="412.00" stroke="#333" stroke-width="0.5" />
<text x="33.60" y="413.30" font-size="4.0" font-weight="normal" fill="#333" font-style="italic" text-anchor="end" >-10<tspan baseline-shift="48%" font-size="82%">3</tspan></text>
<rect x="34.50" y="398.50" width="1.80" height="3.00" fill="#111" stroke="none" stroke-width="1" />
<rect x="52.00" y="428.00" width="4.00" height="1.80" fill="#111" stroke="none" stroke-width="1" />
<line x1="21.60" y1="440.80" x2="21.60" y2="415.00" stroke="#222" stroke-width="0.6" />
<path d="M21.60,412.50 L22.95,415.50 L20.25,415.50 Z" fill="#222" stroke="none" stroke-width="1" />
<line x1="21.60" y1="440.80" x2="54.60" y2="440.80" stroke="#222" stroke-width="0.6" />
<path d="M57.10,440.80 L54.10,442.15 L54.10,439.45 Z" fill="#222" stroke="none" stroke-width="1" />
<text x="24.60" y="377.50" font-size="7.6" font-weight="normal" fill="#222" text-anchor="middle" textLength="57.00" lengthAdjust="spacingAndGlyphs" transform="rotate(-90 24.60 377.50)" >#BUV496 – CD44</text>
<text x="61.60" y="444.00" font-size="7.6" font-weight="normal" fill="#222" textLength="63.70" lengthAdjust="spacingAndGlyphs" >#APC-R700 – CD25</text>
<text x="219.00" y="332.80" font-size="8.2" font-weight="bold" fill="#000" textLength="31.50" lengthAdjust="spacingAndGlyphs" >LSK gate</text>
<rect x="187.60" y="336.80" width="89.80" height="89.60" fill="#fff" stroke="#cfcfcf" stroke-width="1.6" />
<path d="M205.7 395.8h0.15M216.3 379.6h0.15M210.2 375.3h0.15M210.1 364.3h0.15M210.0 370.5h0.15M211.7 380.6h0.15M212.5 379.4h0.15M207.6 389.5h0.15M203.3 373.5h0.15M210.9 365.4h0.15M214.8 358.3h0.15M207.1 365.7h0.15M211.1 382.0h0.15M210.3 380.4h0.15M208.3 364.4h0.15M210.4 355.1h0.15M210.5 367.1h0.15M211.8 359.3h0.15M208.7 364.9h0.15M209.1 359.5h0.15M209.4 355.1h0.15M211.4 380.5h0.15M210.0 369.7h0.15M207.8 360.0h0.15M209.5 360.7h0.15M207.1 374.1h0.15M210.0 366.9h0.15M208.0 371.4h0.15M208.3 366.6h0.15M210.5 381.1h0.15M212.0 364.4h0.15M213.1 357.5h0.15M209.6 388.4h0.15M216.0 373.7h0.15M209.1 367.3h0.15M207.0 370.2h0.15M209.0 362.6h0.15M213.1 362.3h0.15M214.3 382.6h0.15M211.7 364.7h0.15M208.8 347.0h0.15M210.7 368.6h0.15M211.0 363.6h0.15M211.3 353.2h0.15M204.5 378.0h0.15M213.3 367.6h0.15M209.6 352.7h0.15M207.5 381.0h0.15M208.2 371.6h0.15M209.7 397.0h0.15M212.3 355.5h0.15M208.8 357.6h0.15M206.5 363.5h0.15M212.8 372.6h0.15M211.7 370.3h0.15M209.0 373.1h0.15M209.8 396.2h0.15M214.6 376.8h0.15M211.6 347.0h0.15M209.7 402.1h0.15M208.0 382.3h0.15M213.1 367.0h0.15M209.5 366.3h0.15M212.0 372.3h0.15M213.8 386.9h0.15M210.0 404.7h0.15M209.3 364.4h0.15M209.4 361.0h0.15M209.0 371.1h0.15M212.3 352.2h0.15M206.5 362.3h0.15M209.3 377.7h0.15M208.1 391.0h0.15M208.7 369.3h0.15M210.2 386.7h0.15M210.8 372.4h0.15M208.7 374.2h0.15M211.0 367.6h0.15M210.0 348.9h0.15M208.7 386.9h0.15M213.6 371.1h0.15M204.6 395.1h0.15M209.6 404.4h0.15M209.0 384.6h0.15M208.5 389.3h0.15M212.9 358.6h0.15M213.3 408.0h0.15M209.5 356.8h0.15M210.7 367.0h0.15M206.3 358.8h0.15M210.6 352.8h0.15M212.7 377.7h0.15M209.6 389.7h0.15M207.7 380.7h0.15M206.6 367.9h0.15M211.6 365.3h0.15M209.7 380.2h0.15M213.8 388.4h0.15M211.2 368.7h0.15M206.4 393.7h0.15M214.7 344.8h0.15M212.2 371.5h0.15M211.8 376.0h0.15M209.5 372.0h0.15M209.9 386.7h0.15M209.4 365.1h0.15M211.7 380.1h0.15M211.1 375.6h0.15M213.7 386.1h0.15M210.6 369.4h0.15M211.7 348.4h0.15M208.7 363.1h0.15M210.5 367.2h0.15M216.2 381.3h0.15M211.0 400.4h0.15M210.0 368.0h0.15M213.1 382.5h0.15M212.3 387.3h0.15M209.1 363.7h0.15M208.2 373.3h0.15M212.5 358.7h0.15M208.7 355.1h0.15M215.0 382.1h0.15M210.6 356.6h0.15M207.4 363.8h0.15M210.1 356.0h0.15M209.5 387.4h0.15M210.1 373.3h0.15M204.8 368.6h0.15M209.7 363.3h0.15M206.6 371.1h0.15M207.5 365.1h0.15M206.0 370.8h0.15M212.3 361.4h0.15M210.8 352.8h0.15M211.5 378.9h0.15M209.1 383.2h0.15M207.8 372.6h0.15M214.2 371.7h0.15M207.2 386.6h0.15" fill="none" stroke="#d4d4d4" stroke-width="0.5" stroke-linecap="round" opacity="1.0"/>
<path d="M210.8 404.9h0.18M204.0 401.1h0.18M204.8 409.0h0.18M210.1 403.5h0.18M212.5 408.9h0.18M206.8 406.6h0.18M204.5 406.4h0.18M214.5 402.2h0.18M209.4 404.0h0.18M209.0 405.7h0.18M210.0 407.6h0.18M210.7 407.9h0.18M212.2 408.1h0.18M207.3 406.5h0.18M208.2 403.5h0.18M214.9 406.2h0.18M209.4 400.6h0.18M208.6 407.3h0.18M208.6 404.2h0.18M213.5 404.8h0.18M208.3 405.3h0.18M208.5 408.0h0.18M210.9 405.3h0.18M208.2 405.0h0.18M214.1 404.8h0.18M211.1 401.8h0.18M210.2 407.1h0.18M212.9 406.2h0.18M210.9 406.3h0.18M212.3 410.3h0.18M209.8 403.6h0.18M210.9 405.2h0.18M211.1 407.3h0.18M209.7 404.5h0.18M210.1 402.6h0.18M210.0 403.4h0.18M210.5 405.8h0.18M208.6 402.7h0.18M209.4 403.9h0.18M208.8 407.1h0.18M212.0 402.5h0.18M211.9 408.7h0.18M212.5 406.1h0.18M209.0 409.6h0.18M208.3 401.9h0.18M209.5 406.2h0.18M206.3 402.7h0.18M214.9 405.8h0.18M211.5 404.1h0.18M204.9 405.1h0.18M213.1 403.9h0.18M204.1 405.1h0.18M208.4 405.5h0.18M206.2 404.8h0.18M207.7 407.6h0.18M209.7 407.5h0.18M209.1 400.5h0.18M203.6 406.8h0.18M211.7 407.6h0.18M209.0 401.3h0.18M207.8 406.4h0.18M213.2 404.7h0.18M207.6 403.7h0.18M212.2 407.5h0.18M204.0 408.3h0.18M206.6 402.1h0.18M204.7 403.8h0.18M215.9 411.5h0.18M205.7 403.9h0.18M209.7 406.5h0.18M207.9 401.8h0.18M208.0 403.9h0.18M204.1 405.8h0.18M205.0 401.4h0.18M213.6 407.7h0.18M213.4 405.8h0.18M208.0 405.3h0.18M205.3 407.2h0.18M210.0 404.8h0.18M203.9 405.2h0.18M213.9 408.9h0.18M211.7 404.7h0.18M209.6 406.8h0.18M209.8 408.0h0.18M207.3 400.1h0.18M202.3 403.4h0.18M205.3 407.1h0.18M212.3 405.5h0.18M210.8 405.7h0.18M209.7 404.4h0.18M208.1 408.3h0.18M208.5 405.4h0.18M212.7 407.8h0.18M208.1 406.1h0.18M206.3 405.8h0.18M210.1 405.5h0.18M209.7 406.4h0.18M202.0 403.6h0.18M209.5 404.3h0.18M206.5 404.9h0.18M213.9 405.0h0.18M207.4 404.4h0.18M205.8 406.6h0.18M206.4 407.6h0.18M211.8 406.8h0.18M212.2 405.3h0.18M204.2 405.3h0.18M211.1 401.9h0.18M205.7 408.1h0.18M210.5 408.7h0.18M211.2 405.7h0.18M210.5 407.5h0.18M209.2 405.0h0.18M210.1 404.8h0.18M216.2 403.7h0.18M204.9 402.5h0.18M212.2 404.6h0.18M209.7 405.0h0.18M210.0 402.1h0.18M209.5 404.2h0.18M212.4 407.0h0.18M205.6 403.2h0.18M210.9 408.3h0.18M211.4 405.1h0.18M212.4 400.0h0.18M207.7 403.2h0.18M206.3 406.8h0.18M210.0 406.2h0.18M208.9 407.0h0.18M211.5 404.2h0.18M211.9 403.3h0.18M214.3 402.4h0.18M208.4 403.0h0.18M209.4 408.6h0.18M207.1 409.7h0.18M213.3 406.4h0.18M207.5 407.6h0.18M201.0 403.7h0.18M212.0 405.4h0.18M216.4 403.9h0.18M205.4 405.0h0.18M210.9 409.5h0.18M204.1 405.9h0.18M212.9 403.9h0.18M207.9 402.7h0.18M211.5 407.5h0.18M210.9 406.1h0.18M212.1 405.2h0.18M211.3 407.4h0.18M213.0 406.7h0.18M209.5 407.2h0.18M204.7 401.4h0.18M213.9 405.8h0.18M206.2 404.1h0.18M208.8 405.7h0.18M207.0 407.8h0.18M204.3 412.1h0.18M206.1 409.4h0.18M211.2 401.5h0.18M205.7 405.6h0.18" fill="none" stroke="#cdcdcd" stroke-width="0.6" stroke-linecap="round" opacity="1.0"/>
<ellipse cx="209" cy="405.7" rx="3" ry="2" fill="#c8c8c8" filter="url(#bl08)"/>
<path d="M226.9 360.3h0.15M225.6 362.6h0.15M220.0 362.2h0.15M236.6 359.5h0.15M220.6 364.6h0.15M232.1 366.1h0.15M222.5 361.7h0.15M226.6 361.2h0.15M227.5 366.3h0.15M228.2 362.0h0.15M224.6 369.0h0.15M219.6 369.9h0.15M229.2 362.3h0.15M221.9 369.2h0.15M231.5 365.6h0.15M235.7 354.9h0.15M226.1 360.8h0.15M222.0 362.3h0.15M228.2 364.1h0.15M224.9 356.8h0.15M228.3 364.4h0.15M235.9 365.7h0.15M225.6 357.5h0.15M238.9 359.3h0.15M226.5 365.0h0.15M228.0 367.2h0.15M220.5 359.3h0.15M226.4 357.1h0.15M222.6 367.5h0.15M227.0 361.6h0.15M222.8 362.2h0.15M225.4 357.7h0.15M229.4 357.0h0.15M231.9 360.7h0.15M227.0 358.6h0.15M234.5 367.5h0.15M235.9 365.5h0.15M232.2 359.6h0.15M232.0 360.3h0.15M225.3 356.6h0.15M225.8 363.6h0.15M225.3 357.6h0.15M230.0 365.6h0.15M225.1 365.1h0.15M230.4 358.1h0.15M225.4 354.6h0.15M220.4 363.7h0.15M221.2 363.6h0.15M227.4 353.8h0.15M223.2 368.0h0.15M225.6 362.5h0.15M222.1 355.6h0.15M224.6 358.5h0.15M226.1 354.3h0.15M232.5 368.8h0.15M221.8 363.3h0.15M221.1 365.4h0.15M221.4 361.4h0.15M232.1 364.1h0.15M223.9 356.0h0.15M228.1 362.2h0.15M231.8 362.6h0.15M221.9 361.6h0.15M225.1 361.9h0.15M238.0 364.3h0.15M226.9 361.0h0.15M222.2 358.0h0.15M220.9 353.9h0.15M232.4 367.0h0.15M220.7 370.2h0.15M228.9 351.9h0.15M225.7 358.0h0.15M231.3 363.8h0.15M221.8 366.6h0.15M225.1 358.1h0.15M221.0 354.1h0.15M221.3 365.6h0.15M225.0 365.3h0.15M219.8 365.6h0.15M233.3 371.1h0.15M224.5 362.5h0.15M220.6 365.4h0.15M237.3 368.0h0.15M220.8 359.7h0.15M229.2 362.5h0.15M221.7 366.9h0.15M228.1 366.1h0.15M224.7 367.1h0.15M223.2 357.5h0.15M225.5 356.4h0.15M231.8 364.9h0.15M229.8 360.6h0.15M227.6 359.7h0.15M225.2 361.7h0.15M228.0 358.1h0.15M219.9 363.3h0.15M223.0 364.1h0.15M223.0 356.7h0.15M229.2 363.1h0.15M229.2 360.6h0.15M223.7 367.1h0.15M228.1 361.8h0.15M226.0 364.4h0.15M221.7 363.1h0.15M220.7 354.6h0.15M226.5 362.4h0.15M228.8 364.2h0.15M229.0 365.2h0.15M220.2 366.9h0.15M239.0 359.7h0.15M230.1 366.1h0.15M233.2 356.4h0.15M227.4 363.9h0.15M231.8 358.4h0.15M225.6 360.5h0.15M224.7 361.4h0.15M224.8 354.9h0.15M225.3 362.3h0.15M223.6 347.8h0.15M222.0 359.4h0.15M221.1 368.4h0.15M230.2 361.3h0.15M228.5 375.2h0.15M220.6 363.9h0.15M222.5 368.0h0.15M231.1 361.5h0.15M228.6 358.8h0.15M233.7 360.8h0.15M222.9 354.8h0.15M236.3 357.2h0.15M220.6 361.2h0.15M231.6 362.2h0.15M225.4 362.1h0.15M229.8 361.9h0.15M226.3 361.7h0.15M219.9 367.4h0.15M222.0 356.7h0.15M223.3 362.1h0.15M229.6 356.1h0.15M227.4 357.6h0.15M219.8 362.7h0.15M224.8 355.5h0.15M221.1 368.0h0.15M220.2 366.2h0.15M233.6 359.5h0.15M222.1 364.5h0.15M231.6 363.1h0.15M227.1 361.4h0.15M230.6 358.7h0.15M233.5 361.9h0.15M223.9 355.4h0.15M223.3 363.0h0.15M231.8 355.5h0.15M224.9 359.2h0.15M221.7 365.5h0.15M228.1 360.6h0.15M226.2 358.1h0.15M220.2 359.0h0.15M225.2 358.6h0.15M223.4 358.5h0.15M226.7 357.4h0.15M225.4 362.4h0.15M230.3 359.0h0.15M219.8 356.0h0.15M229.3 359.5h0.15M230.5 361.7h0.15M224.1 354.5h0.15M222.1 365.2h0.15M222.4 364.7h0.15M239.5 366.5h0.15M227.1 357.0h0.15M222.9 359.4h0.15M226.4 353.9h0.15M221.2 365.2h0.15M226.2 365.0h0.15M229.8 357.4h0.15M225.7 362.3h0.15M221.4 366.1h0.15M228.0 366.6h0.15M223.7 364.8h0.15M225.2 358.2h0.15M225.1 355.4h0.15M224.6 362.7h0.15M229.0 357.8h0.15M238.6 362.6h0.15M221.7 359.3h0.15M234.4 357.3h0.15M224.9 361.7h0.15M221.8 359.1h0.15M232.0 367.7h0.15M224.1 364.8h0.15M227.8 362.4h0.15M224.8 366.9h0.15M228.4 361.1h0.15M224.3 365.7h0.15M222.5 359.1h0.15M224.1 360.0h0.15M231.8 363.4h0.15M225.1 359.9h0.15M232.6 363.8h0.15M235.9 365.6h0.15M224.4 359.8h0.15M224.1 362.7h0.15M229.5 364.0h0.15M233.4 355.9h0.15M225.6 356.3h0.15M220.3 359.6h0.15M222.2 358.1h0.15M223.9 365.9h0.15M220.0 352.7h0.15M222.5 365.5h0.15M222.7 363.6h0.15M220.1 367.6h0.15M227.7 366.2h0.15M224.1 367.1h0.15M225.9 360.0h0.15M222.3 362.2h0.15M220.9 357.2h0.15M226.2 364.8h0.15M224.0 365.4h0.15M243.2 389.7h0.15M240.6 373.4h0.15M231.9 366.8h0.15M232.0 392.3h0.15M222.4 373.4h0.15M225.1 388.7h0.15M227.8 376.6h0.15M221.4 383.5h0.15M233.4 387.2h0.15M238.8 385.3h0.15M226.8 368.5h0.15M235.5 361.7h0.15M244.4 384.5h0.15M232.8 372.3h0.15M222.0 378.9h0.15M240.1 364.0h0.15M222.6 383.3h0.15M232.2 386.9h0.15M230.7 393.4h0.15M242.7 370.9h0.15M233.9 380.0h0.15M231.7 387.8h0.15M238.3 387.8h0.15M226.6 377.2h0.15M234.1 379.8h0.15M220.4 387.6h0.15M231.6 365.4h0.15M242.2 378.9h0.15M239.2 385.2h0.15M236.2 391.1h0.15M221.5 371.3h0.15M224.3 381.6h0.15M225.7 361.0h0.15M223.5 365.9h0.15M234.0 375.5h0.15M232.1 360.4h0.15M233.7 368.6h0.15M222.4 361.9h0.15M223.9 373.6h0.15M224.3 375.8h0.15M224.3 385.0h0.15M242.8 371.0h0.15M221.9 392.8h0.15M222.2 382.1h0.15M239.7 376.4h0.15M243.2 365.0h0.15M238.7 390.8h0.15M243.3 388.9h0.15M231.3 377.4h0.15M242.1 372.9h0.15" fill="none" stroke="#5cd65c" stroke-width="0.5" stroke-linecap="round" opacity="0.85"/>
<path d="M250.5 380.1h0.15M250.9 382.5h0.15M252.7 374.9h0.15M245.9 396.4h0.15M249.4 369.5h0.15M252.6 383.0h0.15M243.9 388.9h0.15M250.4 380.6h0.15M251.4 376.0h0.15M251.4 366.9h0.15M249.4 393.7h0.15M243.3 388.5h0.15M244.2 370.7h0.15M253.0 374.5h0.15M248.9 365.2h0.15M250.2 376.5h0.15M248.7 364.7h0.15M250.9 381.6h0.15M253.7 382.4h0.15M254.8 388.2h0.15M242.6 392.2h0.15M250.2 369.1h0.15M251.7 386.2h0.15M246.1 367.5h0.15M252.4 373.3h0.15M254.6 379.8h0.15M249.0 366.7h0.15M252.2 363.3h0.15M246.8 366.8h0.15M255.3 392.5h0.15M249.9 374.7h0.15M252.5 388.6h0.15M249.9 387.6h0.15M243.9 377.5h0.15M248.5 394.9h0.15M249.9 367.1h0.15M256.0 372.1h0.15M250.5 367.3h0.15M252.4 379.6h0.15M249.7 374.6h0.15M248.9 371.9h0.15M246.5 388.3h0.15M253.0 366.1h0.15M247.2 381.5h0.15M256.9 376.2h0.15M249.6 375.8h0.15M251.2 376.5h0.15M253.5 386.4h0.15M252.0 391.4h0.15M249.8 373.3h0.15M258.9 361.5h0.15M246.1 357.9h0.15M251.5 368.9h0.15M253.5 360.1h0.15M250.1 374.6h0.15M247.5 387.5h0.15M249.4 381.8h0.15M249.0 379.3h0.15M249.2 378.6h0.15M250.2 372.2h0.15M251.7 376.4h0.15M247.8 369.0h0.15M251.7 389.3h0.15M246.8 374.4h0.15M251.8 386.9h0.15M252.5 367.9h0.15M250.6 385.7h0.15M251.2 376.1h0.15M247.2 379.4h0.15M250.3 378.3h0.15M254.7 388.1h0.15M248.3 380.0h0.15M249.6 378.8h0.15M255.1 385.8h0.15M250.6 372.4h0.15M250.0 381.1h0.15M249.1 387.4h0.15M250.6 367.9h0.15M256.3 353.2h0.15M249.7 377.0h0.15M253.3 387.5h0.15M254.6 391.3h0.15M251.4 379.0h0.15M253.4 377.8h0.15M247.0 374.1h0.15M252.4 383.2h0.15M247.4 388.2h0.15M251.4 365.2h0.15M251.8 386.6h0.15M252.0 375.3h0.15M248.2 387.6h0.15M251.1 377.9h0.15M249.4 369.2h0.15M245.2 375.1h0.15M253.6 384.5h0.15M248.6 391.0h0.15M249.9 369.4h0.15M253.2 389.8h0.15M249.4 367.6h0.15M250.3 357.3h0.15M250.6 391.0h0.15M251.3 371.7h0.15M252.5 373.8h0.15M254.1 374.9h0.15M256.2 375.0h0.15M251.0 370.0h0.15M246.9 380.9h0.15M251.5 369.7h0.15M252.1 374.5h0.15M248.9 377.4h0.15M251.6 384.2h0.15M254.0 381.2h0.15M248.5 372.2h0.15M251.5 367.8h0.15M250.0 374.7h0.15M250.2 379.5h0.15M253.4 392.0h0.15M253.0 386.6h0.15M247.5 386.8h0.15M254.1 366.4h0.15M257.6 373.2h0.15M243.8 393.0h0.15M250.7 371.2h0.15M248.9 387.1h0.15M251.2 374.8h0.15M253.7 370.0h0.15M248.1 373.2h0.15M248.4 383.9h0.15M249.9 369.0h0.15M249.2 361.1h0.15M251.0 378.9h0.15M252.2 376.0h0.15M251.6 370.0h0.15M250.6 379.3h0.15M247.1 383.0h0.15M250.9 378.4h0.15M249.2 395.1h0.15M250.5 371.5h0.15M248.1 383.0h0.15M249.9 371.3h0.15M248.5 385.9h0.15M250.7 387.0h0.15M250.5 367.9h0.15M252.9 380.7h0.15M248.7 375.4h0.15M247.8 385.1h0.15M249.3 382.1h0.15M251.2 375.8h0.15M251.5 375.9h0.15M247.2 374.5h0.15M247.2 384.4h0.15M252.3 373.0h0.15M252.2 380.1h0.15M253.2 370.1h0.15M250.6 369.6h0.15M248.6 389.6h0.15M244.9 370.2h0.15M251.9 384.6h0.15M248.3 360.7h0.15M245.7 381.1h0.15M253.6 385.7h0.15M248.4 389.5h0.15M250.0 383.2h0.15M250.0 391.5h0.15M249.0 359.7h0.15M249.6 379.6h0.15M251.3 371.9h0.15M249.9 368.3h0.15M249.8 378.7h0.15M251.2 392.0h0.15M244.9 382.4h0.15M251.7 368.2h0.15M250.7 377.9h0.15M247.7 384.1h0.15M255.8 383.7h0.15M252.7 387.1h0.15M250.1 386.3h0.15M248.2 379.5h0.15M252.5 389.1h0.15M249.7 375.5h0.15M251.8 377.3h0.15M250.9 384.8h0.15M248.4 385.4h0.15M251.6 375.8h0.15M247.0 372.7h0.15M250.4 386.0h0.15M245.0 384.0h0.15M251.0 368.4h0.15M252.9 381.4h0.15M251.7 369.7h0.15M247.4 385.7h0.15M254.4 381.1h0.15M250.0 374.2h0.15M245.7 386.3h0.15M250.2 388.4h0.15M248.5 386.9h0.15M248.5 382.9h0.15M254.3 372.0h0.15M253.0 377.9h0.15M247.9 379.7h0.15M252.3 372.0h0.15M249.8 373.2h0.15M248.4 376.2h0.15M252.8 373.8h0.15M254.0 374.8h0.15M248.6 387.0h0.15M254.4 372.5h0.15M252.1 368.2h0.15M249.4 374.8h0.15M252.5 367.4h0.15M249.1 372.2h0.15M250.8 367.6h0.15M251.1 365.3h0.15M252.8 366.9h0.15M245.3 392.0h0.15M254.0 370.9h0.15M247.5 382.0h0.15M256.1 383.0h0.15M252.3 368.0h0.15M245.6 381.3h0.15M253.3 379.1h0.15M250.5 389.6h0.15M248.2 387.2h0.15M252.8 372.7h0.15M250.8 378.9h0.15M252.1 369.8h0.15M249.9 378.8h0.15M250.6 378.2h0.15M251.2 376.4h0.15M249.1 386.7h0.15M248.7 375.3h0.15M248.1 368.4h0.15M251.7 377.6h0.15M250.1 381.8h0.15M250.0 383.7h0.15M255.5 380.9h0.15M249.8 391.9h0.15M252.4 364.0h0.15M254.2 379.8h0.15M252.9 368.3h0.15M248.2 372.6h0.15M252.0 368.6h0.15M248.5 386.0h0.15M248.7 379.0h0.15M248.0 363.7h0.15M250.3 377.0h0.15M246.6 386.1h0.15M252.8 385.4h0.15M249.1 368.4h0.15M250.2 379.4h0.15M250.0 373.1h0.15M247.8 371.8h0.15M250.3 373.9h0.15M255.1 375.7h0.15M251.7 374.1h0.15M250.0 369.9h0.15M249.2 365.5h0.15M244.8 389.2h0.15M247.6 381.6h0.15M250.2 373.2h0.15M252.5 373.3h0.15M251.7 374.9h0.15M253.2 386.0h0.15M250.7 387.1h0.15M251.9 391.0h0.15M250.2 365.1h0.15M251.1 380.0h0.15M249.5 376.3h0.15M249.8 367.5h0.15M255.2 371.5h0.15M247.6 364.8h0.15M248.2 377.7h0.15M254.5 383.0h0.15M248.5 367.6h0.15M247.4 377.3h0.15M252.9 374.0h0.15M254.9 394.1h0.15M250.9 360.0h0.15M253.5 377.2h0.15M252.3 386.2h0.15M247.7 378.5h0.15M251.0 371.7h0.15M252.4 376.9h0.15M249.4 393.6h0.15M251.0 391.6h0.15M250.1 386.6h0.15M248.4 379.2h0.15M253.5 359.9h0.15M252.0 375.7h0.15M253.5 379.5h0.15M250.3 367.3h0.15M258.5 371.8h0.15M249.6 372.0h0.15M249.7 379.8h0.15M246.8 386.8h0.15M249.8 383.0h0.15M244.7 373.6h0.15M249.7 374.7h0.15M248.7 380.6h0.15M251.6 369.8h0.15M245.1 384.0h0.15M249.6 386.9h0.15M252.9 377.1h0.15M246.6 375.0h0.15M248.5 388.3h0.15M245.8 385.6h0.15M246.3 373.2h0.15M246.6 372.2h0.15M249.3 381.1h0.15M248.9 383.7h0.15M255.3 379.3h0.15M247.3 376.5h0.15M250.2 375.0h0.15M253.6 387.6h0.15M256.0 382.3h0.15M243.2 376.9h0.15M252.3 371.3h0.15M248.8 385.5h0.15M250.9 368.6h0.15M248.9 352.3h0.15M250.5 367.8h0.15M250.3 368.1h0.15M247.9 373.7h0.15M258.1 368.1h0.15M247.2 373.5h0.15M253.4 384.6h0.15M252.4 375.3h0.15M250.8 371.6h0.15M250.0 371.3h0.15M246.5 369.7h0.15M255.8 381.3h0.15M248.4 377.1h0.15M249.2 388.1h0.15M250.4 372.7h0.15M252.3 380.6h0.15M248.6 371.5h0.15M250.9 364.3h0.15M248.0 386.4h0.15M252.8 387.2h0.15M249.3 373.0h0.15M249.7 374.0h0.15M254.0 376.1h0.15M254.2 372.1h0.15M251.5 391.5h0.15M248.4 372.5h0.15M248.8 364.6h0.15M249.7 372.6h0.15M256.5 374.0h0.15M244.6 385.8h0.15M253.1 377.7h0.15M251.3 383.9h0.15M248.9 378.3h0.15M250.9 391.8h0.15M254.3 379.4h0.15M246.8 385.3h0.15M250.3 387.7h0.15M250.6 379.5h0.15M252.3 371.9h0.15M248.1 385.7h0.15M252.3 384.8h0.15M254.2 366.8h0.15M253.1 360.8h0.15M250.6 380.8h0.15M253.3 387.0h0.15M247.9 375.7h0.15M250.0 372.2h0.15M248.2 372.5h0.15M253.6 389.3h0.15M252.5 392.0h0.15M250.7 368.9h0.15M248.7 379.7h0.15M253.3 388.1h0.15M248.0 385.9h0.15M249.0 382.9h0.15M253.0 390.3h0.15M249.0 380.0h0.15M251.6 374.5h0.15M250.7 382.9h0.15M246.0 372.6h0.15M256.8 381.7h0.15M248.9 362.7h0.15M247.9 382.3h0.15M252.3 381.7h0.15M252.1 373.0h0.15M254.8 368.6h0.15M251.9 375.8h0.15M245.8 385.5h0.15M249.7 383.9h0.15M253.9 379.4h0.15M248.7 376.2h0.15M250.3 390.0h0.15M252.8 391.2h0.15M252.5 371.6h0.15M253.0 386.1h0.15M250.1 381.8h0.15M249.6 367.5h0.15M250.2 384.3h0.15M249.5 359.3h0.15M248.3 387.1h0.15M251.1 387.3h0.15M248.4 374.5h0.15M247.7 371.5h0.15M251.9 379.2h0.15M249.1 380.5h0.15M246.9 374.7h0.15M246.4 365.5h0.15M246.8 368.8h0.15M254.8 389.5h0.15M253.9 373.1h0.15M252.2 368.5h0.15M249.0 380.0h0.15M246.1 379.6h0.15M252.1 360.7h0.15M243.8 375.7h0.15M250.1 379.2h0.15M247.4 382.7h0.15M250.8 371.9h0.15M254.9 380.2h0.15M252.5 393.5h0.15M249.1 376.1h0.15M245.7 376.1h0.15M252.0 379.7h0.15M247.0 370.9h0.15M245.4 366.5h0.15M250.8 380.5h0.15M248.0 376.2h0.15M248.3 383.2h0.15M252.2 373.3h0.15M249.2 367.7h0.15M249.2 396.3h0.15M250.4 385.2h0.15M252.0 390.4h0.15M249.6 370.4h0.15M253.3 385.7h0.15M248.7 387.2h0.15M250.4 377.6h0.15M255.5 382.4h0.15M251.3 375.3h0.15M251.0 386.8h0.15M251.7 371.7h0.15M251.7 377.0h0.15M251.3 376.4h0.15M244.5 364.4h0.15M249.4 359.5h0.15M246.3 395.0h0.15M252.3 374.1h0.15M251.3 359.2h0.15M251.1 386.3h0.15M251.0 367.0h0.15M253.1 373.5h0.15M248.9 379.7h0.15M249.6 395.1h0.15M250.1 396.0h0.15M251.7 367.6h0.15M250.5 378.4h0.15M254.4 388.8h0.15M257.4 372.4h0.15M248.0 381.0h0.15M254.9 369.5h0.15M249.5 371.7h0.15M251.9 381.4h0.15M250.3 383.5h0.15M248.3 374.8h0.15M251.7 395.0h0.15M250.3 378.5h0.15M254.0 378.6h0.15M254.0 380.0h0.15M253.6 379.5h0.15M247.9 370.8h0.15M251.6 393.9h0.15M255.6 375.3h0.15M257.3 368.6h0.15M248.1 385.9h0.15M246.3 385.7h0.15M251.5 383.3h0.15M247.2 381.2h0.15M253.0 377.6h0.15M253.3 378.2h0.15M251.4 375.3h0.15M246.7 376.7h0.15M254.9 378.5h0.15M247.4 394.8h0.15M259.1 384.7h0.15M238.8 386.9h0.15M251.4 387.7h0.15M249.6 380.0h0.15M250.9 379.1h0.15M235.4 372.6h0.15M245.7 374.4h0.15M237.0 377.7h0.15M239.9 380.8h0.15M259.2 383.7h0.15M245.6 380.4h0.15M245.5 391.2h0.15M244.7 383.3h0.15M239.2 374.8h0.15M234.8 372.3h0.15M237.1 371.1h0.15M241.3 384.9h0.15M231.7 389.7h0.15M242.5 386.2h0.15M241.8 390.7h0.15M249.7 373.1h0.15M245.6 376.9h0.15M251.9 379.6h0.15" fill="none" stroke="#f8a040" stroke-width="0.5" stroke-linecap="round" opacity="0.9"/>
<path d="M231.0 400.3h0.15M261.4 401.2h0.15M232.1 409.3h0.15M224.0 404.1h0.15M239.3 406.8h0.15M253.3 409.7h0.15M234.7 400.8h0.15M230.6 400.0h0.15M232.8 406.2h0.15M257.8 401.0h0.15M232.7 408.9h0.15M245.5 404.0h0.15M224.9 400.6h0.15M230.7 406.2h0.15M224.3 405.0h0.15M254.7 400.0h0.15M233.5 404.1h0.15M246.4 407.4h0.15M249.1 404.3h0.15M235.5 406.3h0.15M240.4 409.3h0.15M243.2 405.9h0.15M248.6 404.8h0.15M241.7 406.6h0.15M246.0 410.0h0.15" fill="none" stroke="#f0a0a0" stroke-width="0.5" stroke-linecap="round" opacity="1.0"/>
<rect x="218.70" y="339.50" width="57.70" height="57.90" fill="none" stroke="#6b4016" stroke-width="1.3" />
<rect x="218.70" y="398.20" width="57.70" height="26.00" fill="none" stroke="#c0282d" stroke-width="1.3" />
<text x="227.40" y="344.60" font-size="5.4" font-weight="bold" fill="#222" textLength="47.50" lengthAdjust="spacingAndGlyphs" >(Lin<tspan baseline-shift="super" font-size="70%">-</tspan> Sca-1<tspan baseline-shift="super" font-size="70%">+</tspan> c-Kit<tspan baseline-shift="super" font-size="70%">+</tspan>)</text>
<text x="246.90" y="352.60" font-size="5.6" font-weight="bold" fill="#222" textLength="9.00" lengthAdjust="spacingAndGlyphs" >LSK</text>
<text x="261.00" y="393.00" font-size="5.4" font-weight="bold" fill="#222" textLength="9.50" lengthAdjust="spacingAndGlyphs" >55%</text>
<text x="260.30" y="411.80" font-size="5.4" font-weight="bold" fill="#222" textLength="13.90" lengthAdjust="spacingAndGlyphs" >8.38%</text>
<text x="229.60" y="420.20" font-size="5.4" font-weight="bold" fill="#222" textLength="43.80" lengthAdjust="spacingAndGlyphs" >Lin<tspan baseline-shift="super" font-size="70%">-</tspan> Sca-1<tspan baseline-shift="super" font-size="70%">-</tspan> c-Kit<tspan baseline-shift="super" font-size="70%">+</tspan></text>
<line x1="189.00" y1="426.40" x2="189.00" y2="427.60" stroke="#666" stroke-width="0.4" />
<line x1="192.00" y1="426.40" x2="192.00" y2="427.60" stroke="#666" stroke-width="0.4" />
<line x1="195.00" y1="426.40" x2="195.00" y2="427.60" stroke="#666" stroke-width="0.4" />
<line x1="198.00" y1="426.40" x2="198.00" y2="427.60" stroke="#666" stroke-width="0.4" />
<line x1="201.00" y1="426.40" x2="201.00" y2="427.60" stroke="#666" stroke-width="0.4" />
<line x1="204.00" y1="426.40" x2="204.00" y2="427.60" stroke="#666" stroke-width="0.4" />
<line x1="207.00" y1="426.40" x2="207.00" y2="427.60" stroke="#666" stroke-width="0.4" />
<line x1="210.00" y1="426.40" x2="210.00" y2="427.60" stroke="#666" stroke-width="0.4" />
<line x1="213.00" y1="426.40" x2="213.00" y2="427.60" stroke="#666" stroke-width="0.4" />
<line x1="216.00" y1="426.40" x2="216.00" y2="427.60" stroke="#666" stroke-width="0.4" />
<line x1="219.00" y1="426.40" x2="219.00" y2="427.60" stroke="#666" stroke-width="0.4" />
<line x1="222.00" y1="426.40" x2="222.00" y2="427.60" stroke="#666" stroke-width="0.4" />
<line x1="225.00" y1="426.40" x2="225.00" y2="427.60" stroke="#666" stroke-width="0.4" />
<line x1="228.00" y1="426.40" x2="228.00" y2="427.60" stroke="#666" stroke-width="0.4" />
<line x1="231.00" y1="426.40" x2="231.00" y2="427.60" stroke="#666" stroke-width="0.4" />
<line x1="234.00" y1="426.40" x2="234.00" y2="427.60" stroke="#666" stroke-width="0.4" />
<line x1="237.00" y1="426.40" x2="237.00" y2="427.60" stroke="#666" stroke-width="0.4" />
<line x1="240.00" y1="426.40" x2="240.00" y2="427.60" stroke="#666" stroke-width="0.4" />
<line x1="243.00" y1="426.40" x2="243.00" y2="427.60" stroke="#666" stroke-width="0.4" />
<line x1="246.00" y1="426.40" x2="246.00" y2="427.60" stroke="#666" stroke-width="0.4" />
<line x1="249.00" y1="426.40" x2="249.00" y2="427.60" stroke="#666" stroke-width="0.4" />
<line x1="252.00" y1="426.40" x2="252.00" y2="427.60" stroke="#666" stroke-width="0.4" />
<line x1="255.00" y1="426.40" x2="255.00" y2="427.60" stroke="#666" stroke-width="0.4" />
<line x1="258.00" y1="426.40" x2="258.00" y2="427.60" stroke="#666" stroke-width="0.4" />
<line x1="261.00" y1="426.40" x2="261.00" y2="427.60" stroke="#666" stroke-width="0.4" />
<line x1="264.00" y1="426.40" x2="264.00" y2="427.60" stroke="#666" stroke-width="0.4" />
<line x1="267.00" y1="426.40" x2="267.00" y2="427.60" stroke="#666" stroke-width="0.4" />
<line x1="270.00" y1="426.40" x2="270.00" y2="427.60" stroke="#666" stroke-width="0.4" />
<line x1="273.00" y1="426.40" x2="273.00" y2="427.60" stroke="#666" stroke-width="0.4" />
<line x1="196.00" y1="426.40" x2="196.00" y2="428.60" stroke="#333" stroke-width="0.5" />
<text x="196.00" y="432.70" font-size="4.0" font-weight="normal" fill="#333" font-style="italic" text-anchor="middle" >-10<tspan baseline-shift="48%" font-size="82%">3</tspan></text>
<line x1="209.00" y1="426.40" x2="209.00" y2="428.60" stroke="#333" stroke-width="0.5" />
<text x="209.00" y="432.70" font-size="4.0" font-weight="normal" fill="#333" font-style="italic" text-anchor="middle" >0</text>
<line x1="224.00" y1="426.40" x2="224.00" y2="428.60" stroke="#333" stroke-width="0.5" />
<text x="224.00" y="432.70" font-size="4.0" font-weight="normal" fill="#333" font-style="italic" text-anchor="middle" >10<tspan baseline-shift="48%" font-size="82%">3</tspan></text>
<line x1="250.00" y1="426.40" x2="250.00" y2="428.60" stroke="#333" stroke-width="0.5" />
<text x="250.00" y="432.70" font-size="4.0" font-weight="normal" fill="#333" font-style="italic" text-anchor="middle" >10<tspan baseline-shift="48%" font-size="82%">4</tspan></text>
<line x1="271.00" y1="426.40" x2="271.00" y2="428.60" stroke="#333" stroke-width="0.5" />
<text x="271.00" y="432.70" font-size="4.0" font-weight="normal" fill="#333" font-style="italic" text-anchor="middle" >10<tspan baseline-shift="48%" font-size="82%">5</tspan></text>
<line x1="186.40" y1="338.00" x2="187.60" y2="338.00" stroke="#666" stroke-width="0.4" />
<line x1="186.40" y1="341.00" x2="187.60" y2="341.00" stroke="#666" stroke-width="0.4" />
<line x1="186.40" y1="344.00" x2="187.60" y2="344.00" stroke="#666" stroke-width="0.4" />
<line x1="186.40" y1="347.00" x2="187.60" y2="347.00" stroke="#666" stroke-width="0.4" />
<line x1="186.40" y1="350.00" x2="187.60" y2="350.00" stroke="#666" stroke-width="0.4" />
<line x1="186.40" y1="353.00" x2="187.60" y2="353.00" stroke="#666" stroke-width="0.4" />
<line x1="186.40" y1="356.00" x2="187.60" y2="356.00" stroke="#666" stroke-width="0.4" />
<line x1="186.40" y1="359.00" x2="187.60" y2="359.00" stroke="#666" stroke-width="0.4" />
<line x1="186.40" y1="362.00" x2="187.60" y2="362.00" stroke="#666" stroke-width="0.4" />
<line x1="186.40" y1="365.00" x2="187.60" y2="365.00" stroke="#666" stroke-width="0.4" />
<line x1="186.40" y1="368.00" x2="187.60" y2="368.00" stroke="#666" stroke-width="0.4" />
<line x1="186.40" y1="371.00" x2="187.60" y2="371.00" stroke="#666" stroke-width="0.4" />
<line x1="186.40" y1="374.00" x2="187.60" y2="374.00" stroke="#666" stroke-width="0.4" />
<line x1="186.40" y1="377.00" x2="187.60" y2="377.00" stroke="#666" stroke-width="0.4" />
<line x1="186.40" y1="380.00" x2="187.60" y2="380.00" stroke="#666" stroke-width="0.4" />
<line x1="186.40" y1="383.00" x2="187.60" y2="383.00" stroke="#666" stroke-width="0.4" />
<line x1="186.40" y1="386.00" x2="187.60" y2="386.00" stroke="#666" stroke-width="0.4" />
<line x1="186.40" y1="389.00" x2="187.60" y2="389.00" stroke="#666" stroke-width="0.4" />
<line x1="186.40" y1="392.00" x2="187.60" y2="392.00" stroke="#666" stroke-width="0.4" />
<line x1="186.40" y1="395.00" x2="187.60" y2="395.00" stroke="#666" stroke-width="0.4" />
<line x1="186.40" y1="398.00" x2="187.60" y2="398.00" stroke="#666" stroke-width="0.4" />
<line x1="186.40" y1="401.00" x2="187.60" y2="401.00" stroke="#666" stroke-width="0.4" />
<line x1="186.40" y1="404.00" x2="187.60" y2="404.00" stroke="#666" stroke-width="0.4" />
<line x1="186.40" y1="407.00" x2="187.60" y2="407.00" stroke="#666" stroke-width="0.4" />
<line x1="186.40" y1="410.00" x2="187.60" y2="410.00" stroke="#666" stroke-width="0.4" />
<line x1="186.40" y1="413.00" x2="187.60" y2="413.00" stroke="#666" stroke-width="0.4" />
<line x1="186.40" y1="416.00" x2="187.60" y2="416.00" stroke="#666" stroke-width="0.4" />
<line x1="186.40" y1="419.00" x2="187.60" y2="419.00" stroke="#666" stroke-width="0.4" />
<line x1="186.40" y1="422.00" x2="187.60" y2="422.00" stroke="#666" stroke-width="0.4" />
<line x1="185.40" y1="345.00" x2="187.60" y2="345.00" stroke="#333" stroke-width="0.5" />
<text x="184.60" y="346.30" font-size="4.0" font-weight="normal" fill="#333" font-style="italic" text-anchor="end" >10<tspan baseline-shift="48%" font-size="82%">5</tspan></text>
<line x1="185.40" y1="366.50" x2="187.60" y2="366.50" stroke="#333" stroke-width="0.5" />
<text x="184.60" y="367.80" font-size="4.0" font-weight="normal" fill="#333" font-style="italic" text-anchor="end" >10<tspan baseline-shift="48%" font-size="82%">4</tspan></text>
<line x1="185.40" y1="391.30" x2="187.60" y2="391.30" stroke="#333" stroke-width="0.5" />
<text x="184.60" y="392.60" font-size="4.0" font-weight="normal" fill="#333" font-style="italic" text-anchor="end" >10<tspan baseline-shift="48%" font-size="82%">3</tspan></text>
<line x1="185.40" y1="406.00" x2="187.60" y2="406.00" stroke="#333" stroke-width="0.5" />
<text x="184.60" y="407.30" font-size="4.0" font-weight="normal" fill="#333" font-style="italic" text-anchor="end" >0</text>
<line x1="185.40" y1="421.00" x2="187.60" y2="421.00" stroke="#333" stroke-width="0.5" />
<text x="184.60" y="422.30" font-size="4.0" font-weight="normal" fill="#333" font-style="italic" text-anchor="end" >-10<tspan baseline-shift="48%" font-size="82%">3</tspan></text>
<rect x="185.30" y="404.50" width="1.80" height="3.00" fill="#111" stroke="none" stroke-width="1" />
<rect x="206.00" y="427.50" width="4.50" height="1.80" fill="#111" stroke="none" stroke-width="1" />
<line x1="174.10" y1="439.50" x2="174.10" y2="424.00" stroke="#222" stroke-width="0.6" />
<path d="M174.10,421.50 L175.45,424.50 L172.75,424.50 Z" fill="#222" stroke="none" stroke-width="1" />
<line x1="174.10" y1="439.50" x2="206.50" y2="439.50" stroke="#222" stroke-width="0.6" />
<path d="M209.00,439.50 L206.00,440.85 L206.00,438.15 Z" fill="#222" stroke="none" stroke-width="1" />
<text x="177.60" y="377.00" font-size="7.4" font-weight="normal" fill="#222" text-anchor="middle" textLength="96.80" lengthAdjust="spacingAndGlyphs" transform="rotate(-90 177.60 377.00)" >#BUV395 – Ly-6A/E (Sca-1)</text>
<text x="217.00" y="442.70" font-size="7.6" font-weight="normal" fill="#222" textLength="36.00" lengthAdjust="spacingAndGlyphs" >#PE – c-Kit</text>
<line x1="277.30" y1="338.60" x2="304.50" y2="319.80" stroke="#6b4016" stroke-width="0.9" />
<path d="M306.60,318.40 L304.56,321.78 L302.72,319.11 Z" fill="#6b4016" stroke="none" stroke-width="1" />
<line x1="277.30" y1="411.70" x2="312.50" y2="420.90" stroke="#c0282d" stroke-width="0.9" />
<path d="M315.20,421.60 L311.31,422.26 L312.13,419.12 Z" fill="#c0282d" stroke="none" stroke-width="1" />
<text x="355.10" y="264.00" font-size="8.2" font-weight="bold" fill="#000" textLength="55.30" lengthAdjust="spacingAndGlyphs" >CLPs vs LMPPs</text>
<rect x="338.50" y="267.50" width="89.80" height="90.10" fill="#fff" stroke="#a8a8a8" stroke-width="0.8" />
<g transform="rotate(-8 360.3 308.5)" opacity="0.95">
<ellipse cx="360.30" cy="308.50" rx="7.80" ry="11.50" fill="#3cc84a" opacity="0.25"/>
<ellipse cx="360.30" cy="308.50" rx="7.80" ry="11.50" fill="none" stroke="#3cc84a" stroke-width="0.5"/>
<ellipse cx="360.38" cy="308.44" rx="6.99" ry="10.31" fill="none" stroke="#3cc84a" stroke-width="0.5"/>
<ellipse cx="360.46" cy="308.38" rx="6.19" ry="9.13" fill="none" stroke="#3cc84a" stroke-width="0.5"/>
<ellipse cx="360.55" cy="308.32" rx="5.41" ry="7.97" fill="none" stroke="#3cc84a" stroke-width="0.5"/>
<ellipse cx="360.62" cy="308.26" rx="4.64" ry="6.84" fill="none" stroke="#3cc84a" stroke-width="0.5"/>
<ellipse cx="360.70" cy="308.20" rx="3.88" ry="5.73" fill="none" stroke="#3cc84a" stroke-width="0.5"/>
<ellipse cx="360.78" cy="308.14" rx="3.15" ry="4.64" fill="none" stroke="#3cc84a" stroke-width="0.5"/>
<ellipse cx="360.85" cy="308.09" rx="2.44" ry="3.59" fill="none" stroke="#3cc84a" stroke-width="0.5"/>
<ellipse cx="360.92" cy="308.03" rx="1.75" ry="2.58" fill="none" stroke="#3cc84a" stroke-width="0.5"/>
<ellipse cx="360.99" cy="307.98" rx="1.10" ry="1.62" fill="none" stroke="#3cc84a" stroke-width="0.5"/>
<ellipse cx="361.05" cy="307.94" rx="0.49" ry="0.73" fill="none" stroke="#3cc84a" stroke-width="0.5"/>
<circle cx="361.00" cy="308.00" r="0.9" fill="#fff"/>
</g>
<g transform="rotate(0 396.5 322.0)" opacity="0.95">
<ellipse cx="396.50" cy="322.00" rx="11.80" ry="12.20" fill="#f08a3a" opacity="0.25"/>
<ellipse cx="396.50" cy="322.00" rx="11.80" ry="12.20" fill="none" stroke="#f08a3a" stroke-width="0.5"/>
<ellipse cx="396.58" cy="321.94" rx="10.68" ry="11.04" fill="none" stroke="#f08a3a" stroke-width="0.5"/>
<ellipse cx="396.65" cy="321.89" rx="9.57" ry="9.89" fill="none" stroke="#f08a3a" stroke-width="0.5"/>
<ellipse cx="396.73" cy="321.83" rx="8.48" ry="8.76" fill="none" stroke="#f08a3a" stroke-width="0.5"/>
<ellipse cx="396.80" cy="321.78" rx="7.40" ry="7.65" fill="none" stroke="#f08a3a" stroke-width="0.5"/>
<ellipse cx="396.87" cy="321.72" rx="6.35" ry="6.56" fill="none" stroke="#f08a3a" stroke-width="0.5"/>
<ellipse cx="396.94" cy="321.67" rx="5.32" ry="5.50" fill="none" stroke="#f08a3a" stroke-width="0.5"/>
<ellipse cx="397.01" cy="321.62" rx="4.31" ry="4.46" fill="none" stroke="#f08a3a" stroke-width="0.5"/>
<ellipse cx="397.07" cy="321.57" rx="3.34" ry="3.45" fill="none" stroke="#f08a3a" stroke-width="0.5"/>
<ellipse cx="397.14" cy="321.52" rx="2.40" ry="2.48" fill="none" stroke="#f08a3a" stroke-width="0.5"/>
<ellipse cx="397.20" cy="321.48" rx="1.50" ry="1.55" fill="none" stroke="#f08a3a" stroke-width="0.5"/>
<ellipse cx="397.25" cy="321.43" rx="0.68" ry="0.70" fill="none" stroke="#f08a3a" stroke-width="0.5"/>
<circle cx="397.20" cy="321.50" r="0.9" fill="#fff"/>
</g>
<rect x="339.20" y="279.40" width="30.30" height="43.50" fill="none" stroke="#1ab36a" stroke-width="1.1" />
<rect x="379.40" y="314.20" width="41.70" height="38.90" fill="none" stroke="#c0622a" stroke-width="1.1" />
<text x="348.40" y="277.40" font-size="5.4" font-weight="bold" fill="#222" textLength="12.40" lengthAdjust="spacingAndGlyphs" >CLPs</text>
<text x="342.20" y="286.90" font-size="5.2" font-weight="bold" fill="#222" textLength="14.40" lengthAdjust="spacingAndGlyphs" >22.4%</text>
<text x="403.00" y="309.20" font-size="5.4" font-weight="bold" fill="#222" textLength="18.10" lengthAdjust="spacingAndGlyphs" >LMPPs</text>
<text x="403.70" y="348.90" font-size="5.2" font-weight="bold" fill="#222" textLength="14.20" lengthAdjust="spacingAndGlyphs" >69.1%</text>
<line x1="340.00" y1="357.60" x2="340.00" y2="358.80" stroke="#666" stroke-width="0.4" />
<line x1="343.00" y1="357.60" x2="343.00" y2="358.80" stroke="#666" stroke-width="0.4" />
<line x1="346.00" y1="357.60" x2="346.00" y2="358.80" stroke="#666" stroke-width="0.4" />
<line x1="349.00" y1="357.60" x2="349.00" y2="358.80" stroke="#666" stroke-width="0.4" />
<line x1="352.00" y1="357.60" x2="352.00" y2="358.80" stroke="#666" stroke-width="0.4" />
<line x1="355.00" y1="357.60" x2="355.00" y2="358.80" stroke="#666" stroke-width="0.4" />
<line x1="358.00" y1="357.60" x2="358.00" y2="358.80" stroke="#666" stroke-width="0.4" />
<line x1="361.00" y1="357.60" x2="361.00" y2="358.80" stroke="#666" stroke-width="0.4" />
<line x1="364.00" y1="357.60" x2="364.00" y2="358.80" stroke="#666" stroke-width="0.4" />
<line x1="367.00" y1="357.60" x2="367.00" y2="358.80" stroke="#666" stroke-width="0.4" />
<line x1="370.00" y1="357.60" x2="370.00" y2="358.80" stroke="#666" stroke-width="0.4" />
<line x1="373.00" y1="357.60" x2="373.00" y2="358.80" stroke="#666" stroke-width="0.4" />
<line x1="376.00" y1="357.60" x2="376.00" y2="358.80" stroke="#666" stroke-width="0.4" />
<line x1="379.00" y1="357.60" x2="379.00" y2="358.80" stroke="#666" stroke-width="0.4" />
<line x1="382.00" y1="357.60" x2="382.00" y2="358.80" stroke="#666" stroke-width="0.4" />
<line x1="385.00" y1="357.60" x2="385.00" y2="358.80" stroke="#666" stroke-width="0.4" />
<line x1="388.00" y1="357.60" x2="388.00" y2="358.80" stroke="#666" stroke-width="0.4" />
<line x1="391.00" y1="357.60" x2="391.00" y2="358.80" stroke="#666" stroke-width="0.4" />
<line x1="394.00" y1="357.60" x2="394.00" y2="358.80" stroke="#666" stroke-width="0.4" />
<line x1="397.00" y1="357.60" x2="397.00" y2="358.80" stroke="#666" stroke-width="0.4" />
<line x1="400.00" y1="357.60" x2="400.00" y2="358.80" stroke="#666" stroke-width="0.4" />
<line x1="403.00" y1="357.60" x2="403.00" y2="358.80" stroke="#666" stroke-width="0.4" />
<line x1="406.00" y1="357.60" x2="406.00" y2="358.80" stroke="#666" stroke-width="0.4" />
<line x1="409.00" y1="357.60" x2="409.00" y2="358.80" stroke="#666" stroke-width="0.4" />
<line x1="412.00" y1="357.60" x2="412.00" y2="358.80" stroke="#666" stroke-width="0.4" />
<line x1="415.00" y1="357.60" x2="415.00" y2="358.80" stroke="#666" stroke-width="0.4" />
<line x1="418.00" y1="357.60" x2="418.00" y2="358.80" stroke="#666" stroke-width="0.4" />
<line x1="421.00" y1="357.60" x2="421.00" y2="358.80" stroke="#666" stroke-width="0.4" />
<line x1="424.00" y1="357.60" x2="424.00" y2="358.80" stroke="#666" stroke-width="0.4" />
<line x1="346.00" y1="357.60" x2="346.00" y2="359.80" stroke="#333" stroke-width="0.5" />
<text x="346.00" y="363.90" font-size="4.0" font-weight="normal" fill="#333" font-style="italic" text-anchor="middle" >-10<tspan baseline-shift="48%" font-size="82%">3</tspan></text>
<line x1="359.50" y1="357.60" x2="359.50" y2="359.80" stroke="#333" stroke-width="0.5" />
<text x="359.50" y="363.90" font-size="4.0" font-weight="normal" fill="#333" font-style="italic" text-anchor="middle" >0</text>
<line x1="374.50" y1="357.60" x2="374.50" y2="359.80" stroke="#333" stroke-width="0.5" />
<text x="374.50" y="363.90" font-size="4.0" font-weight="normal" fill="#333" font-style="italic" text-anchor="middle" >10<tspan baseline-shift="48%" font-size="82%">3</tspan></text>
<line x1="400.50" y1="357.60" x2="400.50" y2="359.80" stroke="#333" stroke-width="0.5" />
<text x="400.50" y="363.90" font-size="4.0" font-weight="normal" fill="#333" font-style="italic" text-anchor="middle" >10<tspan baseline-shift="48%" font-size="82%">4</tspan></text>
<line x1="421.50" y1="357.60" x2="421.50" y2="359.80" stroke="#333" stroke-width="0.5" />
<text x="421.50" y="363.90" font-size="4.0" font-weight="normal" fill="#333" font-style="italic" text-anchor="middle" >10<tspan baseline-shift="48%" font-size="82%">5</tspan></text>
<line x1="337.30" y1="269.00" x2="338.50" y2="269.00" stroke="#666" stroke-width="0.4" />
<line x1="337.30" y1="272.00" x2="338.50" y2="272.00" stroke="#666" stroke-width="0.4" />
<line x1="337.30" y1="275.00" x2="338.50" y2="275.00" stroke="#666" stroke-width="0.4" />
<line x1="337.30" y1="278.00" x2="338.50" y2="278.00" stroke="#666" stroke-width="0.4" />
<line x1="337.30" y1="281.00" x2="338.50" y2="281.00" stroke="#666" stroke-width="0.4" />
<line x1="337.30" y1="284.00" x2="338.50" y2="284.00" stroke="#666" stroke-width="0.4" />
<line x1="337.30" y1="287.00" x2="338.50" y2="287.00" stroke="#666" stroke-width="0.4" />
<line x1="337.30" y1="290.00" x2="338.50" y2="290.00" stroke="#666" stroke-width="0.4" />
<line x1="337.30" y1="293.00" x2="338.50" y2="293.00" stroke="#666" stroke-width="0.4" />
<line x1="337.30" y1="296.00" x2="338.50" y2="296.00" stroke="#666" stroke-width="0.4" />
<line x1="337.30" y1="299.00" x2="338.50" y2="299.00" stroke="#666" stroke-width="0.4" />
<line x1="337.30" y1="302.00" x2="338.50" y2="302.00" stroke="#666" stroke-width="0.4" />
<line x1="337.30" y1="305.00" x2="338.50" y2="305.00" stroke="#666" stroke-width="0.4" />
<line x1="337.30" y1="308.00" x2="338.50" y2="308.00" stroke="#666" stroke-width="0.4" />
<line x1="337.30" y1="311.00" x2="338.50" y2="311.00" stroke="#666" stroke-width="0.4" />
<line x1="337.30" y1="314.00" x2="338.50" y2="314.00" stroke="#666" stroke-width="0.4" />
<line x1="337.30" y1="317.00" x2="338.50" y2="317.00" stroke="#666" stroke-width="0.4" />
<line x1="337.30" y1="320.00" x2="338.50" y2="320.00" stroke="#666" stroke-width="0.4" />
<line x1="337.30" y1="323.00" x2="338.50" y2="323.00" stroke="#666" stroke-width="0.4" />
<line x1="337.30" y1="326.00" x2="338.50" y2="326.00" stroke="#666" stroke-width="0.4" />
<line x1="337.30" y1="329.00" x2="338.50" y2="329.00" stroke="#666" stroke-width="0.4" />
<line x1="337.30" y1="332.00" x2="338.50" y2="332.00" stroke="#666" stroke-width="0.4" />
<line x1="337.30" y1="335.00" x2="338.50" y2="335.00" stroke="#666" stroke-width="0.4" />
<line x1="337.30" y1="338.00" x2="338.50" y2="338.00" stroke="#666" stroke-width="0.4" />
<line x1="337.30" y1="341.00" x2="338.50" y2="341.00" stroke="#666" stroke-width="0.4" />
<line x1="337.30" y1="344.00" x2="338.50" y2="344.00" stroke="#666" stroke-width="0.4" />
<line x1="337.30" y1="347.00" x2="338.50" y2="347.00" stroke="#666" stroke-width="0.4" />
<line x1="337.30" y1="350.00" x2="338.50" y2="350.00" stroke="#666" stroke-width="0.4" />
<line x1="337.30" y1="353.00" x2="338.50" y2="353.00" stroke="#666" stroke-width="0.4" />
<line x1="336.30" y1="276.50" x2="338.50" y2="276.50" stroke="#333" stroke-width="0.5" />
<text x="335.50" y="277.80" font-size="4.0" font-weight="normal" fill="#333" font-style="italic" text-anchor="end" >10<tspan baseline-shift="48%" font-size="82%">5</tspan></text>
<line x1="336.30" y1="298.00" x2="338.50" y2="298.00" stroke="#333" stroke-width="0.5" />
<text x="335.50" y="299.30" font-size="4.0" font-weight="normal" fill="#333" font-style="italic" text-anchor="end" >10<tspan baseline-shift="48%" font-size="82%">4</tspan></text>
<line x1="336.30" y1="322.00" x2="338.50" y2="322.00" stroke="#333" stroke-width="0.5" />
<text x="335.50" y="323.30" font-size="4.0" font-weight="normal" fill="#333" font-style="italic" text-anchor="end" >10<tspan baseline-shift="48%" font-size="82%">3</tspan></text>
<line x1="336.30" y1="336.50" x2="338.50" y2="336.50" stroke="#333" stroke-width="0.5" />
<text x="335.50" y="337.80" font-size="4.0" font-weight="normal" fill="#333" font-style="italic" text-anchor="end" >0</text>
<line x1="336.30" y1="351.50" x2="338.50" y2="351.50" stroke="#333" stroke-width="0.5" />
<text x="335.50" y="352.80" font-size="4.0" font-weight="normal" fill="#333" font-style="italic" text-anchor="end" >-10<tspan baseline-shift="48%" font-size="82%">3</tspan></text>
<rect x="336.20" y="335.00" width="1.80" height="3.00" fill="#111" stroke="none" stroke-width="1" />
<rect x="357.00" y="358.30" width="4.50" height="1.60" fill="#111" stroke="none" stroke-width="1" />
<line x1="323.10" y1="371.30" x2="323.10" y2="358.90" stroke="#222" stroke-width="0.6" />
<path d="M323.10,356.40 L324.45,359.40 L321.75,359.40 Z" fill="#222" stroke="none" stroke-width="1" />
<line x1="323.10" y1="371.30" x2="356.30" y2="371.30" stroke="#222" stroke-width="0.6" />
<path d="M358.80,371.30 L355.80,372.65 L355.80,369.95 Z" fill="#222" stroke="none" stroke-width="1" />
<text x="327.30" y="307.60" font-size="7.4" font-weight="normal" fill="#222" text-anchor="middle" textLength="85.20" lengthAdjust="spacingAndGlyphs" transform="rotate(-90 327.30 307.60)" >#BV605 – CD127 (IL-7Rα)</text>
<text x="367.00" y="375.00" font-size="7.6" font-weight="normal" fill="#222" textLength="50.90" lengthAdjust="spacingAndGlyphs" >#AF647 – CD34</text>
<text x="362.50" y="389.90" font-size="8.2" font-weight="bold" fill="#000" textLength="41.20" lengthAdjust="spacingAndGlyphs" >GMPs gate</text>
<rect x="337.70" y="394.30" width="90.10" height="89.90" fill="#fff" stroke="#a8a8a8" stroke-width="0.8" />
<g opacity="0.5">
<path d="M359.00,424.50 C360.83,423.00 362.83,424.42 364.50,427.00 C366.17,429.58 367.92,435.17 369.00,440.00 C370.08,444.83 371.17,451.33 371.00,456.00 C370.83,460.67 369.83,465.42 368.00,468.00 C366.17,470.58 362.50,471.50 360.00,471.50 C357.50,471.50 354.42,471.25 353.00,468.00 C351.58,464.75 351.42,457.33 351.50,452.00 C351.58,446.67 352.25,440.58 353.50,436.00 C354.75,431.42 357.17,426.00 359.00,424.50 Z" fill="#bcbcbc" stroke="none" stroke-width="1" opacity="0.1"/>
<path d="M359.00,424.50 C360.83,423.00 362.83,424.42 364.50,427.00 C366.17,429.58 367.92,435.17 369.00,440.00 C370.08,444.83 371.17,451.33 371.00,456.00 C370.83,460.67 369.83,465.42 368.00,468.00 C366.17,470.58 362.50,471.50 360.00,471.50 C357.50,471.50 354.42,471.25 353.00,468.00 C351.58,464.75 351.42,457.33 351.50,452.00 C351.58,446.67 352.25,440.58 353.50,436.00 C354.75,431.42 357.17,426.00 359.00,424.50 Z" fill="none" stroke="#bcbcbc" stroke-width="0.5" />
<path d="M359.05,427.24 C360.69,425.90 362.47,427.16 363.95,429.46 C365.44,431.76 367.00,436.74 367.96,441.04 C368.93,445.34 369.89,451.13 369.74,455.29 C369.59,459.44 368.70,463.67 367.07,465.98 C365.44,468.28 362.17,469.09 359.95,469.09 C357.72,469.09 354.97,468.87 353.71,465.98 C352.45,463.08 352.30,456.48 352.38,451.73 C352.45,446.98 353.04,441.56 354.16,437.48 C355.27,433.40 357.42,428.57 359.05,427.24 Z" fill="none" stroke="#bcbcbc" stroke-width="0.5" />
<path d="M359.11,429.94 C360.54,428.77 362.11,429.88 363.41,431.90 C364.72,433.92 366.08,438.29 366.93,442.07 C367.78,445.85 368.63,450.93 368.50,454.59 C368.37,458.24 367.58,461.95 366.15,463.97 C364.72,465.99 361.85,466.71 359.89,466.71 C357.94,466.71 355.52,466.52 354.41,463.97 C353.31,461.43 353.18,455.63 353.24,451.46 C353.31,447.28 353.83,442.52 354.81,438.94 C355.78,435.35 357.67,431.11 359.11,429.94 Z" fill="none" stroke="#bcbcbc" stroke-width="0.5" />
<path d="M359.16,432.61 C360.40,431.60 361.75,432.56 362.88,434.30 C364.00,436.05 365.19,439.82 365.92,443.08 C366.65,446.35 367.38,450.74 367.27,453.89 C367.16,457.04 366.48,460.25 365.24,462.00 C364.00,463.74 361.53,464.36 359.84,464.36 C358.15,464.36 356.07,464.19 355.11,462.00 C354.15,459.80 354.04,454.79 354.10,451.19 C354.15,447.59 354.60,443.48 355.45,440.38 C356.29,437.29 357.92,433.63 359.16,432.61 Z" fill="none" stroke="#bcbcbc" stroke-width="0.5" />
<path d="M359.21,435.25 C360.26,434.39 361.40,435.20 362.35,436.67 C363.30,438.15 364.30,441.33 364.92,444.08 C365.53,446.84 366.15,450.55 366.06,453.21 C365.96,455.87 365.39,458.57 364.35,460.05 C363.30,461.52 361.21,462.04 359.79,462.04 C358.36,462.04 356.60,461.90 355.79,460.05 C354.99,458.19 354.89,453.97 354.94,450.93 C354.99,447.88 355.37,444.42 356.08,441.80 C356.79,439.19 358.17,436.10 359.21,435.25 Z" fill="none" stroke="#bcbcbc" stroke-width="0.5" />
<path d="M359.27,437.84 C360.12,437.14 361.06,437.80 361.83,439.00 C362.61,440.21 363.43,442.81 363.93,445.07 C364.44,447.32 364.94,450.36 364.86,452.53 C364.79,454.71 364.32,456.93 363.47,458.13 C362.61,459.34 360.90,459.76 359.73,459.76 C358.57,459.76 357.13,459.65 356.47,458.13 C355.81,456.61 355.73,453.15 355.77,450.67 C355.81,448.18 356.12,445.34 356.70,443.20 C357.28,441.06 358.41,438.54 359.27,437.84 Z" fill="none" stroke="#bcbcbc" stroke-width="0.5" />
<path d="M359.32,440.38 C359.99,439.83 360.72,440.35 361.32,441.29 C361.93,442.23 362.57,444.27 362.97,446.03 C363.36,447.80 363.76,450.17 363.70,451.87 C363.64,453.58 363.27,455.31 362.60,456.25 C361.93,457.19 360.59,457.53 359.68,457.53 C358.77,457.53 357.64,457.44 357.13,456.25 C356.61,455.07 356.55,452.36 356.58,450.41 C356.61,448.47 356.85,446.25 357.31,444.57 C357.77,442.90 358.65,440.92 359.32,440.38 Z" fill="none" stroke="#bcbcbc" stroke-width="0.5" />
<path d="M359.37,442.85 C359.85,442.45 360.39,442.83 360.83,443.52 C361.27,444.20 361.74,445.69 362.03,446.97 C362.31,448.26 362.60,449.99 362.56,451.23 C362.51,452.47 362.25,453.73 361.76,454.42 C361.27,455.11 360.30,455.35 359.63,455.35 C358.97,455.35 358.15,455.28 357.77,454.42 C357.39,453.56 357.35,451.58 357.37,450.16 C357.39,448.75 357.57,447.13 357.90,445.91 C358.24,444.69 358.88,443.25 359.37,442.85 Z" fill="none" stroke="#bcbcbc" stroke-width="0.5" />
<path d="M359.41,445.24 C359.73,444.99 360.07,445.23 360.35,445.67 C360.64,446.11 360.93,447.06 361.12,447.88 C361.30,448.71 361.49,449.81 361.46,450.61 C361.43,451.40 361.26,452.21 360.95,452.65 C360.64,453.09 360.01,453.25 359.59,453.25 C359.16,453.25 358.63,453.20 358.39,452.65 C358.15,452.10 358.12,450.83 358.14,449.93 C358.15,449.02 358.27,447.98 358.48,447.20 C358.69,446.42 359.10,445.50 359.41,445.24 Z" fill="none" stroke="#bcbcbc" stroke-width="0.5" />
<path d="M359.46,447.51 C359.61,447.40 359.76,447.51 359.90,447.71 C360.03,447.92 360.17,448.36 360.25,448.75 C360.34,449.13 360.43,449.65 360.41,450.02 C360.40,450.39 360.32,450.76 360.18,450.97 C360.03,451.17 359.74,451.25 359.54,451.25 C359.34,451.25 359.10,451.23 358.98,450.97 C358.87,450.71 358.86,450.12 358.86,449.70 C358.87,449.27 358.92,448.79 359.02,448.43 C359.12,448.06 359.31,447.63 359.46,447.51 Z" fill="none" stroke="#bcbcbc" stroke-width="0.5" />
</g>
<g opacity="0.5">
<path d="M386.00,444.00 C388.58,443.08 393.17,442.67 396.00,443.50 C398.83,444.33 401.33,446.25 403.00,449.00 C404.67,451.75 406.33,456.75 406.00,460.00 C405.67,463.25 403.67,466.75 401.00,468.50 C398.33,470.25 393.50,470.67 390.00,470.50 C386.50,470.33 382.08,469.58 380.00,467.50 C377.92,465.42 377.42,461.08 377.50,458.00 C377.58,454.92 379.08,451.33 380.50,449.00 C381.92,446.67 383.42,444.92 386.00,444.00 Z" fill="#bcbcbc" stroke="none" stroke-width="1" opacity="0.1"/>
<path d="M386.00,444.00 C388.58,443.08 393.17,442.67 396.00,443.50 C398.83,444.33 401.33,446.25 403.00,449.00 C404.67,451.75 406.33,456.75 406.00,460.00 C405.67,463.25 403.67,466.75 401.00,468.50 C398.33,470.25 393.50,470.67 390.00,470.50 C386.50,470.33 382.08,469.58 380.00,467.50 C377.92,465.42 377.42,461.08 377.50,458.00 C377.58,454.92 379.08,451.33 380.50,449.00 C381.92,446.67 383.42,444.92 386.00,444.00 Z" fill="none" stroke="#bcbcbc" stroke-width="0.5" />
<path d="M386.85,445.58 C389.12,444.77 393.15,444.41 395.64,445.14 C398.12,445.87 400.32,447.56 401.78,449.97 C403.25,452.39 404.71,456.78 404.42,459.64 C404.13,462.49 402.37,465.57 400.03,467.10 C397.69,468.64 393.44,469.01 390.36,468.86 C387.29,468.71 383.41,468.05 381.58,466.22 C379.75,464.39 379.31,460.59 379.38,457.88 C379.46,455.17 380.77,452.02 382.02,449.97 C383.26,447.92 384.58,446.39 386.85,445.58 Z" fill="none" stroke="#bcbcbc" stroke-width="0.5" />
<path d="M387.69,447.14 C389.65,446.44 393.13,446.13 395.28,446.76 C397.42,447.39 399.32,448.85 400.58,450.93 C401.85,453.02 403.11,456.81 402.86,459.28 C402.61,461.74 401.09,464.40 399.07,465.72 C397.05,467.05 393.38,467.37 390.72,467.24 C388.07,467.11 384.72,466.54 383.14,464.96 C381.56,463.38 381.18,460.10 381.24,457.76 C381.31,455.42 382.44,452.70 383.52,450.93 C384.59,449.16 385.73,447.84 387.69,447.14 Z" fill="none" stroke="#bcbcbc" stroke-width="0.5" />
<path d="M388.52,448.68 C390.17,448.09 393.11,447.82 394.92,448.36 C396.73,448.89 398.33,450.12 399.40,451.88 C400.47,453.64 401.54,456.84 401.32,458.92 C401.11,461.00 399.83,463.24 398.12,464.36 C396.41,465.48 393.32,465.75 391.08,465.64 C388.84,465.54 386.01,465.06 384.68,463.72 C383.34,462.39 383.02,459.61 383.08,457.64 C383.13,455.67 384.09,453.37 385.00,451.88 C385.90,450.38 386.86,449.26 388.52,448.68 Z" fill="none" stroke="#bcbcbc" stroke-width="0.5" />
<path d="M389.33,450.19 C390.69,449.71 393.09,449.49 394.57,449.93 C396.06,450.36 397.37,451.37 398.24,452.81 C399.11,454.25 399.98,456.87 399.81,458.57 C399.64,460.27 398.59,462.11 397.19,463.02 C395.79,463.94 393.26,464.16 391.43,464.07 C389.60,463.98 387.28,463.59 386.19,462.50 C385.10,461.41 384.84,459.14 384.88,457.52 C384.92,455.91 385.71,454.03 386.45,452.81 C387.19,451.59 387.98,450.67 389.33,450.19 Z" fill="none" stroke="#bcbcbc" stroke-width="0.5" />
<path d="M390.13,451.67 C391.19,451.30 393.07,451.13 394.23,451.47 C395.39,451.81 396.42,452.59 397.10,453.72 C397.78,454.85 398.46,456.90 398.33,458.23 C398.19,459.56 397.37,461.00 396.28,461.71 C395.19,462.43 393.20,462.60 391.77,462.53 C390.34,462.46 388.53,462.16 387.67,461.30 C386.82,460.45 386.61,458.67 386.65,457.41 C386.68,456.15 387.30,454.68 387.88,453.72 C388.46,452.77 389.07,452.05 390.13,451.67 Z" fill="none" stroke="#bcbcbc" stroke-width="0.5" />
<path d="M390.91,453.12 C391.68,452.84 393.05,452.72 393.90,452.97 C394.74,453.22 395.49,453.79 395.99,454.61 C396.48,455.43 396.98,456.93 396.88,457.90 C396.78,458.87 396.19,459.91 395.39,460.43 C394.59,460.96 393.15,461.08 392.10,461.03 C391.06,460.98 389.74,460.76 389.12,460.14 C388.50,459.51 388.35,458.22 388.37,457.30 C388.40,456.38 388.84,455.31 389.27,454.61 C389.69,453.91 390.14,453.39 390.91,453.12 Z" fill="none" stroke="#bcbcbc" stroke-width="0.5" />
<path d="M391.66,454.51 C392.16,454.34 393.03,454.26 393.57,454.42 C394.12,454.58 394.59,454.94 394.91,455.47 C395.23,456.00 395.55,456.95 395.49,457.57 C395.42,458.19 395.04,458.86 394.53,459.20 C394.02,459.53 393.10,459.61 392.43,459.58 C391.76,459.55 390.91,459.41 390.51,459.01 C390.12,458.61 390.02,457.78 390.04,457.19 C390.05,456.60 390.34,455.92 390.61,455.47 C390.88,455.02 391.17,454.69 391.66,454.51 Z" fill="none" stroke="#bcbcbc" stroke-width="0.5" />
<path d="M392.38,455.84 C392.61,455.76 393.01,455.72 393.27,455.80 C393.52,455.87 393.74,456.04 393.89,456.29 C394.04,456.53 394.19,456.98 394.16,457.27 C394.13,457.56 393.95,457.87 393.71,458.03 C393.48,458.18 393.04,458.22 392.73,458.20 C392.42,458.19 392.03,458.12 391.84,457.94 C391.65,457.75 391.61,457.36 391.62,457.09 C391.62,456.81 391.76,456.49 391.89,456.29 C392.01,456.08 392.15,455.92 392.38,455.84 Z" fill="none" stroke="#bcbcbc" stroke-width="0.5" />
</g>
<g opacity="0.85">
<path d="M372.50,416.00 C372.75,414.08 375.75,413.57 378.00,413.00 C380.25,412.43 383.17,412.23 386.00,412.60 C388.83,412.97 392.42,414.05 395.00,415.20 C397.58,416.35 400.20,417.53 401.50,419.50 C402.80,421.47 403.13,424.83 402.80,427.00 C402.47,429.17 401.30,430.87 399.50,432.50 C397.70,434.13 394.42,436.08 392.00,436.80 C389.58,437.52 387.00,437.68 385.00,436.80 C383.00,435.92 381.42,433.55 380.00,431.50 C378.58,429.45 377.75,427.08 376.50,424.50 C375.25,421.92 372.25,417.92 372.50,416.00 Z" fill="#e85a5a" stroke="none" stroke-width="1" opacity="0.22"/>
<path d="M372.50,416.00 C372.75,414.08 375.75,413.57 378.00,413.00 C380.25,412.43 383.17,412.23 386.00,412.60 C388.83,412.97 392.42,414.05 395.00,415.20 C397.58,416.35 400.20,417.53 401.50,419.50 C402.80,421.47 403.13,424.83 402.80,427.00 C402.47,429.17 401.30,430.87 399.50,432.50 C397.70,434.13 394.42,436.08 392.00,436.80 C389.58,437.52 387.00,437.68 385.00,436.80 C383.00,435.92 381.42,433.55 380.00,431.50 C378.58,429.45 377.75,427.08 376.50,424.50 C375.25,421.92 372.25,417.92 372.50,416.00 Z" fill="none" stroke="#e85a5a" stroke-width="0.5" />
<path d="M373.49,416.36 C373.73,414.56 376.55,414.07 378.66,413.54 C380.78,413.01 383.52,412.82 386.18,413.17 C388.84,413.51 392.21,414.53 394.64,415.61 C397.07,416.69 399.53,417.80 400.75,419.65 C401.97,421.50 402.28,424.66 401.97,426.70 C401.66,428.74 400.56,430.33 398.87,431.87 C397.18,433.40 394.09,435.24 391.82,435.91 C389.55,436.58 387.12,436.74 385.24,435.91 C383.36,435.08 381.87,432.85 380.54,430.93 C379.21,429.00 378.43,426.78 377.25,424.35 C376.08,421.92 373.26,418.16 373.49,416.36 Z" fill="none" stroke="#e85a5a" stroke-width="0.5" />
<path d="M374.49,416.73 C374.71,415.04 377.35,414.59 379.33,414.09 C381.31,413.59 383.87,413.41 386.36,413.74 C388.85,414.06 392.00,415.01 394.27,416.02 C396.55,417.03 398.85,418.07 399.99,419.80 C401.13,421.53 401.43,424.49 401.13,426.40 C400.84,428.30 399.81,429.80 398.23,431.23 C396.65,432.67 393.76,434.38 391.64,435.01 C389.51,435.64 387.24,435.79 385.48,435.01 C383.73,434.23 382.33,432.15 381.09,430.35 C379.84,428.55 379.11,426.47 378.01,424.20 C376.91,421.93 374.27,418.41 374.49,416.73 Z" fill="none" stroke="#e85a5a" stroke-width="0.5" />
<path d="M375.50,417.09 C375.71,415.52 378.16,415.10 380.00,414.64 C381.84,414.17 384.23,414.01 386.55,414.31 C388.86,414.61 391.80,415.50 393.91,416.44 C396.02,417.38 398.16,418.35 399.23,419.95 C400.29,421.56 400.56,424.32 400.29,426.09 C400.02,427.86 399.06,429.25 397.59,430.59 C396.12,431.93 393.43,433.52 391.45,434.11 C389.48,434.69 387.36,434.83 385.73,434.11 C384.09,433.38 382.80,431.45 381.64,429.77 C380.48,428.09 379.80,426.16 378.77,424.05 C377.75,421.93 375.30,418.66 375.50,417.09 Z" fill="none" stroke="#e85a5a" stroke-width="0.5" />
<path d="M376.52,417.46 C376.71,416.01 378.98,415.62 380.68,415.19 C382.38,414.76 384.59,414.61 386.73,414.89 C388.87,415.17 391.58,415.99 393.54,416.86 C395.49,417.73 397.47,418.62 398.46,420.11 C399.44,421.60 399.69,424.14 399.44,425.78 C399.19,427.42 398.30,428.71 396.94,429.94 C395.58,431.18 393.10,432.65 391.27,433.20 C389.44,433.74 387.49,433.86 385.97,433.20 C384.46,432.53 383.26,430.74 382.19,429.19 C381.12,427.64 380.49,425.85 379.54,423.89 C378.60,421.94 376.33,418.91 376.52,417.46 Z" fill="none" stroke="#e85a5a" stroke-width="0.5" />
<path d="M377.54,417.83 C377.72,416.50 379.80,416.15 381.36,415.75 C382.93,415.36 384.95,415.22 386.92,415.47 C388.88,415.73 391.37,416.48 393.17,417.28 C394.96,418.08 396.78,418.90 397.68,420.26 C398.58,421.63 398.81,423.97 398.58,425.47 C398.35,426.98 397.54,428.16 396.29,429.29 C395.04,430.42 392.76,431.78 391.08,432.27 C389.40,432.77 387.61,432.89 386.22,432.27 C384.83,431.66 383.74,430.02 382.75,428.60 C381.77,427.17 381.19,425.53 380.32,423.74 C379.45,421.94 377.37,419.17 377.54,417.83 Z" fill="none" stroke="#e85a5a" stroke-width="0.5" />
<path d="M378.58,418.21 C378.74,417.00 380.63,416.67 382.05,416.32 C383.47,415.96 385.32,415.83 387.11,416.06 C388.89,416.30 391.16,416.98 392.79,417.71 C394.42,418.43 396.07,419.18 396.89,420.42 C397.71,421.66 397.92,423.79 397.71,425.16 C397.50,426.53 396.77,427.60 395.63,428.63 C394.49,429.66 392.42,430.89 390.89,431.35 C389.37,431.80 387.74,431.90 386.47,431.35 C385.21,430.79 384.21,429.29 383.32,428.00 C382.42,426.70 381.90,425.21 381.11,423.58 C380.32,421.95 378.42,419.42 378.58,418.21 Z" fill="none" stroke="#e85a5a" stroke-width="0.5" />
<path d="M379.63,418.59 C379.77,417.50 381.47,417.21 382.75,416.89 C384.03,416.57 385.69,416.45 387.30,416.66 C388.91,416.87 390.94,417.48 392.41,418.14 C393.87,418.79 395.36,419.46 396.10,420.58 C396.84,421.70 397.03,423.61 396.84,424.84 C396.65,426.07 395.99,427.04 394.96,427.96 C393.94,428.89 392.08,430.00 390.70,430.41 C389.33,430.81 387.86,430.91 386.73,430.41 C385.59,429.90 384.69,428.56 383.89,427.40 C383.08,426.23 382.61,424.89 381.90,423.42 C381.19,421.95 379.49,419.68 379.63,418.59 Z" fill="none" stroke="#e85a5a" stroke-width="0.5" />
<path d="M380.69,418.98 C380.82,418.01 382.33,417.75 383.46,417.47 C384.59,417.18 386.06,417.08 387.49,417.27 C388.92,417.45 390.72,418.00 392.02,418.58 C393.32,419.15 394.64,419.75 395.30,420.74 C395.95,421.73 396.12,423.43 395.95,424.52 C395.78,425.61 395.19,426.47 394.29,427.29 C393.38,428.11 391.73,429.09 390.51,429.45 C389.29,429.81 387.99,429.90 386.99,429.45 C385.98,429.01 385.18,427.82 384.47,426.78 C383.75,425.75 383.33,424.56 382.70,423.26 C382.08,421.96 380.56,419.94 380.69,418.98 Z" fill="none" stroke="#e85a5a" stroke-width="0.5" />
<path d="M381.77,419.37 C381.88,418.53 383.19,418.30 384.18,418.05 C385.16,417.81 386.44,417.72 387.68,417.88 C388.93,418.04 390.50,418.51 391.63,419.02 C392.76,419.52 393.91,420.04 394.48,420.90 C395.05,421.77 395.20,423.24 395.05,424.19 C394.90,425.14 394.39,425.89 393.60,426.60 C392.81,427.32 391.37,428.17 390.32,428.49 C389.26,428.80 388.12,428.88 387.25,428.49 C386.37,428.10 385.68,427.06 385.05,426.16 C384.43,425.27 384.07,424.23 383.52,423.10 C382.97,421.96 381.66,420.21 381.77,419.37 Z" fill="none" stroke="#e85a5a" stroke-width="0.5" />
<path d="M382.86,419.77 C382.95,419.05 384.07,418.86 384.91,418.65 C385.74,418.44 386.83,418.37 387.88,418.50 C388.94,418.64 390.27,419.04 391.23,419.47 C392.19,419.90 393.17,420.34 393.65,421.07 C394.13,421.80 394.26,423.05 394.13,423.86 C394.01,424.67 393.58,425.30 392.91,425.91 C392.24,426.51 391.02,427.24 390.12,427.51 C389.22,427.77 388.26,427.83 387.51,427.51 C386.77,427.18 386.18,426.30 385.65,425.53 C385.12,424.77 384.81,423.89 384.35,422.93 C383.88,421.97 382.77,420.48 382.86,419.77 Z" fill="none" stroke="#e85a5a" stroke-width="0.5" />
<path d="M383.98,420.17 C384.05,419.59 384.97,419.43 385.65,419.26 C386.34,419.09 387.22,419.03 388.09,419.14 C388.95,419.25 390.04,419.58 390.83,419.93 C391.61,420.28 392.41,420.64 392.80,421.24 C393.20,421.84 393.30,422.86 393.20,423.52 C393.10,424.18 392.74,424.70 392.20,425.20 C391.65,425.69 390.65,426.29 389.91,426.50 C389.18,426.72 388.39,426.77 387.78,426.50 C387.17,426.24 386.69,425.52 386.26,424.89 C385.83,424.27 385.58,423.55 385.20,422.76 C384.82,421.97 383.90,420.76 383.98,420.17 Z" fill="none" stroke="#e85a5a" stroke-width="0.5" />
<path d="M385.12,420.59 C385.18,420.14 385.89,420.02 386.42,419.89 C386.94,419.75 387.63,419.71 388.30,419.79 C388.96,419.88 389.80,420.13 390.41,420.40 C391.02,420.67 391.63,420.95 391.94,421.41 C392.24,421.87 392.32,422.67 392.24,423.17 C392.16,423.68 391.89,424.08 391.47,424.47 C391.04,424.85 390.27,425.31 389.70,425.48 C389.14,425.65 388.53,425.68 388.06,425.48 C387.59,425.27 387.22,424.71 386.89,424.23 C386.55,423.75 386.36,423.19 386.06,422.59 C385.77,421.98 385.07,421.04 385.12,420.59 Z" fill="none" stroke="#e85a5a" stroke-width="0.5" />
<path d="M386.31,421.02 C386.35,420.71 386.84,420.62 387.21,420.53 C387.57,420.44 388.05,420.41 388.51,420.47 C388.97,420.53 389.56,420.70 389.98,420.89 C390.40,421.08 390.83,421.27 391.04,421.59 C391.25,421.91 391.31,422.46 391.25,422.82 C391.20,423.17 391.01,423.45 390.71,423.71 C390.42,423.98 389.88,424.30 389.49,424.41 C389.10,424.53 388.67,424.56 388.35,424.41 C388.02,424.27 387.76,423.88 387.53,423.55 C387.30,423.22 387.17,422.83 386.96,422.41 C386.76,421.99 386.27,421.33 386.31,421.02 Z" fill="none" stroke="#e85a5a" stroke-width="0.5" />
<path d="M387.56,421.48 C387.58,421.31 387.84,421.26 388.04,421.21 C388.24,421.16 388.49,421.15 388.74,421.18 C388.99,421.21 389.30,421.31 389.52,421.41 C389.75,421.51 389.98,421.61 390.09,421.78 C390.21,421.95 390.24,422.25 390.21,422.44 C390.18,422.63 390.08,422.77 389.92,422.92 C389.76,423.06 389.47,423.23 389.26,423.29 C389.05,423.36 388.83,423.37 388.65,423.29 C388.48,423.22 388.34,423.01 388.21,422.83 C388.09,422.65 388.02,422.44 387.91,422.22 C387.80,421.99 387.54,421.64 387.56,421.48 Z" fill="none" stroke="#e85a5a" stroke-width="0.5" />
<circle cx="389.00" cy="422.00" r="0.90" fill="#fff" stroke="none" stroke-width="1" />
</g>
<rect x="371.50" y="395.60" width="55.60" height="44.60" fill="none" stroke="#c0282d" stroke-width="1.1" />
<text x="406.20" y="404.30" font-size="5.4" font-weight="bold" fill="#222" textLength="15.90" lengthAdjust="spacingAndGlyphs" >GMPs</text>
<text x="410.00" y="437.00" font-size="5.2" font-weight="bold" fill="#222" textLength="14.00" lengthAdjust="spacingAndGlyphs" >12.9%</text>
<line x1="339.00" y1="484.20" x2="339.00" y2="485.40" stroke="#666" stroke-width="0.4" />
<line x1="342.00" y1="484.20" x2="342.00" y2="485.40" stroke="#666" stroke-width="0.4" />
<line x1="345.00" y1="484.20" x2="345.00" y2="485.40" stroke="#666" stroke-width="0.4" />
<line x1="348.00" y1="484.20" x2="348.00" y2="485.40" stroke="#666" stroke-width="0.4" />
<line x1="351.00" y1="484.20" x2="351.00" y2="485.40" stroke="#666" stroke-width="0.4" />
<line x1="354.00" y1="484.20" x2="354.00" y2="485.40" stroke="#666" stroke-width="0.4" />
<line x1="357.00" y1="484.20" x2="357.00" y2="485.40" stroke="#666" stroke-width="0.4" />
<line x1="360.00" y1="484.20" x2="360.00" y2="485.40" stroke="#666" stroke-width="0.4" />
<line x1="363.00" y1="484.20" x2="363.00" y2="485.40" stroke="#666" stroke-width="0.4" />
<line x1="366.00" y1="484.20" x2="366.00" y2="485.40" stroke="#666" stroke-width="0.4" />
<line x1="369.00" y1="484.20" x2="369.00" y2="485.40" stroke="#666" stroke-width="0.4" />
<line x1="372.00" y1="484.20" x2="372.00" y2="485.40" stroke="#666" stroke-width="0.4" />
<line x1="375.00" y1="484.20" x2="375.00" y2="485.40" stroke="#666" stroke-width="0.4" />
<line x1="378.00" y1="484.20" x2="378.00" y2="485.40" stroke="#666" stroke-width="0.4" />
<line x1="381.00" y1="484.20" x2="381.00" y2="485.40" stroke="#666" stroke-width="0.4" />
<line x1="384.00" y1="484.20" x2="384.00" y2="485.40" stroke="#666" stroke-width="0.4" />
<line x1="387.00" y1="484.20" x2="387.00" y2="485.40" stroke="#666" stroke-width="0.4" />
<line x1="390.00" y1="484.20" x2="390.00" y2="485.40" stroke="#666" stroke-width="0.4" />
<line x1="393.00" y1="484.20" x2="393.00" y2="485.40" stroke="#666" stroke-width="0.4" />
<line x1="396.00" y1="484.20" x2="396.00" y2="485.40" stroke="#666" stroke-width="0.4" />
<line x1="399.00" y1="484.20" x2="399.00" y2="485.40" stroke="#666" stroke-width="0.4" />
<line x1="402.00" y1="484.20" x2="402.00" y2="485.40" stroke="#666" stroke-width="0.4" />
<line x1="405.00" y1="484.20" x2="405.00" y2="485.40" stroke="#666" stroke-width="0.4" />
<line x1="408.00" y1="484.20" x2="408.00" y2="485.40" stroke="#666" stroke-width="0.4" />
<line x1="411.00" y1="484.20" x2="411.00" y2="485.40" stroke="#666" stroke-width="0.4" />
<line x1="414.00" y1="484.20" x2="414.00" y2="485.40" stroke="#666" stroke-width="0.4" />
<line x1="417.00" y1="484.20" x2="417.00" y2="485.40" stroke="#666" stroke-width="0.4" />
<line x1="420.00" y1="484.20" x2="420.00" y2="485.40" stroke="#666" stroke-width="0.4" />
<line x1="423.00" y1="484.20" x2="423.00" y2="485.40" stroke="#666" stroke-width="0.4" />
<line x1="345.00" y1="484.20" x2="345.00" y2="486.40" stroke="#333" stroke-width="0.5" />
<text x="345.00" y="490.50" font-size="4.0" font-weight="normal" fill="#333" font-style="italic" text-anchor="middle" >-10<tspan baseline-shift="48%" font-size="82%">3</tspan></text>
<line x1="359.00" y1="484.20" x2="359.00" y2="486.40" stroke="#333" stroke-width="0.5" />
<text x="359.00" y="490.50" font-size="4.0" font-weight="normal" fill="#333" font-style="italic" text-anchor="middle" >0</text>
<line x1="374.00" y1="484.20" x2="374.00" y2="486.40" stroke="#333" stroke-width="0.5" />
<text x="374.00" y="490.50" font-size="4.0" font-weight="normal" fill="#333" font-style="italic" text-anchor="middle" >10<tspan baseline-shift="48%" font-size="82%">3</tspan></text>
<line x1="398.50" y1="484.20" x2="398.50" y2="486.40" stroke="#333" stroke-width="0.5" />
<text x="398.50" y="490.50" font-size="4.0" font-weight="normal" fill="#333" font-style="italic" text-anchor="middle" >10<tspan baseline-shift="48%" font-size="82%">4</tspan></text>
<line x1="420.00" y1="484.20" x2="420.00" y2="486.40" stroke="#333" stroke-width="0.5" />
<text x="420.00" y="490.50" font-size="4.0" font-weight="normal" fill="#333" font-style="italic" text-anchor="middle" >10<tspan baseline-shift="48%" font-size="82%">5</tspan></text>
<line x1="336.50" y1="396.00" x2="337.70" y2="396.00" stroke="#666" stroke-width="0.4" />
<line x1="336.50" y1="399.00" x2="337.70" y2="399.00" stroke="#666" stroke-width="0.4" />
<line x1="336.50" y1="402.00" x2="337.70" y2="402.00" stroke="#666" stroke-width="0.4" />
<line x1="336.50" y1="405.00" x2="337.70" y2="405.00" stroke="#666" stroke-width="0.4" />
<line x1="336.50" y1="408.00" x2="337.70" y2="408.00" stroke="#666" stroke-width="0.4" />
<line x1="336.50" y1="411.00" x2="337.70" y2="411.00" stroke="#666" stroke-width="0.4" />
<line x1="336.50" y1="414.00" x2="337.70" y2="414.00" stroke="#666" stroke-width="0.4" />
<line x1="336.50" y1="417.00" x2="337.70" y2="417.00" stroke="#666" stroke-width="0.4" />
<line x1="336.50" y1="420.00" x2="337.70" y2="420.00" stroke="#666" stroke-width="0.4" />
<line x1="336.50" y1="423.00" x2="337.70" y2="423.00" stroke="#666" stroke-width="0.4" />
<line x1="336.50" y1="426.00" x2="337.70" y2="426.00" stroke="#666" stroke-width="0.4" />
<line x1="336.50" y1="429.00" x2="337.70" y2="429.00" stroke="#666" stroke-width="0.4" />
<line x1="336.50" y1="432.00" x2="337.70" y2="432.00" stroke="#666" stroke-width="0.4" />
<line x1="336.50" y1="435.00" x2="337.70" y2="435.00" stroke="#666" stroke-width="0.4" />
<line x1="336.50" y1="438.00" x2="337.70" y2="438.00" stroke="#666" stroke-width="0.4" />
<line x1="336.50" y1="441.00" x2="337.70" y2="441.00" stroke="#666" stroke-width="0.4" />
<line x1="336.50" y1="444.00" x2="337.70" y2="444.00" stroke="#666" stroke-width="0.4" />
<line x1="336.50" y1="447.00" x2="337.70" y2="447.00" stroke="#666" stroke-width="0.4" />
<line x1="336.50" y1="450.00" x2="337.70" y2="450.00" stroke="#666" stroke-width="0.4" />
<line x1="336.50" y1="453.00" x2="337.70" y2="453.00" stroke="#666" stroke-width="0.4" />
<line x1="336.50" y1="456.00" x2="337.70" y2="456.00" stroke="#666" stroke-width="0.4" />
<line x1="336.50" y1="459.00" x2="337.70" y2="459.00" stroke="#666" stroke-width="0.4" />
<line x1="336.50" y1="462.00" x2="337.70" y2="462.00" stroke="#666" stroke-width="0.4" />
<line x1="336.50" y1="465.00" x2="337.70" y2="465.00" stroke="#666" stroke-width="0.4" />
<line x1="336.50" y1="468.00" x2="337.70" y2="468.00" stroke="#666" stroke-width="0.4" />
<line x1="336.50" y1="471.00" x2="337.70" y2="471.00" stroke="#666" stroke-width="0.4" />
<line x1="336.50" y1="474.00" x2="337.70" y2="474.00" stroke="#666" stroke-width="0.4" />
<line x1="336.50" y1="477.00" x2="337.70" y2="477.00" stroke="#666" stroke-width="0.4" />
<line x1="336.50" y1="480.00" x2="337.70" y2="480.00" stroke="#666" stroke-width="0.4" />
<line x1="335.50" y1="402.50" x2="337.70" y2="402.50" stroke="#333" stroke-width="0.5" />
<text x="334.70" y="403.80" font-size="4.0" font-weight="normal" fill="#333" font-style="italic" text-anchor="end" >10<tspan baseline-shift="48%" font-size="82%">5</tspan></text>
<line x1="335.50" y1="424.00" x2="337.70" y2="424.00" stroke="#333" stroke-width="0.5" />
<text x="334.70" y="425.30" font-size="4.0" font-weight="normal" fill="#333" font-style="italic" text-anchor="end" >10<tspan baseline-shift="48%" font-size="82%">4</tspan></text>
<line x1="335.50" y1="448.50" x2="337.70" y2="448.50" stroke="#333" stroke-width="0.5" />
<text x="334.70" y="449.80" font-size="4.0" font-weight="normal" fill="#333" font-style="italic" text-anchor="end" >10<tspan baseline-shift="48%" font-size="82%">3</tspan></text>
<line x1="335.50" y1="463.00" x2="337.70" y2="463.00" stroke="#333" stroke-width="0.5" />
<text x="334.70" y="464.30" font-size="4.0" font-weight="normal" fill="#333" font-style="italic" text-anchor="end" >0</text>
<line x1="335.50" y1="478.00" x2="337.70" y2="478.00" stroke="#333" stroke-width="0.5" />
<text x="334.70" y="479.30" font-size="4.0" font-weight="normal" fill="#333" font-style="italic" text-anchor="end" >-10<tspan baseline-shift="48%" font-size="82%">3</tspan></text>
<rect x="335.50" y="462.00" width="1.80" height="3.00" fill="#111" stroke="none" stroke-width="1" />
<rect x="356.00" y="485.00" width="4.50" height="1.60" fill="#111" stroke="none" stroke-width="1" />
<line x1="322.80" y1="498.60" x2="322.80" y2="484.20" stroke="#222" stroke-width="0.6" />
<path d="M322.80,481.70 L324.15,484.70 L321.45,484.70 Z" fill="#222" stroke="none" stroke-width="1" />
<line x1="322.80" y1="498.60" x2="355.80" y2="498.60" stroke="#222" stroke-width="0.6" />
<path d="M358.30,498.60 L355.30,499.95 L355.30,497.25 Z" fill="#222" stroke="none" stroke-width="1" />
<text x="325.30" y="442.60" font-size="7.4" font-weight="normal" fill="#222" text-anchor="middle" textLength="63.20" lengthAdjust="spacingAndGlyphs" transform="rotate(-90 325.30 442.60)" >#BV711 – CD16/32</text>
<text x="366.50" y="501.00" font-size="7.6" font-weight="normal" fill="#222" textLength="51.40" lengthAdjust="spacingAndGlyphs" >#AF647 – CD34</text>
<text x="453.20" y="256.80" font-size="16.6" font-weight="bold" fill="#000" >C</text>
<text x="561.80" y="246.00" font-size="12" font-weight="bold" fill="#000" text-anchor="middle" textLength="128.40" lengthAdjust="spacingAndGlyphs" >Distribution of LMPPs,</text>
<text x="563.40" y="264.50" font-size="12" font-weight="bold" fill="#000" text-anchor="middle" textLength="154.10" lengthAdjust="spacingAndGlyphs" >GMPs and CLPs per tissue</text>
<text x="485.70" y="375.50" font-size="11.5" font-weight="normal" fill="#111" text-anchor="middle" textLength="191.00" lengthAdjust="spacingAndGlyphs" transform="rotate(-90 485.70 375.50)" >Frequency of Lin<tspan baseline-shift="48%" font-size="82%">-</tspan>CD44<tspan baseline-shift="48%" font-size="82%">+</tspan>c-Kit<tspan baseline-shift="48%" font-size="82%">+</tspan> (%)</text>
<text x="512.00" y="474.70" font-size="11.8" font-weight="normal" fill="#111" text-anchor="end" >0</text>
<line x1="512.80" y1="470.50" x2="515.60" y2="470.50" stroke="#000" stroke-width="0.9" />
<text x="512.00" y="441.82" font-size="11.8" font-weight="normal" fill="#111" text-anchor="end" >20</text>
<line x1="512.80" y1="437.62" x2="515.60" y2="437.62" stroke="#000" stroke-width="0.9" />
<text x="512.00" y="408.94" font-size="11.8" font-weight="normal" fill="#111" text-anchor="end" >40</text>
<line x1="512.80" y1="404.74" x2="515.60" y2="404.74" stroke="#000" stroke-width="0.9" />
<text x="512.00" y="376.06" font-size="11.8" font-weight="normal" fill="#111" text-anchor="end" >60</text>
<line x1="512.80" y1="371.86" x2="515.60" y2="371.86" stroke="#000" stroke-width="0.9" />
<text x="512.00" y="343.18" font-size="11.8" font-weight="normal" fill="#111" text-anchor="end" >80</text>
<line x1="512.80" y1="338.98" x2="515.60" y2="338.98" stroke="#000" stroke-width="0.9" />
<text x="512.00" y="310.30" font-size="11.8" font-weight="normal" fill="#111" text-anchor="end" >100</text>
<line x1="512.80" y1="306.10" x2="515.60" y2="306.10" stroke="#000" stroke-width="0.9" />
<rect x="534.30" y="431.21" width="35.00" height="39.29" fill="#fdbd7d" stroke="#222" stroke-width="0.9" />
<rect x="534.30" y="386.16" width="35.00" height="45.05" fill="#ff7b7b" stroke="#222" stroke-width="0.9" />
<rect x="534.30" y="322.54" width="35.00" height="63.62" fill="#44eeaa" stroke="#222" stroke-width="0.9" />
<rect x="534.30" y="306.10" width="35.00" height="16.44" fill="#d3d3d3" stroke="#222" stroke-width="0.9" />
<line x1="551.80" y1="470.50" x2="551.80" y2="473.50" stroke="#000" stroke-width="0.9" />
<rect x="587.70" y="362.65" width="35.00" height="107.85" fill="#fdbd7d" stroke="#222" stroke-width="0.9" />
<rect x="587.70" y="358.54" width="35.00" height="4.11" fill="#ff7b7b" stroke="#222" stroke-width="0.9" />
<rect x="587.70" y="320.24" width="35.00" height="38.31" fill="#44eeaa" stroke="#222" stroke-width="0.9" />
<rect x="587.70" y="306.10" width="35.00" height="14.14" fill="#d3d3d3" stroke="#222" stroke-width="0.9" />
<line x1="605.20" y1="470.50" x2="605.20" y2="473.50" stroke="#000" stroke-width="0.9" />
<line x1="551.80" y1="306.10" x2="551.80" y2="298.04" stroke="#333" stroke-width="0.9" />
<line x1="542.80" y1="298.04" x2="560.80" y2="298.04" stroke="#333" stroke-width="0.9" />
<line x1="551.80" y1="322.54" x2="551.80" y2="320.57" stroke="#555" stroke-width="0.9" />
<line x1="542.80" y1="320.57" x2="560.80" y2="320.57" stroke="#555" stroke-width="0.9" />
<line x1="551.80" y1="386.16" x2="551.80" y2="381.07" stroke="#444" stroke-width="0.9" />
<line x1="542.80" y1="381.07" x2="560.80" y2="381.07" stroke="#444" stroke-width="0.9" />
<line x1="551.80" y1="431.21" x2="551.80" y2="426.77" stroke="#666" stroke-width="0.9" />
<line x1="542.80" y1="426.77" x2="560.80" y2="426.77" stroke="#666" stroke-width="0.9" />
<line x1="605.20" y1="306.10" x2="605.20" y2="302.15" stroke="#333" stroke-width="0.9" />
<line x1="596.20" y1="302.15" x2="614.20" y2="302.15" stroke="#333" stroke-width="0.9" />
<line x1="605.20" y1="320.24" x2="605.20" y2="318.27" stroke="#444" stroke-width="0.9" />
<line x1="596.20" y1="318.27" x2="614.20" y2="318.27" stroke="#444" stroke-width="0.9" />
<line x1="605.20" y1="362.65" x2="605.20" y2="358.21" stroke="#444" stroke-width="0.9" />
<line x1="596.20" y1="358.21" x2="614.20" y2="358.21" stroke="#444" stroke-width="0.9" />
<line x1="605.20" y1="358.54" x2="605.20" y2="357.06" stroke="#555" stroke-width="0.9" />
<line x1="596.20" y1="357.06" x2="614.20" y2="357.06" stroke="#555" stroke-width="0.9" />
<line x1="515.60" y1="289.50" x2="515.60" y2="470.50" stroke="#000" stroke-width="1" />
<line x1="515.60" y1="470.50" x2="641.00" y2="470.50" stroke="#000" stroke-width="1" />
<text x="552.10" y="486.40" font-size="12" font-weight="normal" fill="#111" text-anchor="middle" textLength="21.50" lengthAdjust="spacingAndGlyphs" >BM</text>
<text x="606.00" y="486.40" font-size="12" font-weight="normal" fill="#111" text-anchor="middle" textLength="50.00" lengthAdjust="spacingAndGlyphs" >Thymus</text>
<rect x="635.40" y="307.40" width="6.20" height="9.00" fill="#fdbd7d" stroke="#333" stroke-width="0.8" />
<text x="645.60" y="315.70" font-size="11.6" font-weight="normal" fill="#111" >LMPPs</text>
<rect x="635.40" y="323.60" width="6.20" height="9.00" fill="#ff7b7b" stroke="#333" stroke-width="0.8" />
<text x="645.60" y="331.90" font-size="11.6" font-weight="normal" fill="#111" >GMPs</text>
<rect x="635.40" y="339.80" width="6.20" height="9.00" fill="#44eeaa" stroke="#333" stroke-width="0.8" />
<text x="645.60" y="348.10" font-size="11.6" font-weight="normal" fill="#111" >CLPs</text>
<rect x="635.40" y="356.00" width="6.20" height="9.00" fill="#d3d3d3" stroke="#333" stroke-width="0.8" />
<text x="645.60" y="364.30" font-size="11.6" font-weight="normal" fill="#111" >Others</text>
<text x="23.20" y="531.40" font-size="16.3" font-weight="bold" fill="#000" >D</text>
<text x="158.70" y="519.70" font-size="12" font-weight="bold" fill="#000" text-anchor="middle" textLength="156.30" lengthAdjust="spacingAndGlyphs" >Thymic progenitors show a</text>
<text x="159.60" y="537.00" font-size="12" font-weight="bold" fill="#000" text-anchor="middle" textLength="153.80" lengthAdjust="spacingAndGlyphs" >history of Rag1 expression</text>
<text x="66.30" y="573.00" font-size="16.5" font-weight="bold" fill="#000" text-anchor="middle" textLength="53.10" lengthAdjust="spacingAndGlyphs" >LMPPs</text>
<text x="66.70" y="589.20" font-size="8.8" font-weight="normal" fill="#111" text-anchor="middle" textLength="117.70" lengthAdjust="spacingAndGlyphs" >(Lin<tspan baseline-shift="48%" font-size="82%">-</tspan> Sca-1<tspan baseline-shift="48%" font-size="82%">+</tspan> c-Kit<tspan baseline-shift="48%" font-size="82%">+</tspan> CD34<tspan baseline-shift="48%" font-size="82%">+</tspan>)</text>
<text x="228.30" y="573.00" font-size="16.5" font-weight="bold" fill="#000" text-anchor="middle" textLength="44.60" lengthAdjust="spacingAndGlyphs" >GMPs</text>
<text x="228.80" y="589.20" font-size="8.8" font-weight="normal" fill="#111" text-anchor="middle" textLength="162.80" lengthAdjust="spacingAndGlyphs" >(Lin<tspan baseline-shift="48%" font-size="82%">-</tspan> Sca-1<tspan baseline-shift="48%" font-size="82%">+</tspan> c-Kit<tspan baseline-shift="48%" font-size="82%">+</tspan> CD34<tspan baseline-shift="48%" font-size="82%">+</tspan> CD16/32<tspan baseline-shift="48%" font-size="82%">+</tspan>)</text>
<text x="26.30" y="741.10" font-size="10.2" font-weight="bold" fill="#000" text-anchor="end" >0</text>
<line x1="26.30" y1="737.60" x2="28.10" y2="737.60" stroke="#000" stroke-width="0.8" />
<text x="26.30" y="712.12" font-size="10.2" font-weight="bold" fill="#000" text-anchor="end" >25</text>
<line x1="26.30" y1="708.62" x2="28.10" y2="708.62" stroke="#000" stroke-width="0.8" />
<text x="26.30" y="683.15" font-size="10.2" font-weight="bold" fill="#000" text-anchor="end" >50</text>
<line x1="26.30" y1="679.65" x2="28.10" y2="679.65" stroke="#000" stroke-width="0.8" />
<text x="26.30" y="654.18" font-size="10.2" font-weight="bold" fill="#000" text-anchor="end" >75</text>
<line x1="26.30" y1="650.68" x2="28.10" y2="650.68" stroke="#000" stroke-width="0.8" />
<text x="26.30" y="625.20" font-size="10.2" font-weight="bold" fill="#000" text-anchor="end" >100</text>
<line x1="26.30" y1="621.70" x2="28.10" y2="621.70" stroke="#000" stroke-width="0.8" />
<rect x="41.00" y="621.70" width="24.00" height="10.43" fill="#e6e496" stroke="#b4b060" stroke-width="0.5" />
<rect x="41.00" y="632.13" width="24.00" height="105.47" fill="#d4d4d4" stroke="#9a9a9a" stroke-width="0.5" />
<line x1="41.00" y1="632.13" x2="65.00" y2="632.13" stroke="#666" stroke-width="0.6" />
<line x1="53.00" y1="621.70" x2="53.00" y2="620.66" stroke="#888" stroke-width="0.6" />
<line x1="47.50" y1="620.66" x2="58.50" y2="620.66" stroke="#888" stroke-width="0.9" />
<line x1="53.00" y1="632.13" x2="53.00" y2="631.20" stroke="#888" stroke-width="0.6" />
<line x1="47.50" y1="631.20" x2="58.50" y2="631.20" stroke="#888" stroke-width="0.9" />
<line x1="53.00" y1="737.60" x2="53.00" y2="740.10" stroke="#000" stroke-width="0.8" />
<rect x="77.00" y="621.70" width="24.80" height="95.62" fill="#e6e496" stroke="#b4b060" stroke-width="0.5" />
<rect x="77.00" y="717.32" width="24.80" height="20.28" fill="#d4d4d4" stroke="#9a9a9a" stroke-width="0.5" />
<line x1="77.00" y1="717.32" x2="101.80" y2="717.32" stroke="#666" stroke-width="0.6" />
<line x1="83.90" y1="616.37" x2="94.90" y2="616.37" stroke="#aaa" stroke-width="0.9" />
<line x1="83.90" y1="713.26" x2="94.90" y2="713.26" stroke="#aaa" stroke-width="0.9" />
<line x1="89.40" y1="737.60" x2="89.40" y2="740.10" stroke="#000" stroke-width="0.8" />
<line x1="28.10" y1="620.70" x2="28.10" y2="737.60" stroke="#000" stroke-width="0.9" />
<line x1="28.10" y1="737.60" x2="114.20" y2="737.60" stroke="#000" stroke-width="0.9" />
<path d="M52.1,609.5 L52.1,607.3 L89.4,607.3 L89.4,609.5" fill="none" stroke="#000" stroke-width="0.8" />
<text x="70.75" y="609.90" font-size="12.5" font-weight="bold" fill="#000" text-anchor="middle" letter-spacing="0.9">****</text>
<rect x="111.70" y="617.30" width="5.00" height="10.00" fill="#d4d4d4" stroke="#999" stroke-width="0.5" />
<rect x="111.70" y="636.70" width="5.00" height="10.00" fill="#e6e496" stroke="#aaa050" stroke-width="0.5" />
<text x="118.70" y="628.50" font-size="11.6" font-weight="normal" fill="#000" >YFP<tspan baseline-shift="48%" font-size="82%">-</tspan></text>
<text x="118.70" y="645.90" font-size="11.6" font-weight="normal" fill="#000" >YFP<tspan baseline-shift="48%" font-size="82%">+</tspan></text>
<text x="6.40" y="675.00" font-size="6.7" font-weight="bold" fill="#000" text-anchor="middle" textLength="124.00" lengthAdjust="spacingAndGlyphs" transform="rotate(-90 6.40 675.00)" >Frequency of YFP<tspan baseline-shift="super" font-size="70%">+</tspan> in population (%)</text>
<text x="52.90" y="749.60" font-size="9.5" font-weight="bold" fill="#000" text-anchor="middle" >BM</text>
<text x="89.70" y="749.60" font-size="9.5" font-weight="bold" fill="#000" text-anchor="middle" textLength="37.00" lengthAdjust="spacingAndGlyphs" >Thymus</text>
<text x="187.60" y="740.80" font-size="10.2" font-weight="bold" fill="#000" text-anchor="end" >0</text>
<line x1="187.60" y1="737.30" x2="189.40" y2="737.30" stroke="#000" stroke-width="0.8" />
<text x="187.60" y="711.67" font-size="10.2" font-weight="bold" fill="#000" text-anchor="end" >25</text>
<line x1="187.60" y1="708.17" x2="189.40" y2="708.17" stroke="#000" stroke-width="0.8" />
<text x="187.60" y="682.55" font-size="10.2" font-weight="bold" fill="#000" text-anchor="end" >50</text>
<line x1="187.60" y1="679.05" x2="189.40" y2="679.05" stroke="#000" stroke-width="0.8" />
<text x="187.60" y="653.42" font-size="10.2" font-weight="bold" fill="#000" text-anchor="end" >75</text>
<line x1="187.60" y1="649.92" x2="189.40" y2="649.92" stroke="#000" stroke-width="0.8" />
<text x="187.60" y="624.30" font-size="10.2" font-weight="bold" fill="#000" text-anchor="end" >100</text>
<line x1="187.60" y1="620.80" x2="189.40" y2="620.80" stroke="#000" stroke-width="0.8" />
<rect x="202.20" y="620.80" width="24.40" height="2.80" fill="#e6e496" stroke="#b4b060" stroke-width="0.5" />
<rect x="202.20" y="623.60" width="24.40" height="113.70" fill="#d4d4d4" stroke="#9a9a9a" stroke-width="0.5" />
<line x1="202.20" y1="623.60" x2="226.60" y2="623.60" stroke="#666" stroke-width="0.6" />
<line x1="214.40" y1="620.80" x2="214.40" y2="620.10" stroke="#888" stroke-width="0.6" />
<line x1="208.90" y1="620.10" x2="219.90" y2="620.10" stroke="#888" stroke-width="0.9" />
<line x1="214.40" y1="623.60" x2="214.40" y2="623.13" stroke="#888" stroke-width="0.6" />
<line x1="208.90" y1="623.13" x2="219.90" y2="623.13" stroke="#888" stroke-width="0.9" />
<line x1="214.40" y1="737.30" x2="214.40" y2="739.80" stroke="#000" stroke-width="0.8" />
<rect x="239.30" y="620.80" width="23.90" height="76.89" fill="#e6e496" stroke="#b4b060" stroke-width="0.5" />
<rect x="239.30" y="697.69" width="23.90" height="39.61" fill="#d4d4d4" stroke="#9a9a9a" stroke-width="0.5" />
<line x1="239.30" y1="697.69" x2="263.20" y2="697.69" stroke="#666" stroke-width="0.6" />
<line x1="251.25" y1="620.80" x2="251.25" y2="612.88" stroke="#d0d0d0" stroke-width="0.6" />
<line x1="245.75" y1="612.88" x2="256.75" y2="612.88" stroke="#d0d0d0" stroke-width="0.9" />
<line x1="251.25" y1="697.69" x2="251.25" y2="690.70" stroke="#bbbbbb" stroke-width="0.6" />
<line x1="245.75" y1="690.70" x2="256.75" y2="690.70" stroke="#bbbbbb" stroke-width="0.9" />
<line x1="251.25" y1="737.30" x2="251.25" y2="739.80" stroke="#000" stroke-width="0.8" />
<line x1="189.40" y1="619.80" x2="189.40" y2="737.30" stroke="#000" stroke-width="0.9" />
<line x1="189.40" y1="737.30" x2="270.00" y2="737.30" stroke="#000" stroke-width="0.9" />
<path d="M214.4,609.9 L214.4,607.7 L250.4,607.7 L250.4,609.9" fill="none" stroke="#000" stroke-width="0.8" />
<text x="232.40" y="610.30" font-size="12.5" font-weight="bold" fill="#000" text-anchor="middle" letter-spacing="0.9">***</text>
<rect x="271.50" y="616.40" width="5.00" height="10.00" fill="#d4d4d4" stroke="#999" stroke-width="0.5" />
<rect x="271.50" y="635.80" width="5.00" height="10.00" fill="#e6e496" stroke="#aaa050" stroke-width="0.5" />
<text x="278.50" y="627.60" font-size="11.6" font-weight="normal" fill="#000" >YFP<tspan baseline-shift="48%" font-size="82%">-</tspan></text>
<text x="278.50" y="645.00" font-size="11.6" font-weight="normal" fill="#000" >YFP<tspan baseline-shift="48%" font-size="82%">+</tspan></text>
<text x="166.40" y="670.00" font-size="6.7" font-weight="bold" fill="#000" text-anchor="middle" textLength="124.00" lengthAdjust="spacingAndGlyphs" transform="rotate(-90 166.40 670.00)" >Frequency of YFP<tspan baseline-shift="super" font-size="70%">+</tspan> in population (%)</text>
<text x="214.20" y="748.70" font-size="9.3" font-weight="bold" fill="#000" text-anchor="middle" >BM</text>
<text x="251.10" y="748.70" font-size="9.3" font-weight="bold" fill="#000" text-anchor="middle" textLength="37.40" lengthAdjust="spacingAndGlyphs" >Thymus</text>
<text x="325.60" y="529.50" font-size="16.3" font-weight="bold" fill="#000" >E</text>
<text x="518.95" y="519.60" font-size="12" font-weight="bold" fill="#000" text-anchor="middle" textLength="252.30" lengthAdjust="spacingAndGlyphs" >Thymic neutrophils show a history of Ms4a3</text>
<text x="520.25" y="537.10" font-size="12" font-weight="bold" fill="#000" text-anchor="middle" textLength="303.30" lengthAdjust="spacingAndGlyphs" >expression alike to bone marrow-derived neutrophils</text>
<path d="M327.8,598.5 C327.2,596.2 329.2,595.4 330.8,597.0 C331.2,595.2 332.4,593.2 334.6,593.0 C333.8,591.5 336.0,591.0 337.5,592.2 C339.6,593.5 339.2,596.5 337.2,597.6 C335.6,598.6 334.4,599.6 334.0,602.3 L336.9,623.4 C336.9,625.2 333.0,625.4 332.8,624.0 L329.7,605.4 C328.7,602.8 328.0,600.6 327.8,598.5 Z" fill="#d7b488" stroke="none" stroke-width="1" />
<path d="M330.6,605.6 L333.3,605.1 L336.0,623.0 L333.7,623.6 Z" fill="#bf4a3c" stroke="none" stroke-width="1" />
<path d="M337.13,702.47 C338.86,702.92 340.14,708.04 340.78,712.52 C341.16,717.32 340.39,720.97 338.22,721.10 C335.66,721.10 333.74,720.97 333.61,716.36 C334.12,711.24 334.76,706.76 335.53,702.60 Z" fill="#e9a765" stroke="none" stroke-width="1" opacity="1.0"/>
<path d="M331.18,700.87 C332.97,701.51 334.25,706.76 334.95,711.88 C335.66,716.68 334.76,720.97 332.14,721.10 C327.34,721.10 325.93,720.97 325.80,716.36 C326.57,711.24 327.53,706.76 329.38,700.87 Z" fill="#eeb276" stroke="none" stroke-width="1" opacity="1.0"/>
<rect x="367.30" y="560.20" width="77.70" height="76.80" fill="#fff" stroke="#a8a8a8" stroke-width="0.8" />
<g opacity="0.65">
<path d="M388.00,598.00 C389.08,594.83 389.33,590.62 391.00,588.00 C392.67,585.38 394.83,583.50 398.00,582.30 C401.17,581.10 406.33,580.63 410.00,580.80 C413.67,580.97 417.75,581.93 420.00,583.30 C422.25,584.67 423.83,587.22 423.50,589.00 C423.17,590.78 420.58,592.92 418.00,594.00 C415.42,595.08 411.00,594.42 408.00,595.50 C405.00,596.58 401.92,598.08 400.00,600.50 C398.08,602.92 397.83,607.17 396.50,610.00 C395.17,612.83 393.83,616.25 392.00,617.50 C390.17,618.75 386.75,619.25 385.50,617.50 C384.25,615.75 384.08,610.25 384.50,607.00 C384.92,603.75 386.92,601.17 388.00,598.00 Z" fill="#9c9c9c" stroke="none" stroke-width="1" opacity="0.08"/>
<path d="M388.00,598.00 C389.08,594.83 389.33,590.62 391.00,588.00 C392.67,585.38 394.83,583.50 398.00,582.30 C401.17,581.10 406.33,580.63 410.00,580.80 C413.67,580.97 417.75,581.93 420.00,583.30 C422.25,584.67 423.83,587.22 423.50,589.00 C423.17,590.78 420.58,592.92 418.00,594.00 C415.42,595.08 411.00,594.42 408.00,595.50 C405.00,596.58 401.92,598.08 400.00,600.50 C398.08,602.92 397.83,607.17 396.50,610.00 C395.17,612.83 393.83,616.25 392.00,617.50 C390.17,618.75 386.75,619.25 385.50,617.50 C384.25,615.75 384.08,610.25 384.50,607.00 C384.92,603.75 386.92,601.17 388.00,598.00 Z" fill="none" stroke="#9c9c9c" stroke-width="0.5" />
<path d="M389.69,597.15 C390.67,594.30 390.89,590.51 392.39,588.15 C393.89,585.79 395.85,584.10 398.70,583.02 C401.55,581.94 406.20,581.52 409.50,581.67 C412.80,581.82 416.48,582.69 418.51,583.92 C420.53,585.15 421.96,587.44 421.66,589.05 C421.36,590.66 419.03,592.58 416.71,593.55 C414.38,594.53 410.40,593.93 407.70,594.90 C405.00,595.88 402.22,597.23 400.50,599.41 C398.77,601.58 398.55,605.41 397.35,607.96 C396.15,610.51 394.94,613.59 393.29,614.71 C391.64,615.84 388.57,616.29 387.44,614.71 C386.32,613.14 386.17,608.18 386.54,605.26 C386.92,602.33 388.72,600.01 389.69,597.15 Z" fill="none" stroke="#9c9c9c" stroke-width="0.5" />
<path d="M391.37,596.32 C392.24,593.78 392.44,590.40 393.77,588.30 C395.11,586.20 396.85,584.69 399.39,583.73 C401.93,582.76 406.07,582.39 409.01,582.52 C411.95,582.66 415.22,583.43 417.03,584.53 C418.83,585.62 420.10,587.67 419.84,589.10 C419.57,590.53 417.50,592.24 415.43,593.11 C413.35,593.98 409.81,593.44 407.41,594.31 C405.00,595.18 402.53,596.38 400.99,598.32 C399.45,600.26 399.25,603.67 398.18,605.94 C397.11,608.21 396.05,610.95 394.57,611.95 C393.10,612.96 390.36,613.36 389.36,611.95 C388.36,610.55 388.23,606.14 388.56,603.53 C388.89,600.93 390.50,598.86 391.37,596.32 Z" fill="none" stroke="#9c9c9c" stroke-width="0.5" />
<path d="M393.02,595.49 C393.79,593.26 393.96,590.29 395.14,588.44 C396.31,586.60 397.84,585.27 400.07,584.43 C402.30,583.58 405.94,583.25 408.52,583.37 C411.11,583.49 413.98,584.17 415.57,585.13 C417.15,586.10 418.27,587.89 418.03,589.15 C417.80,590.40 415.98,591.91 414.16,592.67 C412.34,593.43 409.23,592.96 407.11,593.73 C405.00,594.49 402.83,595.55 401.48,597.25 C400.13,598.95 399.95,601.95 399.01,603.94 C398.07,605.94 397.13,608.34 395.84,609.23 C394.55,610.11 392.14,610.46 391.26,609.23 C390.38,607.99 390.26,604.12 390.56,601.83 C390.85,599.54 392.26,597.72 393.02,595.49 Z" fill="none" stroke="#9c9c9c" stroke-width="0.5" />
<path d="M394.66,594.67 C395.32,592.74 395.47,590.18 396.48,588.59 C397.50,587.00 398.82,585.85 400.74,585.12 C402.67,584.39 405.81,584.11 408.04,584.21 C410.27,584.31 412.76,584.90 414.12,585.73 C415.49,586.56 416.46,588.11 416.25,589.20 C416.05,590.28 414.48,591.58 412.91,592.24 C411.34,592.90 408.65,592.49 406.82,593.15 C405.00,593.81 403.12,594.72 401.96,596.19 C400.79,597.66 400.64,600.25 399.83,601.97 C399.02,603.69 398.21,605.77 397.09,606.53 C395.98,607.29 393.90,607.60 393.14,606.53 C392.38,605.47 392.28,602.12 392.53,600.14 C392.78,598.17 394.00,596.60 394.66,594.67 Z" fill="none" stroke="#9c9c9c" stroke-width="0.5" />
<path d="M396.27,593.86 C396.83,592.24 396.96,590.07 397.81,588.73 C398.67,587.39 399.78,586.42 401.41,585.80 C403.03,585.19 405.68,584.95 407.57,585.03 C409.45,585.12 411.55,585.62 412.70,586.32 C413.86,587.02 414.67,588.33 414.50,589.24 C414.33,590.16 413.00,591.25 411.67,591.81 C410.35,592.37 408.08,592.02 406.54,592.58 C405.00,593.14 403.42,593.91 402.43,595.15 C401.45,596.39 401.32,598.57 400.64,600.02 C399.95,601.48 399.27,603.23 398.33,603.87 C397.38,604.52 395.63,604.77 394.99,603.87 C394.35,602.98 394.26,600.15 394.48,598.48 C394.69,596.82 395.72,595.49 396.27,593.86 Z" fill="none" stroke="#9c9c9c" stroke-width="0.5" />
<path d="M397.86,593.07 C398.31,591.74 398.42,589.97 399.12,588.87 C399.82,587.77 400.73,586.98 402.06,586.48 C403.39,585.97 405.56,585.78 407.10,585.85 C408.64,585.92 410.36,586.32 411.30,586.90 C412.25,587.47 412.91,588.54 412.77,589.29 C412.63,590.04 411.55,590.94 410.46,591.39 C409.38,591.85 407.52,591.57 406.26,592.02 C405.00,592.48 403.70,593.11 402.90,594.12 C402.09,595.14 401.99,596.92 401.43,598.11 C400.87,599.30 400.31,600.74 399.54,601.26 C398.77,601.79 397.33,602.00 396.81,601.26 C396.28,600.53 396.21,598.22 396.39,596.85 C396.56,595.49 397.40,594.40 397.86,593.07 Z" fill="none" stroke="#9c9c9c" stroke-width="0.5" />
<path d="M399.41,592.29 C399.77,591.25 399.85,589.87 400.40,589.01 C400.95,588.15 401.66,587.53 402.70,587.13 C403.74,586.74 405.44,586.59 406.64,586.64 C407.85,586.70 409.19,587.01 409.93,587.46 C410.67,587.91 411.19,588.75 411.08,589.34 C410.97,589.92 410.12,590.62 409.27,590.98 C408.42,591.33 406.97,591.12 405.99,591.47 C405.00,591.83 403.99,592.32 403.36,593.12 C402.73,593.91 402.64,595.31 402.21,596.24 C401.77,597.17 401.33,598.29 400.73,598.70 C400.13,599.11 399.00,599.28 398.59,598.70 C398.18,598.13 398.13,596.32 398.26,595.25 C398.40,594.18 399.06,593.33 399.41,592.29 Z" fill="none" stroke="#9c9c9c" stroke-width="0.5" />
<path d="M400.93,591.54 C401.19,590.78 401.25,589.77 401.65,589.14 C402.05,588.51 402.57,588.06 403.32,587.78 C404.08,587.49 405.32,587.38 406.20,587.42 C407.08,587.46 408.05,587.69 408.59,588.02 C409.13,588.34 409.51,588.95 409.43,589.38 C409.35,589.81 408.73,590.32 408.11,590.58 C407.49,590.84 406.44,590.68 405.72,590.94 C405.00,591.20 404.26,591.56 403.80,592.13 C403.34,592.71 403.28,593.73 402.96,594.41 C402.64,595.09 402.33,595.91 401.89,596.21 C401.45,596.51 400.63,596.63 400.33,596.21 C400.03,595.79 399.99,594.47 400.09,593.69 C400.19,592.91 400.67,592.29 400.93,591.54 Z" fill="none" stroke="#9c9c9c" stroke-width="0.5" />
<path d="M402.39,590.80 C402.56,590.32 402.60,589.67 402.85,589.27 C403.11,588.87 403.44,588.58 403.93,588.40 C404.41,588.21 405.20,588.14 405.77,588.17 C406.33,588.19 406.95,588.34 407.30,588.55 C407.64,588.76 407.89,589.15 407.84,589.42 C407.79,589.70 407.39,590.02 406.99,590.19 C406.60,590.36 405.92,590.25 405.46,590.42 C405.00,590.59 404.53,590.82 404.23,591.19 C403.94,591.56 403.90,592.21 403.70,592.64 C403.49,593.08 403.29,593.60 403.01,593.79 C402.73,593.98 402.20,594.06 402.01,593.79 C401.82,593.52 401.79,592.68 401.86,592.18 C401.92,591.68 402.23,591.29 402.39,590.80 Z" fill="none" stroke="#9c9c9c" stroke-width="0.5" />
<path d="M403.78,590.11 C403.86,589.88 403.88,589.58 404.00,589.39 C404.12,589.21 404.27,589.07 404.50,588.99 C404.73,588.90 405.10,588.87 405.36,588.88 C405.62,588.89 405.91,588.96 406.07,589.06 C406.23,589.15 406.35,589.34 406.32,589.46 C406.30,589.59 406.11,589.74 405.93,589.82 C405.75,589.90 405.43,589.85 405.21,589.93 C405.00,590.01 404.78,590.11 404.64,590.29 C404.51,590.46 404.49,590.76 404.39,590.97 C404.30,591.17 404.20,591.41 404.07,591.50 C403.94,591.59 403.69,591.63 403.61,591.50 C403.52,591.38 403.50,590.98 403.53,590.75 C403.56,590.52 403.71,590.33 403.78,590.11 Z" fill="none" stroke="#9c9c9c" stroke-width="0.5" />
</g>
<ellipse cx="387.5" cy="618.2" rx="6.5" ry="2.6" fill="#a0a0a0" opacity="0.55" filter="url(#bl08)"/>
<g opacity="0.85">
<path d="M421.00,584.00 C422.28,582.72 425.25,581.80 427.00,582.30 C428.75,582.80 430.67,584.72 431.50,587.00 C432.33,589.28 432.33,593.50 432.00,596.00 C431.67,598.50 430.92,600.80 429.50,602.00 C428.08,603.20 425.12,603.87 423.50,603.20 C421.88,602.53 420.50,600.20 419.80,598.00 C419.10,595.80 419.10,592.33 419.30,590.00 C419.50,587.67 419.72,585.28 421.00,584.00 Z" fill="#e04848" stroke="none" stroke-width="1" opacity="0.25"/>
<path d="M421.00,584.00 C422.28,582.72 425.25,581.80 427.00,582.30 C428.75,582.80 430.67,584.72 431.50,587.00 C432.33,589.28 432.33,593.50 432.00,596.00 C431.67,598.50 430.92,600.80 429.50,602.00 C428.08,603.20 425.12,603.87 423.50,603.20 C421.88,602.53 420.50,600.20 419.80,598.00 C419.10,595.80 419.10,592.33 419.30,590.00 C419.50,587.67 419.72,585.28 421.00,584.00 Z" fill="none" stroke="#e04848" stroke-width="0.5" />
<path d="M421.41,584.66 C422.59,583.48 425.31,582.64 426.92,583.10 C428.52,583.56 430.28,585.32 431.05,587.41 C431.81,589.51 431.81,593.38 431.51,595.67 C431.20,597.97 430.51,600.08 429.21,601.18 C427.91,602.28 425.19,602.89 423.71,602.28 C422.22,601.67 420.95,599.53 420.31,597.51 C419.67,595.49 419.67,592.31 419.85,590.16 C420.03,588.02 420.23,585.84 421.41,584.66 Z" fill="none" stroke="#e04848" stroke-width="0.5" />
<path d="M421.83,585.32 C422.90,584.25 425.37,583.49 426.83,583.90 C428.30,584.32 429.90,585.92 430.59,587.83 C431.29,589.73 431.29,593.25 431.01,595.34 C430.73,597.43 430.10,599.35 428.92,600.35 C427.74,601.35 425.26,601.91 423.91,601.35 C422.56,600.79 421.41,598.85 420.82,597.01 C420.24,595.17 420.24,592.28 420.41,590.33 C420.57,588.38 420.75,586.39 421.83,585.32 Z" fill="none" stroke="#e04848" stroke-width="0.5" />
<path d="M422.25,585.99 C423.21,585.03 425.44,584.34 426.75,584.72 C428.06,585.09 429.50,586.53 430.13,588.25 C430.76,589.96 430.76,593.13 430.50,595.00 C430.25,596.88 429.69,598.61 428.63,599.51 C427.56,600.41 425.34,600.91 424.12,600.41 C422.91,599.91 421.87,598.16 421.35,596.50 C420.82,594.85 420.82,592.25 420.97,590.50 C421.12,588.75 421.28,586.96 422.25,585.99 Z" fill="none" stroke="#e04848" stroke-width="0.5" />
<path d="M422.67,586.67 C423.53,585.82 425.50,585.21 426.67,585.54 C427.83,585.87 429.11,587.15 429.66,588.67 C430.22,590.19 430.22,593.00 429.99,594.66 C429.77,596.33 429.27,597.86 428.33,598.66 C427.39,599.46 425.41,599.90 424.34,599.46 C423.26,599.01 422.34,597.46 421.87,595.99 C421.41,594.53 421.41,592.22 421.54,590.67 C421.67,589.11 421.82,587.53 422.67,586.67 Z" fill="none" stroke="#e04848" stroke-width="0.5" />
<path d="M423.10,587.36 C423.85,586.62 425.57,586.09 426.58,586.38 C427.59,586.67 428.70,587.78 429.19,589.10 C429.67,590.43 429.67,592.87 429.48,594.32 C429.28,595.77 428.85,597.10 428.03,597.80 C427.21,598.49 425.49,598.88 424.55,598.49 C423.61,598.10 422.81,596.75 422.41,595.48 C422.00,594.20 422.00,592.19 422.12,590.84 C422.23,589.49 422.36,588.11 423.10,587.36 Z" fill="none" stroke="#e04848" stroke-width="0.5" />
<path d="M423.54,588.07 C424.17,587.43 425.63,586.98 426.49,587.23 C427.35,587.48 428.30,588.42 428.71,589.54 C429.11,590.66 429.11,592.74 428.95,593.97 C428.79,595.20 428.42,596.33 427.72,596.92 C427.02,597.51 425.57,597.84 424.77,597.51 C423.98,597.18 423.29,596.03 422.95,594.95 C422.61,593.87 422.61,592.16 422.70,591.02 C422.80,589.87 422.91,588.70 423.54,588.07 Z" fill="none" stroke="#e04848" stroke-width="0.5" />
<path d="M423.99,588.78 C424.50,588.26 425.70,587.90 426.40,588.10 C427.11,588.30 427.88,589.07 428.21,589.99 C428.55,590.91 428.55,592.60 428.41,593.61 C428.28,594.62 427.98,595.54 427.41,596.02 C426.84,596.51 425.64,596.77 424.99,596.51 C424.34,596.24 423.79,595.30 423.51,594.41 C423.22,593.53 423.22,592.13 423.30,591.20 C423.38,590.26 423.47,589.30 423.99,588.78 Z" fill="none" stroke="#e04848" stroke-width="0.5" />
<path d="M424.45,589.52 C424.85,589.12 425.77,588.83 426.31,588.99 C426.85,589.14 427.45,589.74 427.71,590.45 C427.97,591.16 427.97,592.47 427.86,593.24 C427.76,594.02 427.53,594.73 427.09,595.11 C426.65,595.48 425.73,595.69 425.22,595.48 C424.72,595.27 424.29,594.55 424.07,593.86 C423.86,593.18 423.86,592.10 423.92,591.38 C423.98,590.65 424.05,589.91 424.45,589.52 Z" fill="none" stroke="#e04848" stroke-width="0.5" />
<path d="M424.92,590.28 C425.20,590.00 425.84,589.80 426.22,589.91 C426.59,590.02 427.01,590.43 427.19,590.92 C427.37,591.41 427.37,592.32 427.29,592.86 C427.22,593.40 427.06,593.90 426.75,594.16 C426.45,594.41 425.81,594.56 425.46,594.41 C425.11,594.27 424.81,593.77 424.66,593.29 C424.51,592.82 424.51,592.07 424.56,591.57 C424.60,591.07 424.65,590.55 424.92,590.28 Z" fill="none" stroke="#e04848" stroke-width="0.5" />
<path d="M425.42,591.08 C425.57,590.93 425.91,590.82 426.12,590.88 C426.32,590.94 426.54,591.16 426.64,591.42 C426.73,591.69 426.73,592.17 426.69,592.46 C426.65,592.75 426.57,593.02 426.40,593.16 C426.24,593.29 425.90,593.37 425.71,593.29 C425.52,593.22 425.36,592.95 425.28,592.69 C425.20,592.44 425.20,592.04 425.23,591.77 C425.25,591.50 425.27,591.22 425.42,591.08 Z" fill="none" stroke="#e04848" stroke-width="0.5" />
<circle cx="426.00" cy="592.00" r="0.90" fill="#fff" stroke="none" stroke-width="1" />
</g>
<path d="M420.7,581.5 L434.5,581.5 L434.5,607.2 L421.2,607.6 L418.3,598.2 Z" fill="none" stroke="#111" stroke-width="0.9" />
<text x="422.80" y="577.70" font-size="4.3" font-weight="bold" fill="#222" textLength="12.50" lengthAdjust="spacingAndGlyphs" >39.1%</text>
<text x="417.20" y="611.90" font-size="4.3" font-weight="bold" fill="#222" textLength="24.60" lengthAdjust="spacingAndGlyphs" >Neutrophils</text>
<line x1="434.50" y1="594.40" x2="455.50" y2="594.40" stroke="#000" stroke-width="0.8" />
<path d="M458.00,594.40 L454.80,595.84 L454.80,592.96 Z" fill="#000" stroke="none" stroke-width="1" />
<line x1="369.00" y1="637.00" x2="369.00" y2="638.20" stroke="#666" stroke-width="0.4" />
<line x1="372.00" y1="637.00" x2="372.00" y2="638.20" stroke="#666" stroke-width="0.4" />
<line x1="375.00" y1="637.00" x2="375.00" y2="638.20" stroke="#666" stroke-width="0.4" />
<line x1="378.00" y1="637.00" x2="378.00" y2="638.20" stroke="#666" stroke-width="0.4" />
<line x1="381.00" y1="637.00" x2="381.00" y2="638.20" stroke="#666" stroke-width="0.4" />
<line x1="384.00" y1="637.00" x2="384.00" y2="638.20" stroke="#666" stroke-width="0.4" />
<line x1="387.00" y1="637.00" x2="387.00" y2="638.20" stroke="#666" stroke-width="0.4" />
<line x1="390.00" y1="637.00" x2="390.00" y2="638.20" stroke="#666" stroke-width="0.4" />
<line x1="393.00" y1="637.00" x2="393.00" y2="638.20" stroke="#666" stroke-width="0.4" />
<line x1="396.00" y1="637.00" x2="396.00" y2="638.20" stroke="#666" stroke-width="0.4" />
<line x1="399.00" y1="637.00" x2="399.00" y2="638.20" stroke="#666" stroke-width="0.4" />
<line x1="402.00" y1="637.00" x2="402.00" y2="638.20" stroke="#666" stroke-width="0.4" />
<line x1="405.00" y1="637.00" x2="405.00" y2="638.20" stroke="#666" stroke-width="0.4" />
<line x1="408.00" y1="637.00" x2="408.00" y2="638.20" stroke="#666" stroke-width="0.4" />
<line x1="411.00" y1="637.00" x2="411.00" y2="638.20" stroke="#666" stroke-width="0.4" />
<line x1="414.00" y1="637.00" x2="414.00" y2="638.20" stroke="#666" stroke-width="0.4" />
<line x1="417.00" y1="637.00" x2="417.00" y2="638.20" stroke="#666" stroke-width="0.4" />
<line x1="420.00" y1="637.00" x2="420.00" y2="638.20" stroke="#666" stroke-width="0.4" />
<line x1="423.00" y1="637.00" x2="423.00" y2="638.20" stroke="#666" stroke-width="0.4" />
<line x1="426.00" y1="637.00" x2="426.00" y2="638.20" stroke="#666" stroke-width="0.4" />
<line x1="429.00" y1="637.00" x2="429.00" y2="638.20" stroke="#666" stroke-width="0.4" />
<line x1="432.00" y1="637.00" x2="432.00" y2="638.20" stroke="#666" stroke-width="0.4" />
<line x1="435.00" y1="637.00" x2="435.00" y2="638.20" stroke="#666" stroke-width="0.4" />
<line x1="438.00" y1="637.00" x2="438.00" y2="638.20" stroke="#666" stroke-width="0.4" />
<line x1="441.00" y1="637.00" x2="441.00" y2="638.20" stroke="#666" stroke-width="0.4" />
<line x1="374.00" y1="637.00" x2="374.00" y2="639.20" stroke="#333" stroke-width="0.5" />
<text x="374.00" y="643.30" font-size="3.2" font-weight="normal" fill="#333" font-style="italic" text-anchor="middle" >-10<tspan baseline-shift="48%" font-size="82%">3</tspan></text>
<line x1="386.00" y1="637.00" x2="386.00" y2="639.20" stroke="#333" stroke-width="0.5" />
<text x="386.00" y="643.30" font-size="3.2" font-weight="normal" fill="#333" font-style="italic" text-anchor="middle" >0</text>
<line x1="398.50" y1="637.00" x2="398.50" y2="639.20" stroke="#333" stroke-width="0.5" />
<text x="398.50" y="643.30" font-size="3.2" font-weight="normal" fill="#333" font-style="italic" text-anchor="middle" >10<tspan baseline-shift="48%" font-size="82%">3</tspan></text>
<line x1="419.50" y1="637.00" x2="419.50" y2="639.20" stroke="#333" stroke-width="0.5" />
<text x="419.50" y="643.30" font-size="3.2" font-weight="normal" fill="#333" font-style="italic" text-anchor="middle" >10<tspan baseline-shift="48%" font-size="82%">4</tspan></text>
<line x1="437.50" y1="637.00" x2="437.50" y2="639.20" stroke="#333" stroke-width="0.5" />
<text x="437.50" y="643.30" font-size="3.2" font-weight="normal" fill="#333" font-style="italic" text-anchor="middle" >10<tspan baseline-shift="48%" font-size="82%">5</tspan></text>
<line x1="366.10" y1="562.00" x2="367.30" y2="562.00" stroke="#666" stroke-width="0.4" />
<line x1="366.10" y1="565.00" x2="367.30" y2="565.00" stroke="#666" stroke-width="0.4" />
<line x1="366.10" y1="568.00" x2="367.30" y2="568.00" stroke="#666" stroke-width="0.4" />
<line x1="366.10" y1="571.00" x2="367.30" y2="571.00" stroke="#666" stroke-width="0.4" />
<line x1="366.10" y1="574.00" x2="367.30" y2="574.00" stroke="#666" stroke-width="0.4" />
<line x1="366.10" y1="577.00" x2="367.30" y2="577.00" stroke="#666" stroke-width="0.4" />
<line x1="366.10" y1="580.00" x2="367.30" y2="580.00" stroke="#666" stroke-width="0.4" />
<line x1="366.10" y1="583.00" x2="367.30" y2="583.00" stroke="#666" stroke-width="0.4" />
<line x1="366.10" y1="586.00" x2="367.30" y2="586.00" stroke="#666" stroke-width="0.4" />
<line x1="366.10" y1="589.00" x2="367.30" y2="589.00" stroke="#666" stroke-width="0.4" />
<line x1="366.10" y1="592.00" x2="367.30" y2="592.00" stroke="#666" stroke-width="0.4" />
<line x1="366.10" y1="595.00" x2="367.30" y2="595.00" stroke="#666" stroke-width="0.4" />
<line x1="366.10" y1="598.00" x2="367.30" y2="598.00" stroke="#666" stroke-width="0.4" />
<line x1="366.10" y1="601.00" x2="367.30" y2="601.00" stroke="#666" stroke-width="0.4" />
<line x1="366.10" y1="604.00" x2="367.30" y2="604.00" stroke="#666" stroke-width="0.4" />
<line x1="366.10" y1="607.00" x2="367.30" y2="607.00" stroke="#666" stroke-width="0.4" />
<line x1="366.10" y1="610.00" x2="367.30" y2="610.00" stroke="#666" stroke-width="0.4" />
<line x1="366.10" y1="613.00" x2="367.30" y2="613.00" stroke="#666" stroke-width="0.4" />
<line x1="366.10" y1="616.00" x2="367.30" y2="616.00" stroke="#666" stroke-width="0.4" />
<line x1="366.10" y1="619.00" x2="367.30" y2="619.00" stroke="#666" stroke-width="0.4" />
<line x1="366.10" y1="622.00" x2="367.30" y2="622.00" stroke="#666" stroke-width="0.4" />
<line x1="366.10" y1="625.00" x2="367.30" y2="625.00" stroke="#666" stroke-width="0.4" />
<line x1="366.10" y1="628.00" x2="367.30" y2="628.00" stroke="#666" stroke-width="0.4" />
<line x1="366.10" y1="631.00" x2="367.30" y2="631.00" stroke="#666" stroke-width="0.4" />
<line x1="366.10" y1="634.00" x2="367.30" y2="634.00" stroke="#666" stroke-width="0.4" />
<line x1="365.10" y1="566.50" x2="367.30" y2="566.50" stroke="#333" stroke-width="0.5" />
<text x="364.30" y="567.80" font-size="3.2" font-weight="normal" fill="#333" font-style="italic" text-anchor="end" >10<tspan baseline-shift="48%" font-size="82%">5</tspan></text>
<line x1="365.10" y1="585.50" x2="367.30" y2="585.50" stroke="#333" stroke-width="0.5" />
<text x="364.30" y="586.80" font-size="3.2" font-weight="normal" fill="#333" font-style="italic" text-anchor="end" >10<tspan baseline-shift="48%" font-size="82%">4</tspan></text>
<line x1="365.10" y1="605.00" x2="367.30" y2="605.00" stroke="#333" stroke-width="0.5" />
<text x="364.30" y="606.30" font-size="3.2" font-weight="normal" fill="#333" font-style="italic" text-anchor="end" >10<tspan baseline-shift="48%" font-size="82%">3</tspan></text>
<line x1="365.10" y1="618.00" x2="367.30" y2="618.00" stroke="#333" stroke-width="0.5" />
<text x="364.30" y="619.30" font-size="3.2" font-weight="normal" fill="#333" font-style="italic" text-anchor="end" >0</text>
<line x1="365.10" y1="630.00" x2="367.30" y2="630.00" stroke="#333" stroke-width="0.5" />
<text x="364.30" y="631.30" font-size="3.2" font-weight="normal" fill="#333" font-style="italic" text-anchor="end" >-10<tspan baseline-shift="48%" font-size="82%">3</tspan></text>
<rect x="365.40" y="616.50" width="1.60" height="3.00" fill="#111" stroke="none" stroke-width="1" />
<rect x="383.00" y="637.70" width="4.00" height="1.40" fill="#111" stroke="none" stroke-width="1" />
<line x1="354.50" y1="635.50" x2="354.50" y2="653.00" stroke="#555" stroke-width="0.5" />
<path d="M354.50,633.00 L355.67,635.60 L353.33,635.60 Z" fill="#222" stroke="none" stroke-width="1" />
<line x1="382.00" y1="652.50" x2="383.50" y2="652.50" stroke="#222" stroke-width="0.5" />
<path d="M385.50,652.50 L383.00,653.62 L383.00,651.38 Z" fill="#222" stroke="none" stroke-width="1" />
<text x="356.80" y="602.50" font-size="6.3" font-weight="normal" fill="#222" text-anchor="middle" textLength="49.70" lengthAdjust="spacingAndGlyphs" transform="rotate(-90 356.80 602.50)" >#BUV395 – Ly-6G</text>
<text x="388.60" y="655.10" font-size="6.4" font-weight="normal" fill="#222" textLength="49.60" lengthAdjust="spacingAndGlyphs" >#AF488 – CD11b</text>
<rect x="368.20" y="661.00" width="77.30" height="77.30" fill="#fff" stroke="#a8a8a8" stroke-width="0.8" />
<g opacity="0.6">
<path d="M383.00,683.00 C384.20,681.33 386.50,680.50 388.00,681.00 C389.50,681.50 390.50,684.42 392.00,686.00 C393.50,687.58 395.67,689.17 397.00,690.50 C398.33,691.83 399.92,692.62 400.00,694.00 C400.08,695.38 399.17,697.72 397.50,698.80 C395.83,699.88 392.42,700.60 390.00,700.50 C387.58,700.40 384.53,699.78 383.00,698.20 C381.47,696.62 380.80,693.53 380.80,691.00 C380.80,688.47 381.80,684.67 383.00,683.00 Z" fill="#a0a0a0" stroke="none" stroke-width="1" opacity="0.08"/>
<path d="M383.00,683.00 C384.20,681.33 386.50,680.50 388.00,681.00 C389.50,681.50 390.50,684.42 392.00,686.00 C393.50,687.58 395.67,689.17 397.00,690.50 C398.33,691.83 399.92,692.62 400.00,694.00 C400.08,695.38 399.17,697.72 397.50,698.80 C395.83,699.88 392.42,700.60 390.00,700.50 C387.58,700.40 384.53,699.78 383.00,698.20 C381.47,696.62 380.80,693.53 380.80,691.00 C380.80,688.47 381.80,684.67 383.00,683.00 Z" fill="none" stroke="#a0a0a0" stroke-width="0.5" />
<path d="M383.67,684.22 C384.72,682.75 386.74,682.02 388.06,682.46 C389.38,682.90 390.26,685.46 391.57,686.85 C392.89,688.24 394.80,689.63 395.97,690.80 C397.14,691.98 398.53,692.66 398.60,693.88 C398.68,695.09 397.87,697.14 396.41,698.10 C394.94,699.05 391.94,699.68 389.82,699.59 C387.69,699.50 385.02,698.96 383.67,697.57 C382.32,696.18 381.74,693.47 381.74,691.24 C381.74,689.02 382.61,685.68 383.67,684.22 Z" fill="none" stroke="#a0a0a0" stroke-width="0.5" />
<path d="M384.33,685.42 C385.24,684.15 386.98,683.52 388.12,683.90 C389.26,684.28 390.02,686.49 391.15,687.69 C392.29,688.89 393.94,690.09 394.95,691.10 C395.96,692.12 397.16,692.71 397.22,693.76 C397.29,694.81 396.59,696.58 395.33,697.40 C394.06,698.22 391.47,698.76 389.64,698.69 C387.80,698.61 385.49,698.14 384.33,696.94 C383.17,695.74 382.66,693.40 382.66,691.48 C382.66,689.56 383.42,686.68 384.33,685.42 Z" fill="none" stroke="#a0a0a0" stroke-width="0.5" />
<path d="M384.98,686.60 C385.75,685.53 387.22,685.00 388.18,685.32 C389.14,685.64 389.78,687.51 390.74,688.52 C391.70,689.53 393.09,690.55 393.94,691.40 C394.80,692.25 395.81,692.75 395.86,693.64 C395.92,694.53 395.33,696.02 394.26,696.71 C393.19,697.41 391.01,697.87 389.46,697.80 C387.91,697.74 385.96,697.34 384.98,696.33 C384.00,695.32 383.57,693.34 383.57,691.72 C383.57,690.10 384.21,687.67 384.98,686.60 Z" fill="none" stroke="#a0a0a0" stroke-width="0.5" />
<path d="M385.62,687.76 C386.25,686.89 387.45,686.45 388.24,686.71 C389.02,686.98 389.55,688.50 390.33,689.33 C391.12,690.16 392.25,690.99 392.95,691.69 C393.65,692.39 394.48,692.80 394.52,693.52 C394.57,694.25 394.09,695.47 393.21,696.04 C392.34,696.61 390.55,696.98 389.29,696.93 C388.02,696.88 386.42,696.55 385.62,695.72 C384.82,694.89 384.47,693.28 384.47,691.95 C384.47,690.63 384.99,688.63 385.62,687.76 Z" fill="none" stroke="#a0a0a0" stroke-width="0.5" />
<path d="M386.25,688.90 C386.74,688.22 387.68,687.88 388.30,688.08 C388.91,688.29 389.32,689.48 389.93,690.13 C390.55,690.78 391.44,691.43 391.98,691.98 C392.53,692.52 393.18,692.84 393.21,693.41 C393.25,693.98 392.87,694.93 392.19,695.38 C391.51,695.82 390.11,696.11 389.11,696.07 C388.12,696.03 386.87,695.78 386.25,695.13 C385.62,694.48 385.34,693.22 385.34,692.18 C385.34,691.14 385.75,689.58 386.25,688.90 Z" fill="none" stroke="#a0a0a0" stroke-width="0.5" />
<path d="M386.86,690.01 C387.22,689.52 387.90,689.27 388.35,689.42 C388.80,689.57 389.10,690.44 389.55,690.91 C389.99,691.38 390.64,691.86 391.04,692.25 C391.44,692.65 391.91,692.89 391.93,693.30 C391.96,693.71 391.69,694.41 391.19,694.73 C390.69,695.06 389.67,695.27 388.95,695.24 C388.23,695.21 387.32,695.03 386.86,694.55 C386.40,694.08 386.20,693.16 386.20,692.40 C386.20,691.65 386.50,690.51 386.86,690.01 Z" fill="none" stroke="#a0a0a0" stroke-width="0.5" />
<path d="M387.45,691.09 C387.68,690.77 388.12,690.61 388.40,690.71 C388.69,690.80 388.88,691.36 389.17,691.66 C389.46,691.96 389.87,692.27 390.13,692.52 C390.38,692.78 390.68,692.93 390.70,693.19 C390.71,693.46 390.54,693.90 390.22,694.11 C389.90,694.32 389.25,694.45 388.79,694.43 C388.32,694.41 387.74,694.30 387.45,693.99 C387.16,693.69 387.03,693.10 387.03,692.62 C387.03,692.13 387.22,691.41 387.45,691.09 Z" fill="none" stroke="#a0a0a0" stroke-width="0.5" />
<path d="M388.01,692.11 C388.12,691.96 388.32,691.89 388.46,691.93 C388.59,691.97 388.68,692.23 388.81,692.38 C388.95,692.52 389.14,692.66 389.26,692.78 C389.38,692.90 389.52,692.97 389.53,693.09 C389.53,693.21 389.45,693.42 389.30,693.52 C389.15,693.61 388.85,693.68 388.63,693.67 C388.42,693.66 388.15,693.61 388.01,693.46 C387.87,693.32 387.81,693.05 387.81,692.82 C387.81,692.60 387.90,692.26 388.01,692.11 Z" fill="none" stroke="#a0a0a0" stroke-width="0.5" />
</g>
<g opacity="0.85">
<path d="M404.00,675.50 C405.12,673.47 406.67,671.00 409.00,669.80 C411.33,668.60 414.83,668.38 418.00,668.30 C421.17,668.22 425.58,668.18 428.00,669.30 C430.42,670.42 431.92,672.38 432.50,675.00 C433.08,677.62 432.08,681.83 431.50,685.00 C430.92,688.17 430.92,691.87 429.00,694.00 C427.08,696.13 423.50,697.25 420.00,697.80 C416.50,698.35 411.00,698.52 408.00,697.30 C405.00,696.08 402.95,693.05 402.00,690.50 C401.05,687.95 401.97,684.50 402.30,682.00 C402.63,679.50 402.88,677.53 404.00,675.50 Z" fill="#e05050" stroke="none" stroke-width="1" opacity="0.2"/>
<path d="M404.00,675.50 C405.12,673.47 406.67,671.00 409.00,669.80 C411.33,668.60 414.83,668.38 418.00,668.30 C421.17,668.22 425.58,668.18 428.00,669.30 C430.42,670.42 431.92,672.38 432.50,675.00 C433.08,677.62 432.08,681.83 431.50,685.00 C430.92,688.17 430.92,691.87 429.00,694.00 C427.08,696.13 423.50,697.25 420.00,697.80 C416.50,698.35 411.00,698.52 408.00,697.30 C405.00,696.08 402.95,693.05 402.00,690.50 C401.05,687.95 401.97,684.50 402.30,682.00 C402.63,679.50 402.88,677.53 404.00,675.50 Z" fill="none" stroke="#e05050" stroke-width="0.5" />
<path d="M404.55,676.02 C405.60,674.11 407.05,671.79 409.24,670.67 C411.44,669.54 414.72,669.34 417.69,669.26 C420.67,669.18 424.82,669.15 427.08,670.20 C429.35,671.25 430.76,673.09 431.31,675.55 C431.86,678.01 430.92,681.97 430.37,684.94 C429.82,687.91 429.82,691.39 428.02,693.39 C426.22,695.39 422.86,696.44 419.57,696.96 C416.29,697.47 411.12,697.63 408.31,696.49 C405.49,695.35 403.56,692.50 402.67,690.10 C401.78,687.71 402.64,684.47 402.95,682.12 C403.27,679.77 403.50,677.93 404.55,676.02 Z" fill="none" stroke="#e05050" stroke-width="0.5" />
<path d="M405.11,676.54 C406.08,674.76 407.44,672.60 409.49,671.54 C411.54,670.49 414.61,670.30 417.39,670.23 C420.16,670.15 424.04,670.13 426.16,671.11 C428.28,672.08 429.59,673.81 430.11,676.11 C430.62,678.40 429.74,682.10 429.23,684.88 C428.72,687.65 428.72,690.90 427.04,692.77 C425.35,694.64 422.21,695.62 419.14,696.11 C416.07,696.59 411.25,696.73 408.61,695.67 C405.98,694.60 404.18,691.94 403.35,689.70 C402.52,687.46 403.32,684.44 403.61,682.25 C403.91,680.05 404.13,678.33 405.11,676.54 Z" fill="none" stroke="#e05050" stroke-width="0.5" />
<path d="M405.67,677.08 C406.58,675.42 407.84,673.41 409.74,672.43 C411.64,671.45 414.49,671.28 417.07,671.21 C419.65,671.14 423.25,671.11 425.22,672.02 C427.19,672.93 428.41,674.54 428.89,676.67 C429.36,678.80 428.55,682.23 428.07,684.81 C427.60,687.39 427.60,690.41 426.03,692.15 C424.47,693.88 421.55,694.79 418.70,695.24 C415.85,695.69 411.37,695.83 408.93,694.83 C406.48,693.84 404.81,691.37 404.04,689.30 C403.26,687.22 404.01,684.41 404.28,682.37 C404.55,680.33 404.76,678.73 405.67,677.08 Z" fill="none" stroke="#e05050" stroke-width="0.5" />
<path d="M406.24,677.61 C407.08,676.09 408.24,674.23 409.99,673.33 C411.75,672.43 414.38,672.27 416.76,672.21 C419.14,672.14 422.45,672.12 424.27,672.96 C426.08,673.80 427.21,675.27 427.65,677.24 C428.09,679.20 427.34,682.37 426.90,684.75 C426.46,687.13 426.46,689.91 425.02,691.51 C423.58,693.12 420.89,693.95 418.26,694.37 C415.63,694.78 411.50,694.91 409.24,693.99 C406.99,693.08 405.45,690.80 404.74,688.88 C404.02,686.97 404.71,684.38 404.96,682.50 C405.21,680.62 405.40,679.14 406.24,677.61 Z" fill="none" stroke="#e05050" stroke-width="0.5" />
<path d="M406.82,678.16 C407.58,676.76 408.65,675.07 410.25,674.25 C411.86,673.42 414.26,673.27 416.43,673.22 C418.61,673.16 421.64,673.14 423.30,673.90 C424.96,674.67 425.99,676.02 426.39,677.82 C426.80,679.62 426.11,682.51 425.71,684.69 C425.31,686.86 425.31,689.40 423.99,690.87 C422.67,692.33 420.21,693.10 417.81,693.48 C415.40,693.86 411.63,693.97 409.57,693.14 C407.50,692.30 406.10,690.22 405.44,688.46 C404.79,686.71 405.42,684.34 405.65,682.63 C405.88,680.91 406.05,679.56 406.82,678.16 Z" fill="none" stroke="#e05050" stroke-width="0.5" />
<path d="M407.41,678.72 C408.10,677.45 409.06,675.92 410.51,675.18 C411.96,674.43 414.14,674.29 416.11,674.24 C418.08,674.19 420.82,674.17 422.32,674.86 C423.82,675.56 424.76,676.78 425.12,678.41 C425.48,680.03 424.86,682.65 424.50,684.62 C424.13,686.59 424.13,688.89 422.94,690.21 C421.75,691.54 419.53,692.23 417.35,692.58 C415.18,692.92 411.76,693.02 409.89,692.27 C408.03,691.51 406.75,689.62 406.16,688.04 C405.57,686.45 406.14,684.31 406.35,682.76 C406.56,681.20 406.71,679.98 407.41,678.72 Z" fill="none" stroke="#e05050" stroke-width="0.5" />
<path d="M408.01,679.28 C408.63,678.16 409.49,676.79 410.78,676.12 C412.08,675.46 414.02,675.34 415.77,675.29 C417.53,675.24 419.98,675.23 421.32,675.84 C422.66,676.46 423.49,677.56 423.82,679.01 C424.14,680.46 423.59,682.80 423.26,684.55 C422.94,686.31 422.94,688.36 421.88,689.55 C420.81,690.73 418.83,691.35 416.88,691.66 C414.94,691.96 411.89,692.05 410.23,691.38 C408.56,690.70 407.42,689.02 406.90,687.61 C406.37,686.19 406.88,684.28 407.06,682.89 C407.25,681.50 407.39,680.41 408.01,679.28 Z" fill="none" stroke="#e05050" stroke-width="0.5" />
<path d="M408.62,679.86 C409.16,678.87 409.92,677.67 411.05,677.09 C412.19,676.51 413.89,676.40 415.43,676.36 C416.97,676.32 419.12,676.30 420.30,676.85 C421.48,677.39 422.21,678.35 422.49,679.62 C422.77,680.89 422.29,682.95 422.00,684.49 C421.72,686.03 421.72,687.83 420.79,688.87 C419.85,689.90 418.11,690.45 416.41,690.72 C414.70,690.98 412.03,691.06 410.57,690.47 C409.11,689.88 408.11,688.40 407.65,687.16 C407.18,685.92 407.63,684.24 407.79,683.03 C407.96,681.81 408.08,680.85 408.62,679.86 Z" fill="none" stroke="#e05050" stroke-width="0.5" />
<path d="M409.25,680.46 C409.71,679.61 410.36,678.58 411.33,678.08 C412.31,677.58 413.76,677.49 415.08,677.46 C416.40,677.42 418.24,677.41 419.25,677.87 C420.26,678.34 420.88,679.16 421.13,680.25 C421.37,681.34 420.95,683.10 420.71,684.42 C420.47,685.74 420.47,687.28 419.67,688.17 C418.87,689.06 417.38,689.52 415.92,689.75 C414.46,689.98 412.17,690.05 410.92,689.54 C409.67,689.04 408.81,687.77 408.42,686.71 C408.02,685.65 408.40,684.21 408.54,683.17 C408.68,682.12 408.78,681.30 409.25,680.46 Z" fill="none" stroke="#e05050" stroke-width="0.5" />
<path d="M409.90,681.07 C410.28,680.37 410.82,679.52 411.62,679.10 C412.43,678.69 413.63,678.62 414.72,678.59 C415.82,678.56 417.34,678.55 418.17,678.93 C419.00,679.32 419.52,679.99 419.72,680.90 C419.92,681.80 419.58,683.25 419.38,684.34 C419.18,685.44 419.18,686.71 418.52,687.45 C417.86,688.18 416.62,688.57 415.41,688.76 C414.21,688.95 412.31,689.01 411.28,688.59 C410.24,688.17 409.53,687.12 409.21,686.24 C408.88,685.36 409.20,684.17 409.31,683.31 C409.43,682.45 409.51,681.77 409.90,681.07 Z" fill="none" stroke="#e05050" stroke-width="0.5" />
<path d="M410.57,681.71 C410.87,681.16 411.29,680.49 411.92,680.17 C412.55,679.84 413.49,679.78 414.35,679.76 C415.20,679.74 416.40,679.73 417.05,680.03 C417.70,680.33 418.11,680.86 418.26,681.57 C418.42,682.28 418.15,683.42 417.99,684.27 C417.84,685.12 417.84,686.12 417.32,686.70 C416.80,687.28 415.83,687.58 414.89,687.73 C413.94,687.87 412.46,687.92 411.65,687.59 C410.84,687.26 410.29,686.44 410.03,685.75 C409.77,685.07 410.02,684.13 410.11,683.46 C410.20,682.79 410.27,682.25 410.57,681.71 Z" fill="none" stroke="#e05050" stroke-width="0.5" />
<path d="M411.28,682.37 C411.49,681.99 411.79,681.51 412.23,681.28 C412.68,681.05 413.35,681.01 413.96,681.00 C414.56,680.98 415.41,680.97 415.87,681.19 C416.33,681.40 416.62,681.78 416.73,682.28 C416.84,682.78 416.65,683.59 416.54,684.19 C416.43,684.80 416.43,685.50 416.06,685.91 C415.69,686.32 415.01,686.53 414.34,686.64 C413.67,686.74 412.62,686.78 412.04,686.54 C411.47,686.31 411.08,685.73 410.90,685.24 C410.71,684.76 410.89,684.10 410.95,683.62 C411.02,683.14 411.06,682.76 411.28,682.37 Z" fill="none" stroke="#e05050" stroke-width="0.5" />
<path d="M412.04,683.10 C412.16,682.88 412.33,682.62 412.58,682.49 C412.82,682.37 413.19,682.34 413.53,682.33 C413.87,682.33 414.34,682.32 414.59,682.44 C414.85,682.56 415.01,682.77 415.07,683.04 C415.13,683.32 415.03,683.77 414.96,684.11 C414.90,684.44 414.90,684.83 414.70,685.06 C414.49,685.29 414.11,685.41 413.74,685.46 C413.37,685.52 412.79,685.54 412.47,685.41 C412.15,685.28 411.93,684.96 411.83,684.69 C411.73,684.42 411.83,684.05 411.86,683.79 C411.90,683.52 411.93,683.31 412.04,683.10 Z" fill="none" stroke="#e05050" stroke-width="0.5" />
</g>
<g opacity="0.8">
<path d="M408.50,676.00 C409.42,674.83 411.42,673.92 413.00,674.00 C414.58,674.08 417.08,675.17 418.00,676.50 C418.92,677.83 419.00,680.42 418.50,682.00 C418.00,683.58 416.42,685.42 415.00,686.00 C413.58,686.58 411.25,686.33 410.00,685.50 C408.75,684.67 407.75,682.58 407.50,681.00 C407.25,679.42 407.58,677.17 408.50,676.00 Z" fill="#d84848" stroke="none" stroke-width="1" opacity="0.1"/>
<path d="M408.50,676.00 C409.42,674.83 411.42,673.92 413.00,674.00 C414.58,674.08 417.08,675.17 418.00,676.50 C418.92,677.83 419.00,680.42 418.50,682.00 C418.00,683.58 416.42,685.42 415.00,686.00 C413.58,686.58 411.25,686.33 410.00,685.50 C408.75,684.67 407.75,682.58 407.50,681.00 C407.25,679.42 407.58,677.17 408.50,676.00 Z" fill="none" stroke="#d84848" stroke-width="0.5" />
<path d="M409.32,676.73 C410.07,675.77 411.70,675.02 413.00,675.09 C414.30,675.16 416.34,676.04 417.09,677.14 C417.84,678.23 417.91,680.34 417.50,681.64 C417.09,682.93 415.80,684.43 414.64,684.91 C413.48,685.39 411.57,685.18 410.55,684.50 C409.52,683.82 408.70,682.11 408.50,680.82 C408.29,679.52 408.57,677.68 409.32,676.73 Z" fill="none" stroke="#d84848" stroke-width="0.5" />
<path d="M410.12,677.44 C410.71,676.69 411.99,676.11 413.00,676.16 C414.01,676.21 415.61,676.91 416.20,677.76 C416.79,678.61 416.84,680.27 416.52,681.28 C416.20,682.29 415.19,683.47 414.28,683.84 C413.37,684.21 411.88,684.05 411.08,683.52 C410.28,682.99 409.64,681.65 409.48,680.64 C409.32,679.63 409.53,678.19 410.12,677.44 Z" fill="none" stroke="#d84848" stroke-width="0.5" />
<path d="M410.90,678.13 C411.33,677.59 412.26,677.16 413.00,677.20 C413.74,677.24 414.90,677.75 415.33,678.37 C415.76,678.99 415.80,680.19 415.57,680.93 C415.33,681.67 414.59,682.53 413.93,682.80 C413.27,683.07 412.18,682.95 411.60,682.57 C411.02,682.18 410.55,681.21 410.43,680.47 C410.32,679.73 410.47,678.68 410.90,678.13 Z" fill="none" stroke="#d84848" stroke-width="0.5" />
<path d="M411.66,678.81 C411.93,678.46 412.53,678.18 413.00,678.21 C413.47,678.23 414.22,678.56 414.49,678.95 C414.77,679.35 414.79,680.12 414.64,680.60 C414.49,681.07 414.02,681.62 413.60,681.79 C413.17,681.97 412.48,681.89 412.10,681.64 C411.73,681.39 411.43,680.77 411.36,680.30 C411.28,679.83 411.38,679.15 411.66,678.81 Z" fill="none" stroke="#d84848" stroke-width="0.5" />
<path d="M412.37,679.44 C412.50,679.28 412.78,679.15 413.00,679.16 C413.22,679.18 413.57,679.33 413.70,679.51 C413.82,679.70 413.84,680.06 413.77,680.28 C413.70,680.50 413.48,680.75 413.28,680.84 C413.08,680.92 412.76,680.88 412.58,680.77 C412.41,680.65 412.27,680.36 412.23,680.14 C412.20,679.92 412.25,679.61 412.37,679.44 Z" fill="none" stroke="#d84848" stroke-width="0.5" />
<circle cx="413.00" cy="680.00" r="0.90" fill="#fff" stroke="none" stroke-width="1" />
</g>
<g opacity="0.8">
<path d="M405.50,690.00 C405.92,688.83 408.25,688.17 410.00,688.00 C411.75,687.83 414.67,688.25 416.00,689.00 C417.33,689.75 418.33,691.42 418.00,692.50 C417.67,693.58 415.75,695.08 414.00,695.50 C412.25,695.92 408.92,695.92 407.50,695.00 C406.08,694.08 405.08,691.17 405.50,690.00 Z" fill="#d84848" stroke="none" stroke-width="1" opacity="0.1"/>
<path d="M405.50,690.00 C405.92,688.83 408.25,688.17 410.00,688.00 C411.75,687.83 414.67,688.25 416.00,689.00 C417.33,689.75 418.33,691.42 418.00,692.50 C417.67,693.58 415.75,695.08 414.00,695.50 C412.25,695.92 408.92,695.92 407.50,695.00 C406.08,694.08 405.08,691.17 405.50,690.00 Z" fill="none" stroke="#d84848" stroke-width="0.5" />
<path d="M406.81,690.44 C407.13,689.52 408.96,689.00 410.33,688.87 C411.70,688.74 413.98,689.07 415.02,689.65 C416.06,690.24 416.85,691.54 416.59,692.39 C416.32,693.24 414.82,694.41 413.46,694.74 C412.09,695.06 409.48,695.06 408.37,694.35 C407.26,693.63 406.48,691.35 406.81,690.44 Z" fill="none" stroke="#d84848" stroke-width="0.5" />
<path d="M408.08,690.86 C408.32,690.19 409.65,689.81 410.64,689.72 C411.64,689.62 413.31,689.86 414.07,690.29 C414.83,690.72 415.40,691.67 415.21,692.29 C415.02,692.90 413.92,693.76 412.93,694.00 C411.93,694.23 410.03,694.23 409.22,693.71 C408.41,693.19 407.84,691.52 408.08,690.86 Z" fill="none" stroke="#d84848" stroke-width="0.5" />
<path d="M409.31,691.27 C409.46,690.84 410.31,690.60 410.95,690.54 C411.59,690.48 412.66,690.63 413.14,690.91 C413.63,691.18 413.99,691.79 413.87,692.18 C413.75,692.58 413.05,693.13 412.41,693.28 C411.77,693.43 410.56,693.43 410.04,693.09 C409.52,692.76 409.16,691.70 409.31,691.27 Z" fill="none" stroke="#d84848" stroke-width="0.5" />
<path d="M410.48,691.66 C410.55,691.46 410.95,691.35 411.24,691.32 C411.54,691.29 412.04,691.36 412.27,691.49 C412.49,691.62 412.66,691.90 412.61,692.09 C412.55,692.27 412.22,692.52 411.93,692.60 C411.63,692.67 411.06,692.67 410.82,692.51 C410.58,692.35 410.41,691.86 410.48,691.66 Z" fill="none" stroke="#d84848" stroke-width="0.5" />
<circle cx="411.50" cy="692.00" r="0.90" fill="#fff" stroke="none" stroke-width="1" />
</g>
<rect x="399.70" y="663.30" width="35.60" height="37.10" fill="none" stroke="#111" stroke-width="0.9" />
<text x="421.60" y="668.00" font-size="4.3" font-weight="bold" fill="#222" textLength="12.30" lengthAdjust="spacingAndGlyphs" >81.3%</text>
<text x="404.70" y="704.70" font-size="4.3" font-weight="bold" fill="#222" textLength="24.80" lengthAdjust="spacingAndGlyphs" >Neutrophils</text>
<line x1="435.30" y1="681.40" x2="455.50" y2="681.40" stroke="#000" stroke-width="0.8" />
<path d="M458.00,681.40 L454.80,682.84 L454.80,679.96 Z" fill="#000" stroke="none" stroke-width="1" />
<line x1="370.00" y1="738.30" x2="370.00" y2="739.50" stroke="#666" stroke-width="0.4" />
<line x1="373.00" y1="738.30" x2="373.00" y2="739.50" stroke="#666" stroke-width="0.4" />
<line x1="376.00" y1="738.30" x2="376.00" y2="739.50" stroke="#666" stroke-width="0.4" />
<line x1="379.00" y1="738.30" x2="379.00" y2="739.50" stroke="#666" stroke-width="0.4" />
<line x1="382.00" y1="738.30" x2="382.00" y2="739.50" stroke="#666" stroke-width="0.4" />
<line x1="385.00" y1="738.30" x2="385.00" y2="739.50" stroke="#666" stroke-width="0.4" />
<line x1="388.00" y1="738.30" x2="388.00" y2="739.50" stroke="#666" stroke-width="0.4" />
<line x1="391.00" y1="738.30" x2="391.00" y2="739.50" stroke="#666" stroke-width="0.4" />
<line x1="394.00" y1="738.30" x2="394.00" y2="739.50" stroke="#666" stroke-width="0.4" />
<line x1="397.00" y1="738.30" x2="397.00" y2="739.50" stroke="#666" stroke-width="0.4" />
<line x1="400.00" y1="738.30" x2="400.00" y2="739.50" stroke="#666" stroke-width="0.4" />
<line x1="403.00" y1="738.30" x2="403.00" y2="739.50" stroke="#666" stroke-width="0.4" />
<line x1="406.00" y1="738.30" x2="406.00" y2="739.50" stroke="#666" stroke-width="0.4" />
<line x1="409.00" y1="738.30" x2="409.00" y2="739.50" stroke="#666" stroke-width="0.4" />
<line x1="412.00" y1="738.30" x2="412.00" y2="739.50" stroke="#666" stroke-width="0.4" />
<line x1="415.00" y1="738.30" x2="415.00" y2="739.50" stroke="#666" stroke-width="0.4" />
<line x1="418.00" y1="738.30" x2="418.00" y2="739.50" stroke="#666" stroke-width="0.4" />
<line x1="421.00" y1="738.30" x2="421.00" y2="739.50" stroke="#666" stroke-width="0.4" />
<line x1="424.00" y1="738.30" x2="424.00" y2="739.50" stroke="#666" stroke-width="0.4" />
<line x1="427.00" y1="738.30" x2="427.00" y2="739.50" stroke="#666" stroke-width="0.4" />
<line x1="430.00" y1="738.30" x2="430.00" y2="739.50" stroke="#666" stroke-width="0.4" />
<line x1="433.00" y1="738.30" x2="433.00" y2="739.50" stroke="#666" stroke-width="0.4" />
<line x1="436.00" y1="738.30" x2="436.00" y2="739.50" stroke="#666" stroke-width="0.4" />
<line x1="439.00" y1="738.30" x2="439.00" y2="739.50" stroke="#666" stroke-width="0.4" />
<line x1="442.00" y1="738.30" x2="442.00" y2="739.50" stroke="#666" stroke-width="0.4" />
<line x1="374.50" y1="738.30" x2="374.50" y2="740.50" stroke="#333" stroke-width="0.5" />
<text x="374.50" y="744.60" font-size="3.2" font-weight="normal" fill="#333" font-style="italic" text-anchor="middle" >-10<tspan baseline-shift="48%" font-size="82%">3</tspan></text>
<line x1="387.00" y1="738.30" x2="387.00" y2="740.50" stroke="#333" stroke-width="0.5" />
<text x="387.00" y="744.60" font-size="3.2" font-weight="normal" fill="#333" font-style="italic" text-anchor="middle" >0</text>
<line x1="399.50" y1="738.30" x2="399.50" y2="740.50" stroke="#333" stroke-width="0.5" />
<text x="399.50" y="744.60" font-size="3.2" font-weight="normal" fill="#333" font-style="italic" text-anchor="middle" >10<tspan baseline-shift="48%" font-size="82%">3</tspan></text>
<line x1="420.00" y1="738.30" x2="420.00" y2="740.50" stroke="#333" stroke-width="0.5" />
<text x="420.00" y="744.60" font-size="3.2" font-weight="normal" fill="#333" font-style="italic" text-anchor="middle" >10<tspan baseline-shift="48%" font-size="82%">4</tspan></text>
<line x1="438.00" y1="738.30" x2="438.00" y2="740.50" stroke="#333" stroke-width="0.5" />
<text x="438.00" y="744.60" font-size="3.2" font-weight="normal" fill="#333" font-style="italic" text-anchor="middle" >10<tspan baseline-shift="48%" font-size="82%">5</tspan></text>
<line x1="367.00" y1="663.00" x2="368.20" y2="663.00" stroke="#666" stroke-width="0.4" />
<line x1="367.00" y1="666.00" x2="368.20" y2="666.00" stroke="#666" stroke-width="0.4" />
<line x1="367.00" y1="669.00" x2="368.20" y2="669.00" stroke="#666" stroke-width="0.4" />
<line x1="367.00" y1="672.00" x2="368.20" y2="672.00" stroke="#666" stroke-width="0.4" />
<line x1="367.00" y1="675.00" x2="368.20" y2="675.00" stroke="#666" stroke-width="0.4" />
<line x1="367.00" y1="678.00" x2="368.20" y2="678.00" stroke="#666" stroke-width="0.4" />
<line x1="367.00" y1="681.00" x2="368.20" y2="681.00" stroke="#666" stroke-width="0.4" />
<line x1="367.00" y1="684.00" x2="368.20" y2="684.00" stroke="#666" stroke-width="0.4" />
<line x1="367.00" y1="687.00" x2="368.20" y2="687.00" stroke="#666" stroke-width="0.4" />
<line x1="367.00" y1="690.00" x2="368.20" y2="690.00" stroke="#666" stroke-width="0.4" />
<line x1="367.00" y1="693.00" x2="368.20" y2="693.00" stroke="#666" stroke-width="0.4" />
<line x1="367.00" y1="696.00" x2="368.20" y2="696.00" stroke="#666" stroke-width="0.4" />
<line x1="367.00" y1="699.00" x2="368.20" y2="699.00" stroke="#666" stroke-width="0.4" />
<line x1="367.00" y1="702.00" x2="368.20" y2="702.00" stroke="#666" stroke-width="0.4" />
<line x1="367.00" y1="705.00" x2="368.20" y2="705.00" stroke="#666" stroke-width="0.4" />
<line x1="367.00" y1="708.00" x2="368.20" y2="708.00" stroke="#666" stroke-width="0.4" />
<line x1="367.00" y1="711.00" x2="368.20" y2="711.00" stroke="#666" stroke-width="0.4" />
<line x1="367.00" y1="714.00" x2="368.20" y2="714.00" stroke="#666" stroke-width="0.4" />
<line x1="367.00" y1="717.00" x2="368.20" y2="717.00" stroke="#666" stroke-width="0.4" />
<line x1="367.00" y1="720.00" x2="368.20" y2="720.00" stroke="#666" stroke-width="0.4" />
<line x1="367.00" y1="723.00" x2="368.20" y2="723.00" stroke="#666" stroke-width="0.4" />
<line x1="367.00" y1="726.00" x2="368.20" y2="726.00" stroke="#666" stroke-width="0.4" />
<line x1="367.00" y1="729.00" x2="368.20" y2="729.00" stroke="#666" stroke-width="0.4" />
<line x1="367.00" y1="732.00" x2="368.20" y2="732.00" stroke="#666" stroke-width="0.4" />
<line x1="367.00" y1="735.00" x2="368.20" y2="735.00" stroke="#666" stroke-width="0.4" />
<line x1="366.00" y1="668.00" x2="368.20" y2="668.00" stroke="#333" stroke-width="0.5" />
<text x="365.20" y="669.30" font-size="3.2" font-weight="normal" fill="#333" font-style="italic" text-anchor="end" >10<tspan baseline-shift="48%" font-size="82%">5</tspan></text>
<line x1="366.00" y1="687.00" x2="368.20" y2="687.00" stroke="#333" stroke-width="0.5" />
<text x="365.20" y="688.30" font-size="3.2" font-weight="normal" fill="#333" font-style="italic" text-anchor="end" >10<tspan baseline-shift="48%" font-size="82%">4</tspan></text>
<line x1="366.00" y1="706.50" x2="368.20" y2="706.50" stroke="#333" stroke-width="0.5" />
<text x="365.20" y="707.80" font-size="3.2" font-weight="normal" fill="#333" font-style="italic" text-anchor="end" >10<tspan baseline-shift="48%" font-size="82%">3</tspan></text>
<line x1="366.00" y1="719.50" x2="368.20" y2="719.50" stroke="#333" stroke-width="0.5" />
<text x="365.20" y="720.80" font-size="3.2" font-weight="normal" fill="#333" font-style="italic" text-anchor="end" >0</text>
<line x1="366.00" y1="731.50" x2="368.20" y2="731.50" stroke="#333" stroke-width="0.5" />
<text x="365.20" y="732.80" font-size="3.2" font-weight="normal" fill="#333" font-style="italic" text-anchor="end" >-10<tspan baseline-shift="48%" font-size="82%">3</tspan></text>
<rect x="366.30" y="717.50" width="1.60" height="3.00" fill="#111" stroke="none" stroke-width="1" />
<rect x="384.00" y="739.00" width="4.00" height="1.40" fill="#111" stroke="none" stroke-width="1" />
<line x1="354.50" y1="754.40" x2="354.50" y2="736.00" stroke="#222" stroke-width="0.5" />
<path d="M354.50,733.50 L355.85,736.50 L353.15,736.50 Z" fill="#222" stroke="none" stroke-width="1" />
<line x1="354.50" y1="754.40" x2="383.20" y2="754.40" stroke="#222" stroke-width="0.5" />
<path d="M385.70,754.40 L382.70,755.75 L382.70,753.05 Z" fill="#222" stroke="none" stroke-width="1" />
<text x="356.80" y="703.60" font-size="6.3" font-weight="normal" fill="#222" text-anchor="middle" textLength="50.20" lengthAdjust="spacingAndGlyphs" transform="rotate(-90 356.80 703.60)" >#BUV395 – Ly-6G</text>
<text x="389.20" y="755.80" font-size="6.4" font-weight="normal" fill="#222" textLength="49.00" lengthAdjust="spacingAndGlyphs" >#AF488 – CD11b</text>
<rect x="463.00" y="562.00" width="77.00" height="77.20" fill="#fff" stroke="#bdbdbd" stroke-width="1.2" />
<text x="465.40" y="568.60" font-size="4.3" font-weight="normal" fill="#333" textLength="24.00" lengthAdjust="spacingAndGlyphs" >Tdt<tspan baseline-shift="super" font-size="70%">-</tspan> subset</text>
<text x="508.30" y="568.60" font-size="4.3" font-weight="normal" fill="#333" textLength="25.70" lengthAdjust="spacingAndGlyphs" >Tdt<tspan baseline-shift="super" font-size="70%">+</tspan> subset</text>
<line x1="465.40" y1="575.20" x2="492.90" y2="575.20" stroke="#444" stroke-width="0.7" />
<line x1="465.40" y1="573.90" x2="465.40" y2="576.50" stroke="#444" stroke-width="0.7" />
<line x1="492.90" y1="573.90" x2="492.90" y2="576.50" stroke="#444" stroke-width="0.7" />
<line x1="505.90" y1="575.20" x2="538.50" y2="575.20" stroke="#444" stroke-width="0.7" />
<line x1="505.90" y1="573.90" x2="505.90" y2="576.50" stroke="#444" stroke-width="0.7" />
<line x1="538.50" y1="573.90" x2="538.50" y2="576.50" stroke="#444" stroke-width="0.7" />
<text x="478.30" y="582.50" font-size="4.6" font-weight="normal" fill="#333" text-anchor="middle" >0.59</text>
<text x="529.00" y="582.50" font-size="4.6" font-weight="normal" fill="#333" text-anchor="middle" >99.1</text>
<path d="M513.50,638.38 L513.84,638.35 L514.18,638.29 L514.52,638.18 L514.86,637.98 L515.20,637.62 L515.54,637.00 L515.88,636.00 L516.22,634.44 L516.56,632.12 L516.90,628.85 L517.24,624.43 L517.58,618.77 L517.92,611.90 L518.26,604.04 L518.60,595.58 L518.94,587.13 L519.28,579.43 L519.62,573.23 L519.96,569.20 L520.30,567.80 L520.64,569.20 L520.98,573.23 L521.32,579.43 L521.66,587.13 L522.00,595.58 L522.34,604.04 L522.68,611.90 L523.02,618.77 L523.36,624.43 L523.70,628.85 L524.04,632.12 L524.38,634.44 L524.72,636.00 L525.06,637.00 L525.40,637.62 L525.74,637.98 L526.08,638.18 L526.42,638.29 L526.76,638.35 L527.10,638.38 Z" fill="#f7a5a5" stroke="#e07070" stroke-width="0.5" />
<line x1="466.00" y1="639.20" x2="466.00" y2="640.20" stroke="#777" stroke-width="0.4" />
<line x1="469.00" y1="639.20" x2="469.00" y2="640.20" stroke="#777" stroke-width="0.4" />
<line x1="472.00" y1="639.20" x2="472.00" y2="640.20" stroke="#777" stroke-width="0.4" />
<line x1="475.00" y1="639.20" x2="475.00" y2="640.20" stroke="#777" stroke-width="0.4" />
<line x1="478.00" y1="639.20" x2="478.00" y2="640.20" stroke="#777" stroke-width="0.4" />
<line x1="481.00" y1="639.20" x2="481.00" y2="640.20" stroke="#777" stroke-width="0.4" />
<line x1="484.00" y1="639.20" x2="484.00" y2="640.20" stroke="#777" stroke-width="0.4" />
<line x1="487.00" y1="639.20" x2="487.00" y2="640.20" stroke="#777" stroke-width="0.4" />
<line x1="490.00" y1="639.20" x2="490.00" y2="640.20" stroke="#777" stroke-width="0.4" />
<line x1="493.00" y1="639.20" x2="493.00" y2="640.20" stroke="#777" stroke-width="0.4" />
<line x1="496.00" y1="639.20" x2="496.00" y2="640.20" stroke="#777" stroke-width="0.4" />
<line x1="499.00" y1="639.20" x2="499.00" y2="640.20" stroke="#777" stroke-width="0.4" />
<line x1="502.00" y1="639.20" x2="502.00" y2="640.20" stroke="#777" stroke-width="0.4" />
<line x1="505.00" y1="639.20" x2="505.00" y2="640.20" stroke="#777" stroke-width="0.4" />
<line x1="508.00" y1="639.20" x2="508.00" y2="640.20" stroke="#777" stroke-width="0.4" />
<line x1="511.00" y1="639.20" x2="511.00" y2="640.20" stroke="#777" stroke-width="0.4" />
<line x1="514.00" y1="639.20" x2="514.00" y2="640.20" stroke="#777" stroke-width="0.4" />
<line x1="517.00" y1="639.20" x2="517.00" y2="640.20" stroke="#777" stroke-width="0.4" />
<line x1="520.00" y1="639.20" x2="520.00" y2="640.20" stroke="#777" stroke-width="0.4" />
<line x1="523.00" y1="639.20" x2="523.00" y2="640.20" stroke="#777" stroke-width="0.4" />
<line x1="526.00" y1="639.20" x2="526.00" y2="640.20" stroke="#777" stroke-width="0.4" />
<line x1="529.00" y1="639.20" x2="529.00" y2="640.20" stroke="#777" stroke-width="0.4" />
<line x1="532.00" y1="639.20" x2="532.00" y2="640.20" stroke="#777" stroke-width="0.4" />
<line x1="535.00" y1="639.20" x2="535.00" y2="640.20" stroke="#777" stroke-width="0.4" />
<line x1="478.60" y1="639.20" x2="478.60" y2="641.00" stroke="#333" stroke-width="0.5" />
<text x="478.60" y="644.70" font-size="3.4" font-weight="normal" fill="#444" text-anchor="middle" >0</text>
<line x1="507.00" y1="639.20" x2="507.00" y2="641.00" stroke="#333" stroke-width="0.5" />
<text x="507.00" y="644.70" font-size="3.4" font-weight="normal" fill="#444" text-anchor="middle" >10³</text>
<line x1="521.60" y1="639.20" x2="521.60" y2="641.00" stroke="#333" stroke-width="0.5" />
<text x="521.60" y="644.70" font-size="3.4" font-weight="normal" fill="#444" text-anchor="middle" >10⁴</text>
<line x1="536.10" y1="639.20" x2="536.10" y2="641.00" stroke="#333" stroke-width="0.5" />
<text x="536.10" y="644.70" font-size="3.4" font-weight="normal" fill="#444" text-anchor="middle" >10⁵</text>
<rect x="472.00" y="638.40" width="4.00" height="1.40" fill="#222" stroke="none" stroke-width="1" />
<line x1="462.00" y1="652.80" x2="473.50" y2="652.80" stroke="#222" stroke-width="0.5" />
<path d="M476.00,652.80 L473.40,653.97 L473.40,651.63 Z" fill="#222" stroke="none" stroke-width="1" />
<text x="477.50" y="654.50" font-size="5.0" font-weight="normal" fill="#222" textLength="66.30" lengthAdjust="spacingAndGlyphs" >Y586 - Ms4a3-Cre Tdt<tspan baseline-shift="super" font-size="70%">+</tspan></text>
<rect x="463.00" y="662.50" width="77.00" height="77.90" fill="#fff" stroke="#bdbdbd" stroke-width="1.2" />
<text x="465.40" y="669.10" font-size="4.3" font-weight="normal" fill="#333" textLength="24.00" lengthAdjust="spacingAndGlyphs" >Tdt<tspan baseline-shift="super" font-size="70%">-</tspan> subset</text>
<text x="508.30" y="669.10" font-size="4.3" font-weight="normal" fill="#333" textLength="25.70" lengthAdjust="spacingAndGlyphs" >Tdt<tspan baseline-shift="super" font-size="70%">+</tspan> subset</text>
<line x1="465.40" y1="675.70" x2="492.90" y2="675.70" stroke="#444" stroke-width="0.7" />
<line x1="465.40" y1="674.40" x2="465.40" y2="677.00" stroke="#444" stroke-width="0.7" />
<line x1="492.90" y1="674.40" x2="492.90" y2="677.00" stroke="#444" stroke-width="0.7" />
<line x1="505.90" y1="675.70" x2="538.50" y2="675.70" stroke="#444" stroke-width="0.7" />
<line x1="505.90" y1="674.40" x2="505.90" y2="677.00" stroke="#444" stroke-width="0.7" />
<line x1="538.50" y1="674.40" x2="538.50" y2="677.00" stroke="#444" stroke-width="0.7" />
<text x="478.30" y="683.00" font-size="4.6" font-weight="normal" fill="#333" text-anchor="middle" >1.00</text>
<text x="529.00" y="683.00" font-size="4.6" font-weight="normal" fill="#333" text-anchor="middle" >99.0</text>
<path d="M509.40,739.58 L509.86,739.56 L510.32,739.52 L510.78,739.44 L511.24,739.30 L511.70,739.04 L512.16,738.60 L512.62,737.88 L513.08,736.76 L513.54,735.10 L514.00,732.75 L514.46,729.59 L514.92,725.53 L515.38,720.61 L515.84,714.97 L516.30,708.91 L516.76,702.86 L517.22,697.34 L517.68,692.89 L518.14,690.00 L518.60,689.00 L519.06,690.00 L519.52,692.89 L519.98,697.34 L520.44,702.86 L520.90,708.91 L521.36,714.97 L521.82,720.61 L522.28,725.53 L522.74,729.59 L523.20,732.75 L523.66,735.10 L524.12,736.76 L524.58,737.88 L525.04,738.60 L525.50,739.04 L525.96,739.30 L526.42,739.44 L526.88,739.52 L527.34,739.56 L527.80,739.58 Z" fill="#f7a5a5" stroke="#e07070" stroke-width="0.5" />
<path d="M472.60,739.60 L472.92,739.60 L473.24,739.60 L473.56,739.60 L473.88,739.59 L474.20,739.59 L474.52,739.58 L474.84,739.56 L475.16,739.54 L475.48,739.50 L475.80,739.45 L476.12,739.38 L476.44,739.29 L476.76,739.19 L477.08,739.06 L477.40,738.93 L477.72,738.80 L478.04,738.68 L478.36,738.58 L478.68,738.52 L479.00,738.50 L479.32,738.52 L479.64,738.58 L479.96,738.68 L480.28,738.80 L480.60,738.93 L480.92,739.06 L481.24,739.19 L481.56,739.29 L481.88,739.38 L482.20,739.45 L482.52,739.50 L482.84,739.54 L483.16,739.56 L483.48,739.58 L483.80,739.59 L484.12,739.59 L484.44,739.60 L484.76,739.60 L485.08,739.60 L485.40,739.60 Z" fill="#f7a5a5" stroke="#e07070" stroke-width="0.4" />
<line x1="466.00" y1="740.40" x2="466.00" y2="741.40" stroke="#777" stroke-width="0.4" />
<line x1="469.00" y1="740.40" x2="469.00" y2="741.40" stroke="#777" stroke-width="0.4" />
<line x1="472.00" y1="740.40" x2="472.00" y2="741.40" stroke="#777" stroke-width="0.4" />
<line x1="475.00" y1="740.40" x2="475.00" y2="741.40" stroke="#777" stroke-width="0.4" />
<line x1="478.00" y1="740.40" x2="478.00" y2="741.40" stroke="#777" stroke-width="0.4" />
<line x1="481.00" y1="740.40" x2="481.00" y2="741.40" stroke="#777" stroke-width="0.4" />
<line x1="484.00" y1="740.40" x2="484.00" y2="741.40" stroke="#777" stroke-width="0.4" />
<line x1="487.00" y1="740.40" x2="487.00" y2="741.40" stroke="#777" stroke-width="0.4" />
<line x1="490.00" y1="740.40" x2="490.00" y2="741.40" stroke="#777" stroke-width="0.4" />
<line x1="493.00" y1="740.40" x2="493.00" y2="741.40" stroke="#777" stroke-width="0.4" />
<line x1="496.00" y1="740.40" x2="496.00" y2="741.40" stroke="#777" stroke-width="0.4" />
<line x1="499.00" y1="740.40" x2="499.00" y2="741.40" stroke="#777" stroke-width="0.4" />
<line x1="502.00" y1="740.40" x2="502.00" y2="741.40" stroke="#777" stroke-width="0.4" />
<line x1="505.00" y1="740.40" x2="505.00" y2="741.40" stroke="#777" stroke-width="0.4" />
<line x1="508.00" y1="740.40" x2="508.00" y2="741.40" stroke="#777" stroke-width="0.4" />
<line x1="511.00" y1="740.40" x2="511.00" y2="741.40" stroke="#777" stroke-width="0.4" />
<line x1="514.00" y1="740.40" x2="514.00" y2="741.40" stroke="#777" stroke-width="0.4" />
<line x1="517.00" y1="740.40" x2="517.00" y2="741.40" stroke="#777" stroke-width="0.4" />
<line x1="520.00" y1="740.40" x2="520.00" y2="741.40" stroke="#777" stroke-width="0.4" />
<line x1="523.00" y1="740.40" x2="523.00" y2="741.40" stroke="#777" stroke-width="0.4" />
<line x1="526.00" y1="740.40" x2="526.00" y2="741.40" stroke="#777" stroke-width="0.4" />
<line x1="529.00" y1="740.40" x2="529.00" y2="741.40" stroke="#777" stroke-width="0.4" />
<line x1="532.00" y1="740.40" x2="532.00" y2="741.40" stroke="#777" stroke-width="0.4" />
<line x1="535.00" y1="740.40" x2="535.00" y2="741.40" stroke="#777" stroke-width="0.4" />
<line x1="478.60" y1="740.40" x2="478.60" y2="742.20" stroke="#333" stroke-width="0.5" />
<text x="478.60" y="745.90" font-size="3.4" font-weight="normal" fill="#444" text-anchor="middle" >0</text>
<line x1="507.00" y1="740.40" x2="507.00" y2="742.20" stroke="#333" stroke-width="0.5" />
<text x="507.00" y="745.90" font-size="3.4" font-weight="normal" fill="#444" text-anchor="middle" >10³</text>
<line x1="521.60" y1="740.40" x2="521.60" y2="742.20" stroke="#333" stroke-width="0.5" />
<text x="521.60" y="745.90" font-size="3.4" font-weight="normal" fill="#444" text-anchor="middle" >10⁴</text>
<line x1="536.10" y1="740.40" x2="536.10" y2="742.20" stroke="#333" stroke-width="0.5" />
<text x="536.10" y="745.90" font-size="3.4" font-weight="normal" fill="#444" text-anchor="middle" >10⁵</text>
<rect x="472.00" y="739.60" width="4.00" height="1.40" fill="#222" stroke="none" stroke-width="1" />
<line x1="462.00" y1="754.00" x2="473.50" y2="754.00" stroke="#222" stroke-width="0.5" />
<path d="M476.00,754.00 L473.40,755.17 L473.40,752.83 Z" fill="#222" stroke="none" stroke-width="1" />
<text x="477.50" y="755.70" font-size="5.0" font-weight="normal" fill="#222" textLength="66.30" lengthAdjust="spacingAndGlyphs" >Y586 - Ms4a3-Cre Tdt<tspan baseline-shift="super" font-size="70%">+</tspan></text>
<text x="566.00" y="630.50" font-size="9.3" font-weight="bold" fill="#000" text-anchor="middle" textLength="151.00" lengthAdjust="spacingAndGlyphs" transform="rotate(-90 566.00 630.50)" >Frequency of Tdt<tspan baseline-shift="48%" font-size="82%">+</tspan> neutrophils (%)</text>
<text x="585.80" y="711.40" font-size="10.2" font-weight="bold" fill="#000" text-anchor="end" >0</text>
<line x1="586.30" y1="707.80" x2="589.00" y2="707.80" stroke="#000" stroke-width="0.9" />
<text x="585.80" y="685.80" font-size="10.2" font-weight="bold" fill="#000" text-anchor="end" >20</text>
<line x1="586.30" y1="682.20" x2="589.00" y2="682.20" stroke="#000" stroke-width="0.9" />
<text x="585.80" y="660.20" font-size="10.2" font-weight="bold" fill="#000" text-anchor="end" >40</text>
<line x1="586.30" y1="656.60" x2="589.00" y2="656.60" stroke="#000" stroke-width="0.9" />
<text x="585.80" y="634.60" font-size="10.2" font-weight="bold" fill="#000" text-anchor="end" >60</text>
<line x1="586.30" y1="631.00" x2="589.00" y2="631.00" stroke="#000" stroke-width="0.9" />
<text x="585.80" y="609.00" font-size="10.2" font-weight="bold" fill="#000" text-anchor="end" >80</text>
<line x1="586.30" y1="605.40" x2="589.00" y2="605.40" stroke="#000" stroke-width="0.9" />
<text x="585.80" y="583.40" font-size="10.2" font-weight="bold" fill="#000" text-anchor="end" >100</text>
<line x1="586.30" y1="579.80" x2="589.00" y2="579.80" stroke="#000" stroke-width="0.9" />
<rect x="603.70" y="579.80" width="27.10" height="2.56" fill="#9a9a9a" stroke="#333" stroke-width="0.7" />
<rect x="603.70" y="582.36" width="27.10" height="125.44" fill="#ff9999" stroke="#333" stroke-width="0.7" />
<line x1="617.25" y1="579.80" x2="617.25" y2="580.31" stroke="#333" stroke-width="0.8" />
<line x1="610.75" y1="580.31" x2="623.75" y2="580.31" stroke="#333" stroke-width="0.9" />
<line x1="617.25" y1="707.80" x2="617.25" y2="710.30" stroke="#000" stroke-width="0.9" />
<rect x="644.50" y="579.80" width="26.10" height="6.40" fill="#9a9a9a" stroke="#333" stroke-width="0.7" />
<rect x="644.50" y="586.20" width="26.10" height="121.60" fill="#ff9999" stroke="#333" stroke-width="0.7" />
<line x1="657.55" y1="579.80" x2="657.55" y2="576.60" stroke="#333" stroke-width="0.8" />
<line x1="651.05" y1="576.60" x2="664.05" y2="576.60" stroke="#333" stroke-width="0.9" />
<line x1="657.55" y1="707.80" x2="657.55" y2="710.30" stroke="#000" stroke-width="0.9" />
<line x1="651.10" y1="583.00" x2="664.10" y2="583.00" stroke="#555" stroke-width="0.8" />
<line x1="589.00" y1="576.00" x2="589.00" y2="707.80" stroke="#000" stroke-width="1" />
<line x1="589.00" y1="707.80" x2="684.00" y2="707.80" stroke="#000" stroke-width="1" />
<path d="M617,567 L617,563.7 L657.5,563.7 L657.5,567" fill="none" stroke="#222" stroke-width="0.7" />
<text x="637.40" y="560.30" font-size="8" font-weight="normal" fill="#333" text-anchor="middle" >ns</text>
<text x="617.60" y="719.80" font-size="9.8" font-weight="bold" fill="#000" text-anchor="middle" >BM</text>
<text x="657.20" y="719.80" font-size="9.8" font-weight="bold" fill="#000" text-anchor="middle" textLength="38.40" lengthAdjust="spacingAndGlyphs" >Thymus</text>
<rect x="580.40" y="731.80" width="6.10" height="8.60" fill="#ff9999" stroke="#333" stroke-width="0.6" />
<rect x="580.40" y="749.00" width="6.10" height="8.50" fill="#9a9a9a" stroke="#333" stroke-width="0.6" />
<text x="589.20" y="741.00" font-size="10" font-weight="normal" fill="#111" textLength="47.80" lengthAdjust="spacingAndGlyphs" >Tdtomato<tspan baseline-shift="48%" font-size="82%">+</tspan></text>
<text x="589.20" y="757.80" font-size="10" font-weight="normal" fill="#111" textLength="46.00" lengthAdjust="spacingAndGlyphs" >Tdtomato<tspan baseline-shift="48%" font-size="82%">-</tspan></text>
<text x="147.60" y="791.90" font-size="16.3" font-weight="bold" fill="#000" >F</text>
<text x="182.60" y="789.00" font-size="12" font-weight="bold" fill="#000" textLength="312.00" lengthAdjust="spacingAndGlyphs" >Proposed developmental model for thymic neutrophils</text>
<rect x="200.30" y="802.60" width="275.30" height="215.20" fill="#fefbf2" stroke="#c99a62" stroke-width="1.2" rx="6"/>
<text x="211.00" y="816.60" font-size="8.1" font-weight="bold" fill="#000" textLength="30.50" lengthAdjust="spacingAndGlyphs" >Thymus</text>
<text x="162.60" y="818.40" font-size="8.2" font-weight="bold" fill="#000" text-anchor="middle" textLength="13.60" lengthAdjust="spacingAndGlyphs" >BM</text>
<text x="162.50" y="828.40" font-size="8.2" font-weight="bold" fill="#000" text-anchor="middle" textLength="47.50" lengthAdjust="spacingAndGlyphs" >progenitors</text>
<circle cx="162.40" cy="857.00" r="22.20" fill="#ebebeb" stroke="#a9a9a9" stroke-width="0.7" />
<circle cx="163.80" cy="857.60" r="16.80" fill="#d0d0d0" stroke="none" stroke-width="1" />
<path d="M154.9,880 C155.5,888 158,898 163.7,903.9 C168,908 176,910.5 188.2,915 L187.6,927.8 L211.6,909.1 L192.9,886.4 L191.7,898 C184,896.5 178,893.5 174.5,889.5 C172,886.5 171.5,883.5 171.3,880 Z" fill="url(#gy)" stroke="none" stroke-width="1" />
<path d="M258,890 C285,888.5 305,886 320,882 C333,878.5 345,873.5 358,865.9 L347.4,852.3 L391.2,857.3 L386,900.7 L373.1,886.7 C365,890.5 360,893 355,894.9 C343,899.5 332,903.5 320,906.6 C300,911.5 280,914.5 258,915.5 Z" fill="url(#gg)" stroke="none" stroke-width="1" />
<path d="M258,913.5 C285,914 308,916.5 330,923.1 C340,926 350,929 356.3,931.7 C364,935 370,938 373.4,941.5 C377,944 381,946.5 384.5,948.8 L397,934 L401.6,978.3 L357.6,982.9 L368.1,969.1 C362,965 356,961 349.7,957.3 C342,953.5 337,951.5 330,949.4 C308,942 285,938.5 258,938 Z" fill="url(#gr)" stroke="none" stroke-width="1" />
<circle cx="237.30" cy="910.10" r="25.30" fill="#fdefc6" stroke="#b08050" stroke-width="0.8" />
<circle cx="238.50" cy="910.60" r="19.80" fill="#f5c88e" stroke="none" stroke-width="1" />
<text x="227.80" y="911.50" font-size="9.8" font-weight="bold" fill="#b8843e" textLength="25.40" lengthAdjust="spacingAndGlyphs" >Rag1<tspan baseline-shift="60%" font-size="55%">+</tspan></text>
<text x="237.70" y="861.80" font-size="8.1" font-weight="bold" fill="#000" text-anchor="middle" textLength="65.00" lengthAdjust="spacingAndGlyphs" >Lympho-myeloid</text>
<text x="237.70" y="871.70" font-size="8.1" font-weight="bold" fill="#000" text-anchor="middle" textLength="69.60" lengthAdjust="spacingAndGlyphs" >primed progenitor</text>
<text x="237.35" y="880.90" font-size="8.1" font-weight="bold" fill="#000" text-anchor="middle" textLength="33.50" lengthAdjust="spacingAndGlyphs" >(LMPPs)</text>
<text x="283.60" y="855.80" font-size="8.7" font-weight="normal" fill="#333" textLength="55.40" lengthAdjust="spacingAndGlyphs" >T cell pathway</text>
<circle cx="283.60" cy="902.30" r="10.10" fill="#c6e5b9" stroke="#b2d8a6" stroke-width="0.7" />
<circle cx="283.60" cy="902.30" r="9.10" fill="none" stroke="#dff0d6" stroke-width="0.9" />
<text x="283.60" y="904.35" font-size="5.7" font-weight="bold" fill="#222" text-anchor="middle" textLength="13.40" lengthAdjust="spacingAndGlyphs" >CLPs</text>
<circle cx="307.70" cy="897.90" r="10.10" fill="#c6e5b9" stroke="#b2d8a6" stroke-width="0.7" />
<circle cx="307.70" cy="897.90" r="9.10" fill="none" stroke="#dff0d6" stroke-width="0.9" />
<text x="307.70" y="899.95" font-size="5.7" font-weight="bold" fill="#222" text-anchor="middle" textLength="15.60" lengthAdjust="spacingAndGlyphs" >DN1-2</text>
<circle cx="332.00" cy="890.80" r="10.10" fill="#c6e5b9" stroke="#b2d8a6" stroke-width="0.7" />
<circle cx="332.00" cy="890.80" r="9.10" fill="none" stroke="#dff0d6" stroke-width="0.9" />
<text x="332.00" y="892.85" font-size="5.7" font-weight="bold" fill="#222" text-anchor="middle" textLength="16.20" lengthAdjust="spacingAndGlyphs" >DN3-4</text>
<circle cx="355.60" cy="881.50" r="10.10" fill="#c6e5b9" stroke="#b2d8a6" stroke-width="0.7" />
<circle cx="355.60" cy="881.50" r="9.10" fill="none" stroke="#dff0d6" stroke-width="0.9" />
<text x="355.60" y="883.55" font-size="5.7" font-weight="bold" fill="#222" text-anchor="middle" textLength="17.80" lengthAdjust="spacingAndGlyphs" >DP-SP</text>
<circle cx="290.50" cy="926.80" r="10.10" fill="#e7a9aa" stroke="#d89a9a" stroke-width="0.7" />
<circle cx="290.50" cy="926.80" r="9.10" fill="none" stroke="#f0c4c4" stroke-width="0.9" />
<text x="290.50" y="928.85" font-size="5.7" font-weight="bold" fill="#222" text-anchor="middle" textLength="15.20" lengthAdjust="spacingAndGlyphs" >GMPs</text>
<circle cx="323.30" cy="931.60" r="10.10" fill="#f7bcd4" stroke="#f0a8c4" stroke-width="0.7" />
<circle cx="323.30" cy="931.60" r="9.10" fill="none" stroke="#fde0ea" stroke-width="0.9" />
<text x="323.30" y="933.58" font-size="5.5" font-weight="bold" fill="#222" text-anchor="middle" textLength="19.50" lengthAdjust="spacingAndGlyphs" >PreNeu</text>
<circle cx="355.60" cy="945.50" r="11.00" fill="#ec8686" stroke="#c86a6a" stroke-width="0.7" />
<path d="M349,939 C352,935.5 358,936 359,940 C360,944 355,945 356,948 C357,951 362,950 362,953 C361,956 352,956 349,951 C347,947 347,942 349,939 Z" fill="#d45c60" stroke="none" stroke-width="1" opacity="0.8"/>
<text x="355.60" y="947.66" font-size="6.0" font-weight="bold" fill="#222" text-anchor="middle" textLength="13.60" lengthAdjust="spacingAndGlyphs" >iNeu</text>
<text x="286.10" y="952.40" font-size="9.8" font-weight="bold" fill="#c8353a" text-anchor="middle" textLength="30.80" lengthAdjust="spacingAndGlyphs" >Ms4a3<tspan baseline-shift="60%" font-size="55%">+</tspan></text>
<text x="328.80" y="966.90" font-size="8.7" font-weight="normal" fill="#333" text-anchor="middle" textLength="45.00" lengthAdjust="spacingAndGlyphs" >Neutrophils</text>
<text x="328.80" y="977.20" font-size="8.7" font-weight="normal" fill="#333" text-anchor="middle" textLength="31.50" lengthAdjust="spacingAndGlyphs" >pathway</text>
<circle cx="410.80" cy="848.30" r="21.60" fill="#a8d3b0" stroke="#6aa67a" stroke-width="0.7" />
<circle cx="412.00" cy="850.60" r="13.30" fill="#6db38a" stroke="none" stroke-width="1" />
<line x1="416.20" y1="831.80" x2="421.30" y2="820.00" stroke="#1f5f93" stroke-width="0.7" />
<line x1="419.60" y1="832.40" x2="424.80" y2="820.80" stroke="#1f5f93" stroke-width="0.7" />
<line x1="420.70" y1="821.20" x2="426.10" y2="808.50" stroke="#1f6aa0" stroke-width="2.5" />
<line x1="424.30" y1="822.00" x2="429.90" y2="809.30" stroke="#1f6aa0" stroke-width="2.5" />
<line x1="422.50" y1="821.50" x2="428.00" y2="808.80" stroke="#fefbf2" stroke-width="0.5" />
<text x="393.30" y="816.30" font-size="8.1" font-weight="bold" fill="#000" textLength="25.90" lengthAdjust="spacingAndGlyphs" >T cells</text>
<ellipse cx="426.3" cy="980.6" rx="24.2" ry="25.3" fill="#f8d8c6" stroke="#c9a08c" stroke-width="0.7"/>
<path d="M413,966 C414,960 422,959.5 424.5,963.5 C426.5,967 423,970 419.5,970.5 C417,971 416,973 417.5,975.5 C420,979 423,981 423,986 C423,989 427,987.5 430,986 C435,984 440,986 439,991.5 C438,997 430,998.5 425,995 C421,992.5 418,992.5 415,991.5 C410.5,989 410,983 411.5,977 C412.5,973 412.5,969 413,966 Z" fill="#e3b6a6" stroke="none" stroke-width="1" />
<circle cx="420.50" cy="959.80" r="0.45" fill="#d9a898" stroke="none" stroke-width="1" />
<circle cx="429.00" cy="963.50" r="0.45" fill="#d9a898" stroke="none" stroke-width="1" />
<circle cx="434.50" cy="968.50" r="0.45" fill="#d9a898" stroke="none" stroke-width="1" />
<circle cx="431.50" cy="973.00" r="0.45" fill="#d9a898" stroke="none" stroke-width="1" />
<circle cx="436.50" cy="973.50" r="0.45" fill="#d9a898" stroke="none" stroke-width="1" />
<circle cx="441.50" cy="973.00" r="0.45" fill="#d9a898" stroke="none" stroke-width="1" />
<circle cx="438.50" cy="979.50" r="0.45" fill="#d9a898" stroke="none" stroke-width="1" />
<circle cx="443.50" cy="983.50" r="0.45" fill="#d9a898" stroke="none" stroke-width="1" />
<circle cx="432.50" cy="983.50" r="0.45" fill="#d9a898" stroke="none" stroke-width="1" />
<circle cx="409.00" cy="970.50" r="0.45" fill="#d9a898" stroke="none" stroke-width="1" />
<circle cx="409.50" cy="979.50" r="0.45" fill="#d9a898" stroke="none" stroke-width="1" />
<circle cx="408.00" cy="986.00" r="0.45" fill="#d9a898" stroke="none" stroke-width="1" />
<circle cx="417.50" cy="996.50" r="0.45" fill="#d9a898" stroke="none" stroke-width="1" />
<circle cx="424.50" cy="1001.00" r="0.45" fill="#d9a898" stroke="none" stroke-width="1" />
<circle cx="433.50" cy="1000.00" r="0.45" fill="#d9a898" stroke="none" stroke-width="1" />
<circle cx="444.00" cy="991.50" r="0.45" fill="#d9a898" stroke="none" stroke-width="1" />
<circle cx="426.00" cy="972.50" r="0.45" fill="#d9a898" stroke="none" stroke-width="1" />
<circle cx="422.50" cy="978.00" r="0.45" fill="#d9a898" stroke="none" stroke-width="1" />
<text x="436.75" y="937.40" font-size="8.1" font-weight="bold" fill="#000" text-anchor="middle" textLength="61.30" lengthAdjust="spacingAndGlyphs" >Thymic-derived</text>
<text x="436.65" y="947.20" font-size="8.1" font-weight="bold" fill="#000" text-anchor="middle" textLength="45.30" lengthAdjust="spacingAndGlyphs" >Neutrophils</text>
</svg></body></html>
